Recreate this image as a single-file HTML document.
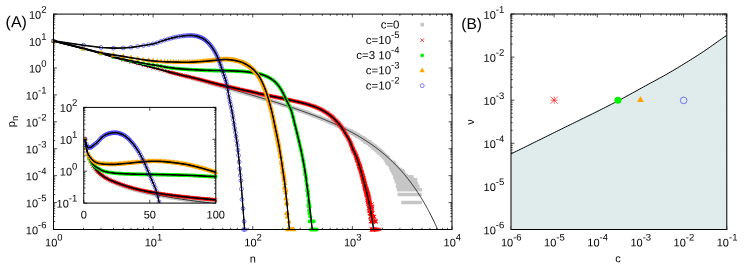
<!DOCTYPE html>
<html><head><meta charset="utf-8"><title>figure</title><style>html,body{margin:0;padding:0;background:#fff;width:747px;height:267px;overflow:hidden}svg{opacity:0.999;will-change:transform}text,tspan{font-family:"Liberation Sans",sans-serif;text-rendering:geometricPrecision}</style></head><body>
<svg width="747" height="267" viewBox="0 0 747 267" style="display:block;position:absolute;left:0;top:0" font-family="'Liberation Sans', sans-serif" fill="#000">
<rect width="747" height="267" fill="#fff"/>
<clipPath id="ca"><rect x="50.5" y="14.1" width="404.5" height="217.9"/></clipPath>
<clipPath id="cl"><rect x="53.5" y="14.1" width="398.5" height="215.4"/></clipPath>
<clipPath id="clu"><rect x="167.68" y="14.1" width="284.32" height="190.9"/></clipPath>
<clipPath id="ciu"><rect x="95.63" y="107.4" width="120.17" height="95.7"/></clipPath>
<clipPath id="ci"><rect x="83.75" y="107.4" width="134.05" height="95.7"/></clipPath>
<g clip-path="url(#ca)">
<path d="M51.7 39.16h3.6v3.6h-3.6zM81.69 47.19h3.6v3.6h-3.6zM99.23 51.87h3.6v3.6h-3.6zM111.68 55.21h3.6v3.6h-3.6zM121.33 57.81h3.6v3.6h-3.6zM129.22 59.89h3.6v3.6h-3.6zM135.89 61.69h3.6v3.6h-3.6zM141.67 63.24h3.6v3.6h-3.6zM146.77 64.64h3.6v3.6h-3.6zM151.32 65.83h3.6v3.6h-3.6zM155.45 66.96h3.6v3.6h-3.6zM159.21 67.96h3.6v3.6h-3.6zM162.68 68.93h3.6v3.6h-3.6zM165.88 69.79h3.6v3.6h-3.6zM168.87 70.56h3.6v3.6h-3.6zM171.66 71.35h3.6v3.6h-3.6zM174.28 72.06h3.6v3.6h-3.6zM176.76 72.7h3.6v3.6h-3.6zM179.1 73.34h3.6v3.6h-3.6zM181.32 73.97h3.6v3.6h-3.6zM183.43 74.5h3.6v3.6h-3.6zM185.44 75.15h3.6v3.6h-3.6zM187.36 75.63h3.6v3.6h-3.6zM189.2 76.15h3.6v3.6h-3.6zM190.97 76.57h3.6v3.6h-3.6zM192.67 77.03h3.6v3.6h-3.6zM194.3 77.54h3.6v3.6h-3.6zM195.87 77.96h3.6v3.6h-3.6zM197.39 78.35h3.6v3.6h-3.6zM198.86 78.76h3.6v3.6h-3.6zM200.28 79.16h3.6v3.6h-3.6zM201.65 79.52h3.6v3.6h-3.6zM202.98 79.85h3.6v3.6h-3.6zM204.27 80.27h3.6v3.6h-3.6zM205.53 80.66h3.6v3.6h-3.6zM206.75 80.96h3.6v3.6h-3.6zM207.93 81.28h3.6v3.6h-3.6zM209.09 81.62h3.6v3.6h-3.6zM210.21 81.89h3.6v3.6h-3.6zM211.31 82.19h3.6v3.6h-3.6zM212.37 82.48h3.6v3.6h-3.6zM213.42 82.79h3.6v3.6h-3.6zM214.43 83.08h3.6v3.6h-3.6zM215.43 83.41h3.6v3.6h-3.6zM216.4 83.65h3.6v3.6h-3.6zM217.35 83.94h3.6v3.6h-3.6zM218.28 84.15h3.6v3.6h-3.6zM219.19 84.42h3.6v3.6h-3.6zM220.09 84.67h3.6v3.6h-3.6zM220.96 84.89h3.6v3.6h-3.6zM221.82 85.17h3.6v3.6h-3.6zM222.66 85.34h3.6v3.6h-3.6zM223.48 85.58h3.6v3.6h-3.6zM224.29 85.89h3.6v3.6h-3.6zM225.08 86.02h3.6v3.6h-3.6zM225.86 86.31h3.6v3.6h-3.6zM226.63 86.54h3.6v3.6h-3.6zM227.38 86.74h3.6v3.6h-3.6zM228.12 86.99h3.6v3.6h-3.6zM228.85 87.12h3.6v3.6h-3.6zM229.56 87.29h3.6v3.6h-3.6zM230.27 87.62h3.6v3.6h-3.6zM230.96 87.72h3.6v3.6h-3.6zM231.64 87.91h3.6v3.6h-3.6zM232.31 88.09h3.6v3.6h-3.6zM232.97 88.28h3.6v3.6h-3.6zM233.62 88.48h3.6v3.6h-3.6zM234.26 88.71h3.6v3.6h-3.6zM235.52 89.03h3.6v3.6h-3.6zM236.13 89.18h3.6v3.6h-3.6zM236.74 89.38h3.6v3.6h-3.6zM237.33 89.58h3.6v3.6h-3.6zM238.5 89.87h3.6v3.6h-3.6zM239.64 90.33h3.6v3.6h-3.6zM240.75 90.64h3.6v3.6h-3.6zM241.83 90.9h3.6v3.6h-3.6zM242.89 91.18h3.6v3.6h-3.6zM243.92 91.5h3.6v3.6h-3.6zM244.92 91.8h3.6v3.6h-3.6zM245.91 92.03h3.6v3.6h-3.6zM246.87 92.38h3.6v3.6h-3.6zM247.81 92.59h3.6v3.6h-3.6zM248.73 92.93h3.6v3.6h-3.6zM249.63 93.11h3.6v3.6h-3.6zM250.52 93.29h3.6v3.6h-3.6zM251.38 93.68h3.6v3.6h-3.6zM252.23 94.02h3.6v3.6h-3.6zM253.06 94.09h3.6v3.6h-3.6zM253.88 94.48h3.6v3.6h-3.6zM254.68 94.66h3.6v3.6h-3.6zM255.47 94.76h3.6v3.6h-3.6zM256.24 95.12h3.6v3.6h-3.6zM257 95.28h3.6v3.6h-3.6zM257.74 95.53h3.6v3.6h-3.6zM258.48 95.8h3.6v3.6h-3.6zM259.2 95.92h3.6v3.6h-3.6zM259.91 96.12h3.6v3.6h-3.6zM260.6 96.52h3.6v3.6h-3.6zM261.63 96.78h3.6v3.6h-3.6zM262.3 97.04h3.6v3.6h-3.6zM263.29 97.31h3.6v3.6h-3.6zM264.25 97.49h3.6v3.6h-3.6zM265.2 97.75h3.6v3.6h-3.6zM266.12 98.15h3.6v3.6h-3.6zM267.03 98.33h3.6v3.6h-3.6zM267.62 98.5h3.6v3.6h-3.6zM268.2 98.78h3.6v3.6h-3.6zM269.07 98.89h3.6v3.6h-3.6zM269.63 99.12h3.6v3.6h-3.6zM270.47 99.6h3.6v3.6h-3.6zM271.29 99.69h3.6v3.6h-3.6zM272.09 99.85h3.6v3.6h-3.6zM272.62 100.1h3.6v3.6h-3.6zM273.4 100.24h3.6v3.6h-3.6zM274.16 100.58h3.6v3.6h-3.6zM274.91 100.78h3.6v3.6h-3.6zM275.65 100.98h3.6v3.6h-3.6zM276.38 101.22h3.6v3.6h-3.6zM277.1 101.54h3.6v3.6h-3.6zM277.8 101.75h3.6v3.6h-3.6zM278.49 101.98h3.6v3.6h-3.6zM279.17 102.19h3.6v3.6h-3.6zM279.84 102.45h3.6v3.6h-3.6zM280.51 102.66h3.6v3.6h-3.6zM281.16 102.8h3.6v3.6h-3.6zM281.8 103.05h3.6v3.6h-3.6zM282.64 103.44h3.6v3.6h-3.6zM283.46 103.64h3.6v3.6h-3.6zM284.27 103.84h3.6v3.6h-3.6zM285.06 103.98h3.6v3.6h-3.6zM285.65 104.18h3.6v3.6h-3.6zM286.42 104.53h3.6v3.6h-3.6zM286.99 104.89h3.6v3.6h-3.6zM287.73 104.94h3.6v3.6h-3.6zM288.47 105.24h3.6v3.6h-3.6zM289.19 105.47h3.6v3.6h-3.6zM289.72 105.71h3.6v3.6h-3.6zM290.42 105.83h3.6v3.6h-3.6zM291.11 106.13h3.6v3.6h-3.6zM291.79 106.23h3.6v3.6h-3.6zM292.29 106.53h3.6v3.6h-3.6zM293.12 106.49h3.6v3.6h-3.6zM293.6 106.84h3.6v3.6h-3.6zM294.08 107.19h3.6v3.6h-3.6zM294.88 107.07h3.6v3.6h-3.6zM295.34 107.43h3.6v3.6h-3.6zM295.81 107.76h3.6v3.6h-3.6zM296.42 108h3.6v3.6h-3.6zM297.17 108.11h3.6v3.6h-3.6zM297.76 108.5h3.6v3.6h-3.6zM298.34 108.8h3.6v3.6h-3.6zM298.91 108.59h3.6v3.6h-3.6zM299.34 109.25h3.6v3.6h-3.6zM300.18 109.46h3.6v3.6h-3.6zM300.87 109.37h3.6v3.6h-3.6zM301.55 109.85h3.6v3.6h-3.6zM302.21 110.15h3.6v3.6h-3.6zM302.87 109.99h3.6v3.6h-3.6zM303.39 110.46h3.6v3.6h-3.6zM304.03 110.6h3.6v3.6h-3.6zM304.78 110.43h3.6v3.6h-3.6zM305.15 111.03h3.6v3.6h-3.6zM305.77 110.87h3.6v3.6h-3.6zM306.01 111.4h3.6v3.6h-3.6zM306.73 111.5h3.6v3.6h-3.6zM307.44 111.77h3.6v3.6h-3.6zM308.02 112.14h3.6v3.6h-3.6zM308.6 112.45h3.6v3.6h-3.6zM309.39 112.72h3.6v3.6h-3.6zM310.06 112.85h3.6v3.6h-3.6zM310.71 113.09h3.6v3.6h-3.6zM311.36 113.44h3.6v3.6h-3.6zM311.89 113.84h3.6v3.6h-3.6zM312.52 113.69h3.6v3.6h-3.6zM313.14 114.04h3.6v3.6h-3.6zM313.86 114.35h3.6v3.6h-3.6zM314.36 114.65h3.6v3.6h-3.6zM314.96 114.92h3.6v3.6h-3.6zM315.74 114.8h3.6v3.6h-3.6zM316.12 115.21h3.6v3.6h-3.6zM316.6 115.58h3.6v3.6h-3.6zM317.16 115.36h3.6v3.6h-3.6zM317.63 115.71h3.6v3.6h-3.6zM318.09 116.22h3.6v3.6h-3.6zM318.82 115.86h3.6v3.6h-3.6zM319.18 116.31h3.6v3.6h-3.6zM319.71 116.78h3.6v3.6h-3.6zM320.32 116.64h3.6v3.6h-3.6zM320.67 117.28h3.6v3.6h-3.6zM321.27 117.09h3.6v3.6h-3.6zM321.86 117.36h3.6v3.6h-3.6zM322.36 117.66h3.6v3.6h-3.6zM323.11 117.81h3.6v3.6h-3.6zM323.67 118.18h3.6v3.6h-3.6zM324.23 118.51h3.6v3.6h-3.6zM324.71 118.84h3.6v3.6h-3.6zM325.18 118.36h3.6v3.6h-3.6zM325.33 119.14h3.6v3.6h-3.6zM325.87 118.88h3.6v3.6h-3.6zM326.25 119.51h3.6v3.6h-3.6zM326.93 119.26h3.6v3.6h-3.6zM327.23 119.81h3.6v3.6h-3.6zM327.67 120.21h3.6v3.6h-3.6zM328.11 119.65h3.6v3.6h-3.6zM328.33 120.35h3.6v3.6h-3.6zM328.98 120.14h3.6v3.6h-3.6zM329.19 120.86h3.6v3.6h-3.6zM329.54 120.09h3.6v3.6h-3.6zM329.75 120.93h3.6v3.6h-3.6zM330.1 121.57h3.6v3.6h-3.6zM330.17 120.69h3.6v3.6h-3.6zM330.65 121.35h3.6v3.6h-3.6zM331.27 121.13h3.6v3.6h-3.6zM331.4 121.76h3.6v3.6h-3.6zM332 121.36h3.6v3.6h-3.6zM332.33 121.88h3.6v3.6h-3.6zM332.79 122.21h3.6v3.6h-3.6zM333.44 122.51h3.6v3.6h-3.6zM333.95 122.21h3.6v3.6h-3.6zM334.14 123.09h3.6v3.6h-3.6zM334.39 122.57h3.6v3.6h-3.6zM334.71 123.02h3.6v3.6h-3.6zM335.02 123.55h3.6v3.6h-3.6zM335.39 123.1h3.6v3.6h-3.6zM335.63 123.68h3.6v3.6h-3.6zM335.94 123.22h3.6v3.6h-3.6zM336.24 123.86h3.6v3.6h-3.6zM336.9 123.69h3.6v3.6h-3.6zM337.08 124.38h3.6v3.6h-3.6zM337.49 124.03h3.6v3.6h-3.6zM337.78 124.64h3.6v3.6h-3.6zM338.42 124.41h3.6v3.6h-3.6zM338.7 125.36h3.6v3.6h-3.6zM338.87 124.78h3.6v3.6h-3.6zM339.32 125.17h3.6v3.6h-3.6zM339.66 125.66h3.6v3.6h-3.6zM340.1 125.33h3.6v3.6h-3.6zM340.49 125.81h3.6v3.6h-3.6zM341.03 126.11h3.6v3.6h-3.6zM341.67 126.35h3.6v3.6h-3.6zM342.2 126.64h3.6v3.6h-3.6zM342.51 127.21h3.6v3.6h-3.6zM342.62 126.47h3.6v3.6h-3.6zM342.82 127.11h3.6v3.6h-3.6zM342.88 126.38h3.6v3.6h-3.6zM342.98 127.09h3.6v3.6h-3.6zM343.29 127.65h3.6v3.6h-3.6zM343.39 126.88h3.6v3.6h-3.6zM343.54 127.64h3.6v3.6h-3.6zM343.8 127.02h3.6v3.6h-3.6zM344 127.72h3.6v3.6h-3.6zM344.35 128.27h3.6v3.6h-3.6zM344.4 127.43h3.6v3.6h-3.6zM344.7 127.94h3.6v3.6h-3.6zM344.99 128.51h3.6v3.6h-3.6zM345.09 127.72h3.6v3.6h-3.6zM345.14 128.89h3.6v3.6h-3.6zM345.19 127.7h3.6v3.6h-3.6zM345.53 128.18h3.6v3.6h-3.6zM346.11 128.73h3.6v3.6h-3.6zM346.3 129.37h3.6v3.6h-3.6zM346.4 128.7h3.6v3.6h-3.6zM346.64 129.31h3.6v3.6h-3.6zM346.73 128.53h3.6v3.6h-3.6zM347.11 128.95h3.6v3.6h-3.6zM347.2 129.67h3.6v3.6h-3.6zM347.25 128.87h3.6v3.6h-3.6zM347.34 129.87h3.6v3.6h-3.6zM347.39 128.88h3.6v3.6h-3.6zM347.53 129.49h3.6v3.6h-3.6zM348.08 130h3.6v3.6h-3.6zM348.22 129.27h3.6v3.6h-3.6zM348.45 129.87h3.6v3.6h-3.6zM348.67 129.3h3.6v3.6h-3.6zM348.72 130.05h3.6v3.6h-3.6zM348.9 129.43h3.6v3.6h-3.6zM348.99 130.37h3.6v3.6h-3.6zM349.26 129.32h3.6v3.6h-3.6zM349.3 130.25h3.6v3.6h-3.6zM349.75 130.56h3.6v3.6h-3.6zM350.18 130.03h3.6v3.6h-3.6zM350.36 131.23h3.6v3.6h-3.6zM350.45 130.54h3.6v3.6h-3.6zM350.62 131.4h3.6v3.6h-3.6zM350.92 130.79h3.6v3.6h-3.6zM351.05 131.46h3.6v3.6h-3.6zM351.56 130.7h3.6v3.6h-3.6zM351.6 131.47h3.6v3.6h-3.6zM351.77 132.08h3.6v3.6h-3.6zM351.85 131.36h3.6v3.6h-3.6zM351.98 132.19h3.6v3.6h-3.6zM352.11 131.21h3.6v3.6h-3.6zM352.19 132.22h3.6v3.6h-3.6zM352.4 131.58h3.6v3.6h-3.6zM352.81 132.14h3.6v3.6h-3.6zM353.06 131.6h3.6v3.6h-3.6zM353.14 132.33h3.6v3.6h-3.6zM353.58 131.98h3.6v3.6h-3.6zM353.62 133.35h3.6v3.6h-3.6zM353.66 132.45h3.6v3.6h-3.6zM354.1 132.8h3.6v3.6h-3.6zM354.3 133.5h3.6v3.6h-3.6zM354.46 132.8h3.6v3.6h-3.6zM354.74 133.34h3.6v3.6h-3.6zM355.05 132.79h3.6v3.6h-3.6zM355.09 133.85h3.6v3.6h-3.6zM355.17 134.67h3.6v3.6h-3.6zM355.21 133.25h3.6v3.6h-3.6zM355.4 133.9h3.6v3.6h-3.6zM355.48 133.15h3.6v3.6h-3.6zM355.59 133.86h3.6v3.6h-3.6zM355.71 133.1h3.6v3.6h-3.6zM355.79 133.81h3.6v3.6h-3.6zM356.09 134.9h3.6v3.6h-3.6zM356.13 134.06h3.6v3.6h-3.6zM356.24 133.28h3.6v3.6h-3.6zM356.28 134.26h3.6v3.6h-3.6zM356.43 133.6h3.6v3.6h-3.6zM356.47 134.88h3.6v3.6h-3.6zM356.51 134.04h3.6v3.6h-3.6zM356.7 134.89h3.6v3.6h-3.6zM356.73 134.07h3.6v3.6h-3.6zM356.92 134.75h3.6v3.6h-3.6zM357.22 134.26h3.6v3.6h-3.6zM357.33 134.9h3.6v3.6h-3.6zM357.63 134.41h3.6v3.6h-3.6zM357.81 135.09h3.6v3.6h-3.6zM358.1 135.66h3.6v3.6h-3.6zM358.28 134.81h3.6v3.6h-3.6zM358.39 135.65h3.6v3.6h-3.6zM358.75 135.02h3.6v3.6h-3.6zM358.79 135.84h3.6v3.6h-3.6zM358.97 135.26h3.6v3.6h-3.6zM359.07 136.51h3.6v3.6h-3.6zM359.11 135.67h3.6v3.6h-3.6zM359.32 136.27h3.6v3.6h-3.6zM359.6 135.45h3.6v3.6h-3.6zM359.67 136.48h3.6v3.6h-3.6zM360.06 135.64h3.6v3.6h-3.6zM360.09 136.42h3.6v3.6h-3.6zM360.26 137.25h3.6v3.6h-3.6zM360.3 135.88h3.6v3.6h-3.6zM360.51 137.65h3.6v3.6h-3.6zM360.54 136.18h3.6v3.6h-3.6zM360.61 136.95h3.6v3.6h-3.6zM360.75 137.63h3.6v3.6h-3.6zM360.78 136.13h3.6v3.6h-3.6zM360.81 137.97h3.6v3.6h-3.6zM360.85 136.85h3.6v3.6h-3.6zM361.12 137.59h3.6v3.6h-3.6zM361.19 136.63h3.6v3.6h-3.6zM361.22 137.65h3.6v3.6h-3.6zM361.29 136.23h3.6v3.6h-3.6zM361.32 137.53h3.6v3.6h-3.6zM361.53 138.32h3.6v3.6h-3.6zM361.56 137.6h3.6v3.6h-3.6zM361.66 136.8h3.6v3.6h-3.6zM361.73 138.73h3.6v3.6h-3.6zM361.79 137.87h3.6v3.6h-3.6zM361.96 138.59h3.6v3.6h-3.6zM361.99 137.29h3.6v3.6h-3.6zM362.03 138.08h3.6v3.6h-3.6zM362.23 137.35h3.6v3.6h-3.6zM362.26 138.28h3.6v3.6h-3.6zM362.39 136.91h3.6v3.6h-3.6zM362.42 138.51h3.6v3.6h-3.6zM362.46 136.87h3.6v3.6h-3.6zM362.49 138.37h3.6v3.6h-3.6zM362.59 137.55h3.6v3.6h-3.6zM362.69 138.23h3.6v3.6h-3.6zM362.75 137.47h3.6v3.6h-3.6zM362.78 138.38h3.6v3.6h-3.6zM362.82 137.64h3.6v3.6h-3.6zM362.91 138.72h3.6v3.6h-3.6zM363.01 139.58h3.6v3.6h-3.6zM363.04 138.53h3.6v3.6h-3.6zM363.14 137.68h3.6v3.6h-3.6zM363.21 138.9h3.6v3.6h-3.6zM363.4 137.83h3.6v3.6h-3.6zM363.46 138.54h3.6v3.6h-3.6zM363.62 139.14h3.6v3.6h-3.6zM363.91 138.62h3.6v3.6h-3.6zM364.01 139.33h3.6v3.6h-3.6zM364.07 140.32h3.6v3.6h-3.6zM364.1 138.73h3.6v3.6h-3.6zM364.2 139.53h3.6v3.6h-3.6zM364.23 138.51h3.6v3.6h-3.6zM364.26 139.43h3.6v3.6h-3.6zM364.29 138.55h3.6v3.6h-3.6zM364.32 139.29h3.6v3.6h-3.6zM364.82 138.99h3.6v3.6h-3.6zM364.92 139.66h3.6v3.6h-3.6zM365.1 139.04h3.6v3.6h-3.6zM365.13 140.33h3.6v3.6h-3.6zM365.29 139.53h3.6v3.6h-3.6zM365.32 138.66h3.6v3.6h-3.6zM365.35 140.49h3.6v3.6h-3.6zM365.5 139.39h3.6v3.6h-3.6zM365.62 140.89h3.6v3.6h-3.6zM365.66 140.03h3.6v3.6h-3.6zM365.87 140.58h3.6v3.6h-3.6zM365.93 141.32h3.6v3.6h-3.6zM365.96 140.1h3.6v3.6h-3.6zM366.23 140.58h3.6v3.6h-3.6zM366.56 141.31h3.6v3.6h-3.6zM366.65 140.42h3.6v3.6h-3.6zM366.77 141.37h3.6v3.6h-3.6zM367.01 139.92h3.6v3.6h-3.6zM367.04 141.15h3.6v3.6h-3.6zM367.3 141.69h3.6v3.6h-3.6zM367.48 141.1h3.6v3.6h-3.6zM367.62 141.97h3.6v3.6h-3.6zM367.65 141.2h3.6v3.6h-3.6zM367.71 139.89h3.6v3.6h-3.6zM367.74 141.28h3.6v3.6h-3.6zM367.83 142.41h3.6v3.6h-3.6zM367.89 140.75h3.6v3.6h-3.6zM367.92 141.54h3.6v3.6h-3.6zM368.03 142.27h3.6v3.6h-3.6zM368.18 143.33h3.6v3.6h-3.6zM368.23 141.54h3.6v3.6h-3.6zM368.32 142.66h3.6v3.6h-3.6zM368.41 141.56h3.6v3.6h-3.6zM368.52 142.39h3.6v3.6h-3.6zM368.61 141.69h3.6v3.6h-3.6zM368.69 142.87h3.6v3.6h-3.6zM368.78 142.11h3.6v3.6h-3.6zM368.8 143.5h3.6v3.6h-3.6zM368.83 141.73h3.6v3.6h-3.6zM368.86 142.58h3.6v3.6h-3.6zM369.03 141.96h3.6v3.6h-3.6zM369.12 142.84h3.6v3.6h-3.6zM369.14 142.02h3.6v3.6h-3.6zM369.28 143.43h3.6v3.6h-3.6zM369.31 142.44h3.6v3.6h-3.6zM369.34 143.61h3.6v3.6h-3.6zM369.37 142.57h3.6v3.6h-3.6zM369.45 143.43h3.6v3.6h-3.6zM369.48 142.39h3.6v3.6h-3.6zM369.56 143.33h3.6v3.6h-3.6zM369.65 142.5h3.6v3.6h-3.6zM369.68 143.73h3.6v3.6h-3.6zM369.82 142.61h3.6v3.6h-3.6zM369.95 143.57h3.6v3.6h-3.6zM370.04 142.27h3.6v3.6h-3.6zM370.06 144.63h3.6v3.6h-3.6zM370.09 143.68h3.6v3.6h-3.6zM370.17 142.98h3.6v3.6h-3.6zM370.23 144.14h3.6v3.6h-3.6zM370.28 143.31h3.6v3.6h-3.6zM370.5 144.21h3.6v3.6h-3.6zM370.53 142.98h3.6v3.6h-3.6zM370.56 143.86h3.6v3.6h-3.6zM370.61 142.68h3.6v3.6h-3.6zM370.67 143.81h3.6v3.6h-3.6zM370.8 144.91h3.6v3.6h-3.6zM370.83 143.76h3.6v3.6h-3.6zM370.91 143.07h3.6v3.6h-3.6zM370.94 144.77h3.6v3.6h-3.6zM370.99 143.65h3.6v3.6h-3.6zM371.1 145.18h3.6v3.6h-3.6zM371.13 143h3.6v3.6h-3.6zM371.15 144.57h3.6v3.6h-3.6zM371.26 143.82h3.6v3.6h-3.6zM371.45 144.91h3.6v3.6h-3.6zM371.53 146.05h3.6v3.6h-3.6zM371.55 145.25h3.6v3.6h-3.6zM371.66 144.11h3.6v3.6h-3.6zM371.77 144.9h3.6v3.6h-3.6zM371.85 145.78h3.6v3.6h-3.6zM371.9 144.46h3.6v3.6h-3.6zM371.98 145.5h3.6v3.6h-3.6zM372.01 144.55h3.6v3.6h-3.6zM372.03 145.3h3.6v3.6h-3.6zM372.11 143.98h3.6v3.6h-3.6zM372.16 145.47h3.6v3.6h-3.6zM372.24 144.71h3.6v3.6h-3.6zM372.32 145.83h3.6v3.6h-3.6zM372.35 144.97h3.6v3.6h-3.6zM372.4 146.11h3.6v3.6h-3.6zM372.43 145.35h3.6v3.6h-3.6zM372.71 144.24h3.6v3.6h-3.6zM372.74 147.01h3.6v3.6h-3.6zM372.76 145.85h3.6v3.6h-3.6zM372.84 144.6h3.6v3.6h-3.6zM372.87 145.64h3.6v3.6h-3.6zM373 144.29h3.6v3.6h-3.6zM373.02 146.09h3.6v3.6h-3.6zM373.1 147.02h3.6v3.6h-3.6zM373.12 145.42h3.6v3.6h-3.6zM373.18 147h3.6v3.6h-3.6zM373.2 145.99h3.6v3.6h-3.6zM373.28 145.28h3.6v3.6h-3.6zM373.3 146.26h3.6v3.6h-3.6zM373.35 145.5h3.6v3.6h-3.6zM373.43 147h3.6v3.6h-3.6zM373.51 146.17h3.6v3.6h-3.6zM373.56 145.34h3.6v3.6h-3.6zM373.61 146.09h3.6v3.6h-3.6zM373.66 145.14h3.6v3.6h-3.6zM373.69 146.19h3.6v3.6h-3.6zM373.86 146.87h3.6v3.6h-3.6zM373.94 145.25h3.6v3.6h-3.6zM373.96 147.64h3.6v3.6h-3.6zM373.99 146.43h3.6v3.6h-3.6zM374.22 147.27h3.6v3.6h-3.6zM374.34 146.12h3.6v3.6h-3.6zM374.37 147.13h3.6v3.6h-3.6zM374.42 146.36h3.6v3.6h-3.6zM374.44 147.1h3.6v3.6h-3.6zM374.56 148.34h3.6v3.6h-3.6zM374.59 146.11h3.6v3.6h-3.6zM374.64 147.93h3.6v3.6h-3.6zM374.66 146.5h3.6v3.6h-3.6zM374.86 147.57h3.6v3.6h-3.6zM374.91 146.74h3.6v3.6h-3.6zM374.94 148.36h3.6v3.6h-3.6zM374.96 147.5h3.6v3.6h-3.6zM375.03 146.54h3.6v3.6h-3.6zM375.08 147.52h3.6v3.6h-3.6zM375.16 146.72h3.6v3.6h-3.6zM375.21 147.56h3.6v3.6h-3.6zM375.25 146.83h3.6v3.6h-3.6zM375.28 148.83h3.6v3.6h-3.6zM375.38 147.63h3.6v3.6h-3.6zM375.52 147h3.6v3.6h-3.6zM375.55 147.86h3.6v3.6h-3.6zM375.6 146.92h3.6v3.6h-3.6zM375.67 148.18h3.6v3.6h-3.6zM375.81 146.82h3.6v3.6h-3.6zM375.84 149h3.6v3.6h-3.6zM375.86 147.5h3.6v3.6h-3.6zM375.89 148.77h3.6v3.6h-3.6zM375.91 147.89h3.6v3.6h-3.6zM376.01 148.68h3.6v3.6h-3.6zM376.1 147.73h3.6v3.6h-3.6zM376.15 149.44h3.6v3.6h-3.6zM376.17 148.01h3.6v3.6h-3.6zM376.44 149.29h3.6v3.6h-3.6zM376.48 147.67h3.6v3.6h-3.6zM376.51 148.72h3.6v3.6h-3.6zM376.53 149.83h3.6v3.6h-3.6zM376.56 148.13h3.6v3.6h-3.6zM376.6 149.19h3.6v3.6h-3.6zM376.67 148.5h3.6v3.6h-3.6zM376.72 149.39h3.6v3.6h-3.6zM376.75 148.46h3.6v3.6h-3.6zM376.79 149.92h3.6v3.6h-3.6zM376.84 149.09h3.6v3.6h-3.6zM376.93 147.81h3.6v3.6h-3.6zM376.96 148.75h3.6v3.6h-3.6zM377 150.1h3.6v3.6h-3.6zM377.05 148.39h3.6v3.6h-3.6zM377.07 150.09h3.6v3.6h-3.6zM377.1 148.26h3.6v3.6h-3.6zM377.15 149.06h3.6v3.6h-3.6zM377.19 149.99h3.6v3.6h-3.6zM377.29 148.48h3.6v3.6h-3.6zM377.31 149.99h3.6v3.6h-3.6zM377.38 149.25h3.6v3.6h-3.6zM377.45 148.2h3.6v3.6h-3.6zM377.47 149.09h3.6v3.6h-3.6zM377.49 150.05h3.6v3.6h-3.6zM377.54 149.31h3.6v3.6h-3.6zM377.59 150.29h3.6v3.6h-3.6zM377.61 149.33h3.6v3.6h-3.6zM377.63 150.43h3.6v3.6h-3.6zM377.66 149.66h3.6v3.6h-3.6zM377.7 151.53h3.6v3.6h-3.6zM377.73 149.26h3.6v3.6h-3.6zM377.75 148.33h3.6v3.6h-3.6zM377.77 149.96h3.6v3.6h-3.6zM377.82 149.13h3.6v3.6h-3.6zM377.84 150.69h3.6v3.6h-3.6zM377.86 149.77h3.6v3.6h-3.6zM377.96 150.46h3.6v3.6h-3.6zM378 149.47h3.6v3.6h-3.6zM378.03 150.54h3.6v3.6h-3.6zM378.09 149.65h3.6v3.6h-3.6zM378.14 150.63h3.6v3.6h-3.6zM378.16 149.83h3.6v3.6h-3.6zM378.19 151.54h3.6v3.6h-3.6zM378.23 149.92h3.6v3.6h-3.6zM378.25 148.92h3.6v3.6h-3.6zM378.28 150.5h3.6v3.6h-3.6zM378.44 149.03h3.6v3.6h-3.6zM378.46 151.01h3.6v3.6h-3.6zM378.48 149.33h3.6v3.6h-3.6zM378.5 151.14h3.6v3.6h-3.6zM378.53 149.85h3.6v3.6h-3.6zM378.57 149h3.6v3.6h-3.6zM378.6 150.53h3.6v3.6h-3.6zM378.62 151.68h3.6v3.6h-3.6zM378.64 149.91h3.6v3.6h-3.6zM378.66 151.02h3.6v3.6h-3.6zM378.75 150.06h3.6v3.6h-3.6zM378.84 150.95h3.6v3.6h-3.6zM378.87 150.2h3.6v3.6h-3.6zM378.91 149.49h3.6v3.6h-3.6zM378.93 150.63h3.6v3.6h-3.6zM378.98 151.47h3.6v3.6h-3.6zM379.05 150.68h3.6v3.6h-3.6zM379.07 151.87h3.6v3.6h-3.6zM379.11 151.06h3.6v3.6h-3.6zM379.25 151.84h3.6v3.6h-3.6zM379.27 150.91h3.6v3.6h-3.6zM379.29 151.91h3.6v3.6h-3.6zM379.31 150.29h3.6v3.6h-3.6zM379.38 151.79h3.6v3.6h-3.6zM379.47 150.51h3.6v3.6h-3.6zM379.54 152.24h3.6v3.6h-3.6zM379.56 150.57h3.6v3.6h-3.6zM379.6 151.78h3.6v3.6h-3.6zM379.62 153.42h3.6v3.6h-3.6zM379.65 152.01h3.6v3.6h-3.6zM379.69 150.36h3.6v3.6h-3.6zM379.71 151.32h3.6v3.6h-3.6zM379.76 150.41h3.6v3.6h-3.6zM379.8 151.29h3.6v3.6h-3.6zM379.87 152.17h3.6v3.6h-3.6zM379.89 151.35h3.6v3.6h-3.6zM379.93 152.43h3.6v3.6h-3.6zM379.96 151.35h3.6v3.6h-3.6zM380 150.44h3.6v3.6h-3.6zM380.02 151.21h3.6v3.6h-3.6zM380.06 151.95h3.6v3.6h-3.6zM380.09 153.01h3.6v3.6h-3.6zM380.13 151.58h3.6v3.6h-3.6zM380.15 152.35h3.6v3.6h-3.6zM380.17 150.57h3.6v3.6h-3.6zM380.22 152.11h3.6v3.6h-3.6zM380.24 150.75h3.6v3.6h-3.6zM380.26 151.53h3.6v3.6h-3.6zM380.35 152.26h3.6v3.6h-3.6zM380.39 151.29h3.6v3.6h-3.6zM380.44 152.08h3.6v3.6h-3.6zM380.48 152.9h3.6v3.6h-3.6zM380.52 151.88h3.6v3.6h-3.6zM380.54 153.27h3.6v3.6h-3.6zM380.61 152.19h3.6v3.6h-3.6zM380.69 153.22h3.6v3.6h-3.6zM380.74 152.45h3.6v3.6h-3.6zM380.76 151.38h3.6v3.6h-3.6zM380.78 152.72h3.6v3.6h-3.6zM380.85 153.48h3.6v3.6h-3.6zM380.87 151.8h3.6v3.6h-3.6zM380.91 153.84h3.6v3.6h-3.6zM380.95 151.68h3.6v3.6h-3.6zM380.97 153.4h3.6v3.6h-3.6zM381.04 152.52h3.6v3.6h-3.6zM381.06 153.41h3.6v3.6h-3.6zM381.12 151.46h3.6v3.6h-3.6zM381.17 152.72h3.6v3.6h-3.6zM381.32 154.05h3.6v3.6h-3.6zM381.36 152.54h3.6v3.6h-3.6zM381.38 154.28h3.6v3.6h-3.6zM381.4 151.92h3.6v3.6h-3.6zM381.42 153.37h3.6v3.6h-3.6zM381.46 152.19h3.6v3.6h-3.6zM381.49 153.25h3.6v3.6h-3.6zM381.59 154.05h3.6v3.6h-3.6zM381.61 152.83h3.6v3.6h-3.6zM381.68 154.03h3.6v3.6h-3.6zM381.7 152.71h3.6v3.6h-3.6zM381.74 153.88h3.6v3.6h-3.6zM381.76 155.07h3.6v3.6h-3.6zM381.78 154.1h3.6v3.6h-3.6zM381.82 152.56h3.6v3.6h-3.6zM381.89 154.16h3.6v3.6h-3.6zM381.91 153.05h3.6v3.6h-3.6zM381.95 154.56h3.6v3.6h-3.6zM381.99 152.95h3.6v3.6h-3.6zM382.01 155.17h3.6v3.6h-3.6zM382.03 152.8h3.6v3.6h-3.6zM382.07 153.8h3.6v3.6h-3.6zM382.1 154.56h3.6v3.6h-3.6zM382.16 153.6h3.6v3.6h-3.6zM382.2 154.6h3.6v3.6h-3.6zM382.26 153.11h3.6v3.6h-3.6zM382.3 154.79h3.6v3.6h-3.6zM382.35 153.98h3.6v3.6h-3.6zM382.37 155.72h3.6v3.6h-3.6zM382.39 154.61h3.6v3.6h-3.6zM382.43 155.43h3.6v3.6h-3.6zM382.45 154.05h3.6v3.6h-3.6zM382.53 155.12h3.6v3.6h-3.6zM382.55 153.98h3.6v3.6h-3.6zM382.61 155.08h3.6v3.6h-3.6zM382.63 153.93h3.6v3.6h-3.6zM382.7 153.2h3.6v3.6h-3.6zM382.72 155.87h3.6v3.6h-3.6zM382.74 154.59h3.6v3.6h-3.6zM382.76 155.5h3.6v3.6h-3.6zM382.78 153.78h3.6v3.6h-3.6zM382.82 154.88h3.6v3.6h-3.6zM382.86 153.6h3.6v3.6h-3.6zM382.88 154.52h3.6v3.6h-3.6zM382.92 156.22h3.6v3.6h-3.6zM382.94 155.38h3.6v3.6h-3.6zM382.96 153.95h3.6v3.6h-3.6zM382.98 156.12h3.6v3.6h-3.6zM383 154.58h3.6v3.6h-3.6zM383.09 155.57h3.6v3.6h-3.6zM383.11 153.8h3.6v3.6h-3.6zM383.13 155.34h3.6v3.6h-3.6zM383.15 154.13h3.6v3.6h-3.6zM383.17 155.51h3.6v3.6h-3.6zM383.23 153.7h3.6v3.6h-3.6zM383.25 156.03h3.6v3.6h-3.6zM383.29 153.93h3.6v3.6h-3.6zM383.33 155.21h3.6v3.6h-3.6zM383.37 156.4h3.6v3.6h-3.6zM383.39 155.48h3.6v3.6h-3.6zM383.43 154.28h3.6v3.6h-3.6zM383.49 155.02h3.6v3.6h-3.6zM383.51 156.02h3.6v3.6h-3.6zM383.55 154.15h3.6v3.6h-3.6zM383.57 155.35h3.6v3.6h-3.6zM383.59 154.29h3.6v3.6h-3.6zM383.61 156.98h3.6v3.6h-3.6zM383.63 155.95h3.6v3.6h-3.6zM383.71 156.84h3.6v3.6h-3.6zM383.73 155.69h3.6v3.6h-3.6zM383.75 157.88h3.6v3.6h-3.6zM383.77 156.21h3.6v3.6h-3.6zM383.79 155.32h3.6v3.6h-3.6zM383.81 156.79h3.6v3.6h-3.6zM383.83 155.79h3.6v3.6h-3.6zM383.85 156.58h3.6v3.6h-3.6zM383.89 155.59h3.6v3.6h-3.6zM383.96 156.57h3.6v3.6h-3.6zM383.98 154.6h3.6v3.6h-3.6zM383.99 155.63h3.6v3.6h-3.6zM384.01 156.54h3.6v3.6h-3.6zM384.03 154.81h3.6v3.6h-3.6zM384.05 156.35h3.6v3.6h-3.6zM384.07 154.35h3.6v3.6h-3.6zM384.09 155.29h3.6v3.6h-3.6zM384.11 156.15h3.6v3.6h-3.6zM384.15 156.88h3.6v3.6h-3.6zM384.21 154.99h3.6v3.6h-3.6zM384.23 156.02h3.6v3.6h-3.6zM384.31 157.49h3.6v3.6h-3.6zM384.35 155.07h3.6v3.6h-3.6zM384.37 156.6h3.6v3.6h-3.6zM384.39 154.96h3.6v3.6h-3.6zM384.43 156.15h3.6v3.6h-3.6zM384.55 155.21h3.6v3.6h-3.6zM384.57 156.65h3.6v3.6h-3.6zM384.59 155.77h3.6v3.6h-3.6zM384.65 155.04h3.6v3.6h-3.6zM384.67 158.23h3.6v3.6h-3.6zM384.69 155.64h3.6v3.6h-3.6zM384.71 157.32h3.6v3.6h-3.6zM384.73 156.55h3.6v3.6h-3.6zM384.79 158.18h3.6v3.6h-3.6zM384.81 159.69h3.6v3.6h-3.6zM384.83 154.98h3.6v3.6h-3.6zM384.85 156.08h3.6v3.6h-3.6zM384.87 157.13h3.6v3.6h-3.6zM384.89 158.85h3.6v3.6h-3.6zM384.9 156.32h3.6v3.6h-3.6zM384.92 155.55h3.6v3.6h-3.6zM384.94 156.58h3.6v3.6h-3.6zM384.96 158.79h3.6v3.6h-3.6zM384.98 157.64h3.6v3.6h-3.6zM385 156.79h3.6v3.6h-3.6zM385.04 156.01h3.6v3.6h-3.6zM385.06 158.24h3.6v3.6h-3.6zM385.1 159.89h3.6v3.6h-3.6zM385.12 156.26h3.6v3.6h-3.6zM385.16 157.64h3.6v3.6h-3.6zM385.18 159.2h3.6v3.6h-3.6zM385.2 156.53h3.6v3.6h-3.6zM385.22 158.55h3.6v3.6h-3.6zM385.26 159.54h3.6v3.6h-3.6zM385.29 158.55h3.6v3.6h-3.6zM385.33 156.53h3.6v3.6h-3.6zM385.37 157.35h3.6v3.6h-3.6zM385.43 158.55h3.6v3.6h-3.6zM385.45 157.07h3.6v3.6h-3.6zM385.47 158.55h3.6v3.6h-3.6zM385.51 157.64h3.6v3.6h-3.6zM385.53 158.55h3.6v3.6h-3.6zM385.56 156.79h3.6v3.6h-3.6zM385.58 159.54h3.6v3.6h-3.6zM385.64 158.24h3.6v3.6h-3.6zM385.68 161.4h3.6v3.6h-3.6zM385.7 158.55h3.6v3.6h-3.6zM385.72 156.53h3.6v3.6h-3.6zM385.76 157.35h3.6v3.6h-3.6zM385.81 158.24h3.6v3.6h-3.6zM385.83 159.54h3.6v3.6h-3.6zM385.85 157.94h3.6v3.6h-3.6zM386.01 159.89h3.6v3.6h-3.6zM386.03 157.64h3.6v3.6h-3.6zM386.06 159.2h3.6v3.6h-3.6zM386.08 158.24h3.6v3.6h-3.6zM386.12 161.81h3.6v3.6h-3.6zM386.14 156.53h3.6v3.6h-3.6zM386.16 157.64h3.6v3.6h-3.6zM386.18 158.55h3.6v3.6h-3.6zM386.22 160.62h3.6v3.6h-3.6zM386.23 155.75h3.6v3.6h-3.6zM386.25 158.87h3.6v3.6h-3.6zM386.27 157.94h3.6v3.6h-3.6zM386.29 159.2h3.6v3.6h-3.6zM386.4 158.55h3.6v3.6h-3.6zM386.54 159.2h3.6v3.6h-3.6zM386.56 157.64h3.6v3.6h-3.6zM386.57 161.81h3.6v3.6h-3.6zM386.59 159.89h3.6v3.6h-3.6zM386.61 161h3.6v3.6h-3.6zM386.63 158.55h3.6v3.6h-3.6zM386.65 157.64h3.6v3.6h-3.6zM386.67 160.62h3.6v3.6h-3.6zM386.69 159.2h3.6v3.6h-3.6zM386.71 161h3.6v3.6h-3.6zM386.72 160.25h3.6v3.6h-3.6zM386.74 157.64h3.6v3.6h-3.6zM386.76 159.2h3.6v3.6h-3.6zM386.78 157.94h3.6v3.6h-3.6zM386.8 159.2h3.6v3.6h-3.6zM386.82 158.24h3.6v3.6h-3.6zM386.89 159.2h3.6v3.6h-3.6zM386.97 160.25h3.6v3.6h-3.6zM386.99 158.55h3.6v3.6h-3.6zM387.08 159.89h3.6v3.6h-3.6zM387.12 161.4h3.6v3.6h-3.6zM387.15 159.89h3.6v3.6h-3.6zM387.17 158.24h3.6v3.6h-3.6zM387.21 160.62h3.6v3.6h-3.6zM387.23 161.4h3.6v3.6h-3.6zM387.25 159.2h3.6v3.6h-3.6zM387.32 162.24h3.6v3.6h-3.6zM387.34 159.54h3.6v3.6h-3.6zM387.38 158.24h3.6v3.6h-3.6zM387.4 159.54h3.6v3.6h-3.6zM387.43 158.55h3.6v3.6h-3.6zM387.45 162.24h3.6v3.6h-3.6zM387.47 159.54h3.6v3.6h-3.6zM387.49 161.4h3.6v3.6h-3.6zM387.51 160.25h3.6v3.6h-3.6zM387.52 161h3.6v3.6h-3.6zM387.54 159.54h3.6v3.6h-3.6zM387.58 161.4h3.6v3.6h-3.6zM387.6 160.62h3.6v3.6h-3.6zM387.62 159.2h3.6v3.6h-3.6zM387.67 161.81h3.6v3.6h-3.6zM387.69 160.62h3.6v3.6h-3.6zM387.73 161.4h3.6v3.6h-3.6zM387.74 160.62h3.6v3.6h-3.6zM387.76 162.24h3.6v3.6h-3.6zM387.78 161h3.6v3.6h-3.6zM387.8 162.68h3.6v3.6h-3.6zM387.82 161.4h3.6v3.6h-3.6zM387.84 159.89h3.6v3.6h-3.6zM387.85 161h3.6v3.6h-3.6zM387.87 160.25h3.6v3.6h-3.6zM387.89 161.4h3.6v3.6h-3.6zM387.91 159.2h3.6v3.6h-3.6zM387.93 161h3.6v3.6h-3.6zM387.95 159.89h3.6v3.6h-3.6zM387.98 162.68h3.6v3.6h-3.6zM388 161.81h3.6v3.6h-3.6zM388.02 161h3.6v3.6h-3.6zM388.07 159.89h3.6v3.6h-3.6zM388.09 161.81h3.6v3.6h-3.6zM388.11 160.25h3.6v3.6h-3.6zM388.15 159.2h3.6v3.6h-3.6zM388.16 160.62h3.6v3.6h-3.6zM388.2 162.68h3.6v3.6h-3.6zM388.24 161h3.6v3.6h-3.6zM388.25 160.25h3.6v3.6h-3.6zM388.29 162.24h3.6v3.6h-3.6zM388.31 160.62h3.6v3.6h-3.6zM388.36 163.61h3.6v3.6h-3.6zM388.38 162.24h3.6v3.6h-3.6zM388.4 160.62h3.6v3.6h-3.6zM388.44 161.4h3.6v3.6h-3.6zM388.49 162.24h3.6v3.6h-3.6zM388.54 163.14h3.6v3.6h-3.6zM388.56 162.24h3.6v3.6h-3.6zM388.63 160.62h3.6v3.6h-3.6zM388.65 162.68h3.6v3.6h-3.6zM388.67 161h3.6v3.6h-3.6zM388.72 162.68h3.6v3.6h-3.6zM388.74 159.89h3.6v3.6h-3.6zM388.78 164.11h3.6v3.6h-3.6zM388.79 162.24h3.6v3.6h-3.6zM388.81 161h3.6v3.6h-3.6zM388.83 162.68h3.6v3.6h-3.6zM388.85 161h3.6v3.6h-3.6zM388.88 162.24h3.6v3.6h-3.6zM388.9 165.17h3.6v3.6h-3.6zM388.92 162.24h3.6v3.6h-3.6zM388.94 163.61h3.6v3.6h-3.6zM388.96 161.4h3.6v3.6h-3.6zM388.97 159.54h3.6v3.6h-3.6zM388.99 161.4h3.6v3.6h-3.6zM389.01 162.68h3.6v3.6h-3.6zM389.03 164.63h3.6v3.6h-3.6zM389.04 162.24h3.6v3.6h-3.6zM389.06 163.61h3.6v3.6h-3.6zM389.1 162.68h3.6v3.6h-3.6zM389.15 163.61h3.6v3.6h-3.6zM389.17 160.25h3.6v3.6h-3.6zM389.2 162.24h3.6v3.6h-3.6zM389.22 161h3.6v3.6h-3.6zM389.26 161.81h3.6v3.6h-3.6zM389.29 165.17h3.6v3.6h-3.6zM389.31 166.34h3.6v3.6h-3.6zM389.33 162.24h3.6v3.6h-3.6zM389.35 165.17h3.6v3.6h-3.6zM389.36 162.24h3.6v3.6h-3.6zM389.38 160.62h3.6v3.6h-3.6zM389.4 165.17h3.6v3.6h-3.6zM389.42 161.81h3.6v3.6h-3.6zM389.43 162.68h3.6v3.6h-3.6zM389.45 164.63h3.6v3.6h-3.6zM389.47 163.14h3.6v3.6h-3.6zM389.49 165.17h3.6v3.6h-3.6zM389.5 161.81h3.6v3.6h-3.6zM389.57 163.61h3.6v3.6h-3.6zM389.59 164.63h3.6v3.6h-3.6zM389.61 161.81h3.6v3.6h-3.6zM389.64 164.63h3.6v3.6h-3.6zM389.66 163.61h3.6v3.6h-3.6zM389.7 162.68h3.6v3.6h-3.6zM389.71 165.17h3.6v3.6h-3.6zM389.73 166.98h3.6v3.6h-3.6zM389.77 162.24h3.6v3.6h-3.6zM389.78 163.14h3.6v3.6h-3.6zM389.8 166.34h3.6v3.6h-3.6zM389.82 162.68h3.6v3.6h-3.6zM389.84 164.11h3.6v3.6h-3.6zM389.85 165.17h3.6v3.6h-3.6zM389.87 162.68h3.6v3.6h-3.6zM389.89 163.61h3.6v3.6h-3.6zM389.91 162.68h3.6v3.6h-3.6zM389.94 167.65h3.6v3.6h-3.6zM389.96 163.14h3.6v3.6h-3.6zM389.98 164.11h3.6v3.6h-3.6zM389.99 165.17h3.6v3.6h-3.6zM390.03 161.4h3.6v3.6h-3.6zM390.05 165.74h3.6v3.6h-3.6zM390.06 164.63h3.6v3.6h-3.6zM390.1 163.61h3.6v3.6h-3.6zM390.12 164.63h3.6v3.6h-3.6zM390.13 166.34h3.6v3.6h-3.6zM390.17 162.24h3.6v3.6h-3.6zM390.2 164.11h3.6v3.6h-3.6zM390.22 165.74h3.6v3.6h-3.6zM390.24 168.35h3.6v3.6h-3.6zM390.25 163.14h3.6v3.6h-3.6zM390.27 164.63h3.6v3.6h-3.6zM390.29 160.62h3.6v3.6h-3.6zM390.31 164.63h3.6v3.6h-3.6zM390.32 165.74h3.6v3.6h-3.6zM390.34 164.63h3.6v3.6h-3.6zM390.36 165.74h3.6v3.6h-3.6zM390.38 163.61h3.6v3.6h-3.6zM390.39 164.63h3.6v3.6h-3.6zM390.41 161.4h3.6v3.6h-3.6zM390.43 165.17h3.6v3.6h-3.6zM390.46 163.61h3.6v3.6h-3.6zM390.5 165.17h3.6v3.6h-3.6zM390.51 162.68h3.6v3.6h-3.6zM390.53 165.17h3.6v3.6h-3.6zM390.56 163.14h3.6v3.6h-3.6zM390.6 166.98h3.6v3.6h-3.6zM390.62 168.35h3.6v3.6h-3.6zM390.63 161.81h3.6v3.6h-3.6zM390.65 165.17h3.6v3.6h-3.6zM390.7 162.24h3.6v3.6h-3.6zM390.72 163.61h3.6v3.6h-3.6zM390.74 166.34h3.6v3.6h-3.6zM390.79 161.81h3.6v3.6h-3.6zM390.8 166.98h3.6v3.6h-3.6zM390.82 164.11h3.6v3.6h-3.6zM390.84 165.74h3.6v3.6h-3.6zM390.86 164.63h3.6v3.6h-3.6zM390.87 165.74h3.6v3.6h-3.6zM390.89 166.98h3.6v3.6h-3.6zM390.94 163.14h3.6v3.6h-3.6zM390.97 165.17h3.6v3.6h-3.6zM390.99 163.14h3.6v3.6h-3.6zM391.01 164.11h3.6v3.6h-3.6zM391.03 165.74h3.6v3.6h-3.6zM391.04 164.11h3.6v3.6h-3.6zM391.06 167.65h3.6v3.6h-3.6zM391.08 165.17h3.6v3.6h-3.6zM391.09 167.65h3.6v3.6h-3.6zM391.11 164.63h3.6v3.6h-3.6zM391.13 167.65h3.6v3.6h-3.6zM391.14 163.61h3.6v3.6h-3.6zM391.16 168.35h3.6v3.6h-3.6zM391.18 165.74h3.6v3.6h-3.6zM391.2 166.98h3.6v3.6h-3.6zM391.21 165.17h3.6v3.6h-3.6zM391.23 160.62h3.6v3.6h-3.6zM391.25 166.98h3.6v3.6h-3.6zM391.28 164.11h3.6v3.6h-3.6zM391.3 169.92h3.6v3.6h-3.6zM391.31 165.17h3.6v3.6h-3.6zM391.33 163.61h3.6v3.6h-3.6zM391.35 166.98h3.6v3.6h-3.6zM391.36 165.74h3.6v3.6h-3.6zM391.4 168.35h3.6v3.6h-3.6zM391.41 165.17h3.6v3.6h-3.6zM391.43 170.78h3.6v3.6h-3.6zM391.45 168.35h3.6v3.6h-3.6zM391.48 165.17h3.6v3.6h-3.6zM391.5 163.61h3.6v3.6h-3.6zM391.53 168.35h3.6v3.6h-3.6zM391.57 165.74h3.6v3.6h-3.6zM391.6 166.98h3.6v3.6h-3.6zM391.63 165.17h3.6v3.6h-3.6zM391.65 166.34h3.6v3.6h-3.6zM391.67 164.63h3.6v3.6h-3.6zM391.7 167.65h3.6v3.6h-3.6zM391.72 163.14h3.6v3.6h-3.6zM391.73 166.98h3.6v3.6h-3.6zM391.75 162.68h3.6v3.6h-3.6zM391.77 165.17h3.6v3.6h-3.6zM391.78 169.92h3.6v3.6h-3.6zM391.8 165.17h3.6v3.6h-3.6zM391.82 162.68h3.6v3.6h-3.6zM391.83 164.11h3.6v3.6h-3.6zM391.88 166.98h3.6v3.6h-3.6zM391.9 168.35h3.6v3.6h-3.6zM391.92 171.72h3.6v3.6h-3.6zM391.93 165.74h3.6v3.6h-3.6zM391.95 164.11h3.6v3.6h-3.6zM391.97 165.17h3.6v3.6h-3.6zM391.98 167.65h3.6v3.6h-3.6zM392.02 169.11h3.6v3.6h-3.6zM392.03 166.98h3.6v3.6h-3.6zM392.05 168.35h3.6v3.6h-3.6zM392.07 170.78h3.6v3.6h-3.6zM392.08 165.74h3.6v3.6h-3.6zM392.12 171.72h3.6v3.6h-3.6zM392.13 166.34h3.6v3.6h-3.6zM392.15 169.92h3.6v3.6h-3.6zM392.17 165.74h3.6v3.6h-3.6zM392.18 169.11h3.6v3.6h-3.6zM392.2 165.74h3.6v3.6h-3.6zM392.23 170.78h3.6v3.6h-3.6zM392.25 164.63h3.6v3.6h-3.6zM392.28 168.35h3.6v3.6h-3.6zM392.3 166.98h3.6v3.6h-3.6zM392.31 170.78h3.6v3.6h-3.6zM392.33 167.65h3.6v3.6h-3.6zM392.36 162.68h3.6v3.6h-3.6zM392.38 165.74h3.6v3.6h-3.6zM392.4 167.65h3.6v3.6h-3.6zM392.41 166.34h3.6v3.6h-3.6zM392.43 171.72h3.6v3.6h-3.6zM392.45 168.35h3.6v3.6h-3.6zM392.46 164.63h3.6v3.6h-3.6zM392.48 171.72h3.6v3.6h-3.6zM392.5 166.98h3.6v3.6h-3.6zM392.51 165.74h3.6v3.6h-3.6zM392.53 169.11h3.6v3.6h-3.6zM392.56 168.35h3.6v3.6h-3.6zM392.59 169.11h3.6v3.6h-3.6zM392.61 161.4h3.6v3.6h-3.6zM392.63 163.61h3.6v3.6h-3.6zM392.64 167.65h3.6v3.6h-3.6zM392.66 164.63h3.6v3.6h-3.6zM392.68 166.34h3.6v3.6h-3.6zM392.71 164.63h3.6v3.6h-3.6zM392.72 169.92h3.6v3.6h-3.6zM392.74 164.11h3.6v3.6h-3.6zM392.76 167.65h3.6v3.6h-3.6zM392.79 169.11h3.6v3.6h-3.6zM392.81 166.34h3.6v3.6h-3.6zM392.82 170.78h3.6v3.6h-3.6zM392.84 169.92h3.6v3.6h-3.6zM392.86 169.11h3.6v3.6h-3.6zM392.87 171.72h3.6v3.6h-3.6zM392.9 172.74h3.6v3.6h-3.6zM392.92 163.61h3.6v3.6h-3.6zM392.94 164.63h3.6v3.6h-3.6zM392.95 166.34h3.6v3.6h-3.6zM392.97 167.65h3.6v3.6h-3.6zM392.99 166.34h3.6v3.6h-3.6zM393 167.65h3.6v3.6h-3.6zM393.02 170.78h3.6v3.6h-3.6zM393.03 171.72h3.6v3.6h-3.6zM393.05 168.35h3.6v3.6h-3.6zM393.07 170.78h3.6v3.6h-3.6zM393.08 175.08h3.6v3.6h-3.6zM393.1 168.35h3.6v3.6h-3.6zM393.11 173.85h3.6v3.6h-3.6zM393.13 169.92h3.6v3.6h-3.6zM393.15 170.78h3.6v3.6h-3.6zM393.16 169.92h3.6v3.6h-3.6zM393.18 166.98h3.6v3.6h-3.6zM393.2 173.85h3.6v3.6h-3.6zM393.21 169.92h3.6v3.6h-3.6zM393.23 170.78h3.6v3.6h-3.6zM393.24 167.65h3.6v3.6h-3.6zM393.28 165.17h3.6v3.6h-3.6zM393.29 172.74h3.6v3.6h-3.6zM393.31 169.11h3.6v3.6h-3.6zM393.32 167.65h3.6v3.6h-3.6zM393.34 173.85h3.6v3.6h-3.6zM393.36 166.98h3.6v3.6h-3.6zM393.39 171.72h3.6v3.6h-3.6zM393.41 168.35h3.6v3.6h-3.6zM393.42 169.92h3.6v3.6h-3.6zM393.45 168.35h3.6v3.6h-3.6zM393.47 166.34h3.6v3.6h-3.6zM393.49 172.74h3.6v3.6h-3.6zM393.5 165.74h3.6v3.6h-3.6zM393.52 169.92h3.6v3.6h-3.6zM393.53 166.34h3.6v3.6h-3.6zM393.55 171.72h3.6v3.6h-3.6zM393.57 172.74h3.6v3.6h-3.6zM393.6 167.65h3.6v3.6h-3.6zM393.63 169.11h3.6v3.6h-3.6zM393.65 168.35h3.6v3.6h-3.6zM393.66 165.74h3.6v3.6h-3.6zM393.68 169.92h3.6v3.6h-3.6zM393.69 171.72h3.6v3.6h-3.6zM393.71 167.65h3.6v3.6h-3.6zM393.73 172.74h3.6v3.6h-3.6zM393.74 169.92h3.6v3.6h-3.6zM393.76 169.11h3.6v3.6h-3.6zM393.77 169.92h3.6v3.6h-3.6zM393.79 172.74h3.6v3.6h-3.6zM393.81 173.85h3.6v3.6h-3.6zM393.82 167.65h3.6v3.6h-3.6zM393.84 170.78h3.6v3.6h-3.6zM393.85 165.74h3.6v3.6h-3.6zM393.87 169.92h3.6v3.6h-3.6zM393.88 167.65h3.6v3.6h-3.6zM393.9 176.46h3.6v3.6h-3.6zM393.92 169.11h3.6v3.6h-3.6zM393.93 168.35h3.6v3.6h-3.6zM393.95 169.11h3.6v3.6h-3.6zM393.98 171.72h3.6v3.6h-3.6zM394 169.11h3.6v3.6h-3.6zM394.01 166.34h3.6v3.6h-3.6zM394.03 172.74h3.6v3.6h-3.6zM394.04 171.72h3.6v3.6h-3.6zM394.06 166.34h3.6v3.6h-3.6zM394.08 169.92h3.6v3.6h-3.6zM394.09 165.74h3.6v3.6h-3.6zM394.11 176.46h3.6v3.6h-3.6zM394.12 165.74h3.6v3.6h-3.6zM394.14 176.46h3.6v3.6h-3.6zM394.15 170.78h3.6v3.6h-3.6zM394.2 169.92h3.6v3.6h-3.6zM394.23 171.72h3.6v3.6h-3.6zM394.25 165.17h3.6v3.6h-3.6zM394.26 175.08h3.6v3.6h-3.6zM394.28 169.92h3.6v3.6h-3.6zM394.3 168.35h3.6v3.6h-3.6zM394.31 173.85h3.6v3.6h-3.6zM394.33 170.78h3.6v3.6h-3.6zM394.34 169.11h3.6v3.6h-3.6zM394.36 169.92h3.6v3.6h-3.6zM394.37 169.11h3.6v3.6h-3.6zM394.41 165.74h3.6v3.6h-3.6zM394.42 167.65h3.6v3.6h-3.6zM394.44 169.92h3.6v3.6h-3.6zM394.45 173.85h3.6v3.6h-3.6zM394.47 178.02h3.6v3.6h-3.6zM394.48 168.35h3.6v3.6h-3.6zM394.52 169.11h3.6v3.6h-3.6zM394.53 169.92h3.6v3.6h-3.6zM394.55 167.65h3.6v3.6h-3.6zM394.56 170.78h3.6v3.6h-3.6zM394.58 176.46h3.6v3.6h-3.6zM394.59 171.72h3.6v3.6h-3.6zM394.61 170.78h3.6v3.6h-3.6zM394.63 173.85h3.6v3.6h-3.6zM394.64 175.08h3.6v3.6h-3.6zM394.66 167.65h3.6v3.6h-3.6zM394.67 169.11h3.6v3.6h-3.6zM394.69 164.63h3.6v3.6h-3.6zM394.7 175.08h3.6v3.6h-3.6zM394.72 169.11h3.6v3.6h-3.6zM394.74 175.08h3.6v3.6h-3.6zM394.75 179.82h3.6v3.6h-3.6zM394.77 171.72h3.6v3.6h-3.6zM394.78 168.35h3.6v3.6h-3.6zM394.8 173.85h3.6v3.6h-3.6zM394.81 176.46h3.6v3.6h-3.6zM394.83 171.72h3.6v3.6h-3.6zM394.84 169.92h3.6v3.6h-3.6zM394.86 168.35h3.6v3.6h-3.6zM394.88 169.11h3.6v3.6h-3.6zM394.89 167.65h3.6v3.6h-3.6zM394.91 170.78h3.6v3.6h-3.6zM394.92 175.08h3.6v3.6h-3.6zM394.94 169.92h3.6v3.6h-3.6zM394.97 178.02h3.6v3.6h-3.6zM394.98 169.92h3.6v3.6h-3.6zM395 169.11h3.6v3.6h-3.6zM395.01 178.02h3.6v3.6h-3.6zM395.03 166.98h3.6v3.6h-3.6zM395.05 168.35h3.6v3.6h-3.6zM395.06 166.98h3.6v3.6h-3.6zM395.08 168.35h3.6v3.6h-3.6zM395.09 172.74h3.6v3.6h-3.6zM395.11 178.02h3.6v3.6h-3.6zM395.12 169.11h3.6v3.6h-3.6zM395.14 166.34h3.6v3.6h-3.6zM395.15 175.08h3.6v3.6h-3.6zM395.17 165.74h3.6v3.6h-3.6zM395.18 172.74h3.6v3.6h-3.6zM395.2 168.35h3.6v3.6h-3.6zM395.22 173.85h3.6v3.6h-3.6zM395.23 169.11h3.6v3.6h-3.6zM395.25 175.08h3.6v3.6h-3.6zM395.28 176.46h3.6v3.6h-3.6zM395.29 171.72h3.6v3.6h-3.6zM395.31 170.78h3.6v3.6h-3.6zM395.32 169.92h3.6v3.6h-3.6zM395.34 179.82h3.6v3.6h-3.6zM395.35 171.72h3.6v3.6h-3.6zM395.37 165.74h3.6v3.6h-3.6zM395.39 170.78h3.6v3.6h-3.6zM395.4 171.72h3.6v3.6h-3.6zM395.42 169.92h3.6v3.6h-3.6zM395.43 172.74h3.6v3.6h-3.6zM395.45 170.78h3.6v3.6h-3.6zM395.46 173.85h3.6v3.6h-3.6zM395.48 176.46h3.6v3.6h-3.6zM395.49 170.78h3.6v3.6h-3.6zM395.51 176.46h3.6v3.6h-3.6zM395.52 170.78h3.6v3.6h-3.6zM395.54 169.11h3.6v3.6h-3.6zM395.55 171.72h3.6v3.6h-3.6zM395.57 172.74h3.6v3.6h-3.6zM395.6 170.78h3.6v3.6h-3.6zM395.61 171.72h3.6v3.6h-3.6zM395.63 170.78h3.6v3.6h-3.6zM395.65 179.82h3.6v3.6h-3.6zM395.68 172.74h3.6v3.6h-3.6zM395.69 168.35h3.6v3.6h-3.6zM395.71 175.08h3.6v3.6h-3.6zM395.72 170.78h3.6v3.6h-3.6zM395.74 169.11h3.6v3.6h-3.6zM395.75 176.46h3.6v3.6h-3.6zM395.78 175.08h3.6v3.6h-3.6zM395.8 184.56h3.6v3.6h-3.6zM395.81 170.78h3.6v3.6h-3.6zM395.83 173.85h3.6v3.6h-3.6zM395.84 169.92h3.6v3.6h-3.6zM395.86 169.11h3.6v3.6h-3.6zM395.87 176.46h3.6v3.6h-3.6zM395.89 169.11h3.6v3.6h-3.6zM395.9 178.02h3.6v3.6h-3.6zM395.92 172.74h3.6v3.6h-3.6zM395.93 175.08h3.6v3.6h-3.6zM395.95 171.72h3.6v3.6h-3.6zM395.96 176.46h3.6v3.6h-3.6zM396.01 171.72h3.6v3.6h-3.6zM396.03 178.02h3.6v3.6h-3.6zM396.04 179.82h3.6v3.6h-3.6zM396.06 178.02h3.6v3.6h-3.6zM396.07 179.82h3.6v3.6h-3.6zM396.09 170.78h3.6v3.6h-3.6zM396.12 178.02h3.6v3.6h-3.6zM396.13 173.85h3.6v3.6h-3.6zM396.15 172.74h3.6v3.6h-3.6zM396.16 175.08h3.6v3.6h-3.6zM396.18 176.46h3.6v3.6h-3.6zM396.21 171.72h3.6v3.6h-3.6zM396.22 176.46h3.6v3.6h-3.6zM396.24 179.82h3.6v3.6h-3.6zM396.25 175.08h3.6v3.6h-3.6zM396.27 169.92h3.6v3.6h-3.6zM396.28 175.08h3.6v3.6h-3.6zM396.3 169.92h3.6v3.6h-3.6zM396.31 172.74h3.6v3.6h-3.6zM396.33 170.78h3.6v3.6h-3.6zM396.36 167.65h3.6v3.6h-3.6zM396.39 172.74h3.6v3.6h-3.6zM396.4 168.35h3.6v3.6h-3.6zM396.42 173.85h3.6v3.6h-3.6zM396.45 172.74h3.6v3.6h-3.6zM396.46 170.78h3.6v3.6h-3.6zM396.48 172.74h3.6v3.6h-3.6zM396.49 181.96h3.6v3.6h-3.6zM396.51 184.56h3.6v3.6h-3.6zM396.52 170.78h3.6v3.6h-3.6zM396.54 169.11h3.6v3.6h-3.6zM396.55 175.08h3.6v3.6h-3.6zM396.57 166.98h3.6v3.6h-3.6zM396.58 169.92h3.6v3.6h-3.6zM396.6 176.46h3.6v3.6h-3.6zM396.61 179.82h3.6v3.6h-3.6zM396.63 171.72h3.6v3.6h-3.6zM396.66 175.08h3.6v3.6h-3.6zM396.67 173.85h3.6v3.6h-3.6zM396.69 179.82h3.6v3.6h-3.6zM396.7 173.85h3.6v3.6h-3.6zM396.72 178.02h3.6v3.6h-3.6zM396.73 171.72h3.6v3.6h-3.6zM396.75 187.93h3.6v3.6h-3.6zM396.76 178.02h3.6v3.6h-3.6zM396.78 179.82h3.6v3.6h-3.6zM396.79 178.02h3.6v3.6h-3.6zM396.81 173.85h3.6v3.6h-3.6zM396.82 181.96h3.6v3.6h-3.6zM396.83 179.82h3.6v3.6h-3.6zM396.85 168.35h3.6v3.6h-3.6zM396.86 172.74h3.6v3.6h-3.6zM396.88 170.78h3.6v3.6h-3.6zM396.89 173.85h3.6v3.6h-3.6zM396.92 172.74h3.6v3.6h-3.6zM396.94 173.85h3.6v3.6h-3.6zM396.95 175.08h3.6v3.6h-3.6zM396.97 168.35h3.6v3.6h-3.6zM396.98 175.08h3.6v3.6h-3.6zM397 170.78h3.6v3.6h-3.6zM397.03 176.46h3.6v3.6h-3.6zM397.04 171.72h3.6v3.6h-3.6zM397.06 172.74h3.6v3.6h-3.6zM397.07 181.96h3.6v3.6h-3.6zM397.09 172.74h3.6v3.6h-3.6zM397.1 176.46h3.6v3.6h-3.6zM397.12 171.72h3.6v3.6h-3.6zM397.13 170.78h3.6v3.6h-3.6zM397.15 172.74h3.6v3.6h-3.6zM397.16 176.46h3.6v3.6h-3.6zM397.19 173.85h3.6v3.6h-3.6zM397.22 169.92h3.6v3.6h-3.6zM397.23 172.74h3.6v3.6h-3.6zM397.25 169.92h3.6v3.6h-3.6zM397.29 178.02h3.6v3.6h-3.6zM397.31 176.46h3.6v3.6h-3.6zM397.32 171.72h3.6v3.6h-3.6zM397.34 176.46h3.6v3.6h-3.6zM397.35 173.85h3.6v3.6h-3.6zM397.37 172.74h3.6v3.6h-3.6zM397.38 173.85h3.6v3.6h-3.6zM397.4 176.46h3.6v3.6h-3.6zM397.41 178.02h3.6v3.6h-3.6zM397.42 175.08h3.6v3.6h-3.6zM397.44 172.74h3.6v3.6h-3.6zM397.45 173.85h3.6v3.6h-3.6zM397.47 167.65h3.6v3.6h-3.6zM397.48 181.96h3.6v3.6h-3.6zM397.5 172.74h3.6v3.6h-3.6zM397.51 179.82h3.6v3.6h-3.6zM397.53 192.67h3.6v3.6h-3.6zM397.54 170.78h3.6v3.6h-3.6zM397.56 168.35h3.6v3.6h-3.6zM397.57 181.96h3.6v3.6h-3.6zM397.59 175.08h3.6v3.6h-3.6zM397.6 179.82h3.6v3.6h-3.6zM397.62 170.78h3.6v3.6h-3.6zM397.63 176.46h3.6v3.6h-3.6zM397.64 179.82h3.6v3.6h-3.6zM397.66 176.46h3.6v3.6h-3.6zM397.67 178.02h3.6v3.6h-3.6zM397.69 173.85h3.6v3.6h-3.6zM397.7 175.08h3.6v3.6h-3.6zM397.72 173.85h3.6v3.6h-3.6zM397.73 178.02h3.6v3.6h-3.6zM397.75 176.46h3.6v3.6h-3.6zM397.78 178.02h3.6v3.6h-3.6zM397.79 173.85h3.6v3.6h-3.6zM397.82 171.72h3.6v3.6h-3.6zM397.83 172.74h3.6v3.6h-3.6zM397.85 178.02h3.6v3.6h-3.6zM397.86 169.92h3.6v3.6h-3.6zM397.88 171.72h3.6v3.6h-3.6zM397.89 179.82h3.6v3.6h-3.6zM397.91 171.72h3.6v3.6h-3.6zM397.92 179.82h3.6v3.6h-3.6zM397.93 175.08h3.6v3.6h-3.6zM397.96 179.82h3.6v3.6h-3.6zM397.98 181.96h3.6v3.6h-3.6zM397.99 168.35h3.6v3.6h-3.6zM398.01 181.96h3.6v3.6h-3.6zM398.02 172.74h3.6v3.6h-3.6zM398.05 173.85h3.6v3.6h-3.6zM398.06 175.08h3.6v3.6h-3.6zM398.08 173.85h3.6v3.6h-3.6zM398.09 175.08h3.6v3.6h-3.6zM398.11 176.46h3.6v3.6h-3.6zM398.12 181.96h3.6v3.6h-3.6zM398.14 170.78h3.6v3.6h-3.6zM398.15 175.08h3.6v3.6h-3.6zM398.17 170.78h3.6v3.6h-3.6zM398.18 173.85h3.6v3.6h-3.6zM398.19 172.74h3.6v3.6h-3.6zM398.21 179.82h3.6v3.6h-3.6zM398.22 171.72h3.6v3.6h-3.6zM398.24 179.82h3.6v3.6h-3.6zM398.25 173.85h3.6v3.6h-3.6zM398.27 171.72h3.6v3.6h-3.6zM398.28 167.65h3.6v3.6h-3.6zM398.3 176.46h3.6v3.6h-3.6zM398.32 178.02h3.6v3.6h-3.6zM398.34 176.46h3.6v3.6h-3.6zM398.35 173.85h3.6v3.6h-3.6zM398.37 179.82h3.6v3.6h-3.6zM398.38 176.46h3.6v3.6h-3.6zM398.4 172.74h3.6v3.6h-3.6zM398.41 175.08h3.6v3.6h-3.6zM398.42 171.72h3.6v3.6h-3.6zM398.44 179.82h3.6v3.6h-3.6zM398.45 176.46h3.6v3.6h-3.6zM398.47 171.72h3.6v3.6h-3.6zM398.48 173.85h3.6v3.6h-3.6zM398.5 169.92h3.6v3.6h-3.6zM398.51 173.85h3.6v3.6h-3.6zM398.52 175.08h3.6v3.6h-3.6zM398.54 178.02h3.6v3.6h-3.6zM398.55 172.74h3.6v3.6h-3.6zM398.57 176.46h3.6v3.6h-3.6zM398.58 178.02h3.6v3.6h-3.6zM398.6 175.08h3.6v3.6h-3.6zM398.61 179.82h3.6v3.6h-3.6zM398.62 176.46h3.6v3.6h-3.6zM398.64 173.85h3.6v3.6h-3.6zM398.65 176.46h3.6v3.6h-3.6zM398.67 181.96h3.6v3.6h-3.6zM398.68 178.02h3.6v3.6h-3.6zM398.7 176.46h3.6v3.6h-3.6zM398.71 172.74h3.6v3.6h-3.6zM398.74 178.02h3.6v3.6h-3.6zM398.75 179.82h3.6v3.6h-3.6zM398.77 172.74h3.6v3.6h-3.6zM398.78 175.08h3.6v3.6h-3.6zM398.79 184.56h3.6v3.6h-3.6zM398.81 172.74h3.6v3.6h-3.6zM398.82 179.82h3.6v3.6h-3.6zM398.84 176.46h3.6v3.6h-3.6zM398.89 175.08h3.6v3.6h-3.6zM398.91 181.96h3.6v3.6h-3.6zM398.92 184.56h3.6v3.6h-3.6zM398.94 179.82h3.6v3.6h-3.6zM398.95 172.74h3.6v3.6h-3.6zM398.96 173.85h3.6v3.6h-3.6zM398.98 175.08h3.6v3.6h-3.6zM398.99 173.85h3.6v3.6h-3.6zM399.01 178.02h3.6v3.6h-3.6zM399.02 172.74h3.6v3.6h-3.6zM399.04 179.82h3.6v3.6h-3.6zM399.05 176.46h3.6v3.6h-3.6zM399.08 184.56h3.6v3.6h-3.6zM399.09 178.02h3.6v3.6h-3.6zM399.11 176.46h3.6v3.6h-3.6zM399.12 178.02h3.6v3.6h-3.6zM399.13 171.72h3.6v3.6h-3.6zM399.15 172.74h3.6v3.6h-3.6zM399.16 176.46h3.6v3.6h-3.6zM399.18 172.74h3.6v3.6h-3.6zM399.19 173.85h3.6v3.6h-3.6zM399.2 181.96h3.6v3.6h-3.6zM399.22 184.56h3.6v3.6h-3.6zM399.23 178.02h3.6v3.6h-3.6zM399.25 176.46h3.6v3.6h-3.6zM399.26 173.85h3.6v3.6h-3.6zM399.27 178.02h3.6v3.6h-3.6zM399.29 172.74h3.6v3.6h-3.6zM399.3 175.08h3.6v3.6h-3.6zM399.32 169.92h3.6v3.6h-3.6zM399.33 173.85h3.6v3.6h-3.6zM399.35 170.78h3.6v3.6h-3.6zM399.37 181.96h3.6v3.6h-3.6zM399.39 184.56h3.6v3.6h-3.6zM399.4 176.46h3.6v3.6h-3.6zM399.42 178.02h3.6v3.6h-3.6zM399.43 179.82h3.6v3.6h-3.6zM399.46 178.02h3.6v3.6h-3.6zM399.47 173.85h3.6v3.6h-3.6zM399.49 181.96h3.6v3.6h-3.6zM399.5 172.74h3.6v3.6h-3.6zM399.51 175.08h3.6v3.6h-3.6zM399.53 178.02h3.6v3.6h-3.6zM399.54 187.93h3.6v3.6h-3.6zM399.55 178.02h3.6v3.6h-3.6zM399.57 175.08h3.6v3.6h-3.6zM399.58 173.85h3.6v3.6h-3.6zM399.61 178.02h3.6v3.6h-3.6zM399.62 175.08h3.6v3.6h-3.6zM399.64 178.02h3.6v3.6h-3.6zM399.65 173.85h3.6v3.6h-3.6zM399.67 187.93h3.6v3.6h-3.6zM399.68 178.02h3.6v3.6h-3.6zM399.69 176.46h3.6v3.6h-3.6zM399.71 173.85h3.6v3.6h-3.6zM399.72 176.46h3.6v3.6h-3.6zM399.74 178.02h3.6v3.6h-3.6zM399.76 187.93h3.6v3.6h-3.6zM399.78 179.82h3.6v3.6h-3.6zM399.79 175.08h3.6v3.6h-3.6zM399.81 179.82h3.6v3.6h-3.6zM399.82 176.46h3.6v3.6h-3.6zM399.83 179.82h3.6v3.6h-3.6zM399.85 192.67h3.6v3.6h-3.6zM399.86 175.08h3.6v3.6h-3.6zM399.87 179.82h3.6v3.6h-3.6zM399.89 172.74h3.6v3.6h-3.6zM399.9 176.46h3.6v3.6h-3.6zM399.92 173.85h3.6v3.6h-3.6zM399.93 184.56h3.6v3.6h-3.6zM399.94 176.46h3.6v3.6h-3.6zM399.96 179.82h3.6v3.6h-3.6zM399.97 192.67h3.6v3.6h-3.6zM399.99 173.85h3.6v3.6h-3.6zM400 192.67h3.6v3.6h-3.6zM400.01 179.82h3.6v3.6h-3.6zM400.03 175.08h3.6v3.6h-3.6zM400.04 184.56h3.6v3.6h-3.6zM400.05 178.02h3.6v3.6h-3.6zM400.07 173.85h3.6v3.6h-3.6zM400.08 175.08h3.6v3.6h-3.6zM400.1 179.82h3.6v3.6h-3.6zM400.11 184.56h3.6v3.6h-3.6zM400.12 176.46h3.6v3.6h-3.6zM400.14 178.02h3.6v3.6h-3.6zM400.15 175.08h3.6v3.6h-3.6zM400.16 169.92h3.6v3.6h-3.6zM400.18 171.72h3.6v3.6h-3.6zM400.19 178.02h3.6v3.6h-3.6zM400.21 175.08h3.6v3.6h-3.6zM400.22 172.74h3.6v3.6h-3.6zM400.23 179.82h3.6v3.6h-3.6zM400.27 169.92h3.6v3.6h-3.6zM400.29 181.96h3.6v3.6h-3.6zM400.3 173.85h3.6v3.6h-3.6zM400.32 184.56h3.6v3.6h-3.6zM400.33 176.46h3.6v3.6h-3.6zM400.34 179.82h3.6v3.6h-3.6zM400.36 178.02h3.6v3.6h-3.6zM400.37 176.46h3.6v3.6h-3.6zM400.38 179.82h3.6v3.6h-3.6zM400.4 178.02h3.6v3.6h-3.6zM400.41 169.11h3.6v3.6h-3.6zM400.42 187.93h3.6v3.6h-3.6zM400.44 169.11h3.6v3.6h-3.6zM400.45 184.56h3.6v3.6h-3.6zM400.47 172.74h3.6v3.6h-3.6zM400.48 173.85h3.6v3.6h-3.6zM400.49 179.82h3.6v3.6h-3.6zM400.51 172.74h3.6v3.6h-3.6zM400.52 184.56h3.6v3.6h-3.6zM400.53 175.08h3.6v3.6h-3.6zM400.55 178.02h3.6v3.6h-3.6zM400.56 170.78h3.6v3.6h-3.6zM400.57 176.46h3.6v3.6h-3.6zM400.59 179.82h3.6v3.6h-3.6zM400.6 178.02h3.6v3.6h-3.6zM400.62 179.82h3.6v3.6h-3.6zM400.63 178.02h3.6v3.6h-3.6zM400.64 184.56h3.6v3.6h-3.6zM400.66 179.82h3.6v3.6h-3.6zM400.67 187.93h3.6v3.6h-3.6zM400.7 181.96h3.6v3.6h-3.6zM400.72 179.82h3.6v3.6h-3.6zM400.74 173.85h3.6v3.6h-3.6zM400.75 178.02h3.6v3.6h-3.6zM400.77 179.82h3.6v3.6h-3.6zM400.78 178.02h3.6v3.6h-3.6zM400.79 179.82h3.6v3.6h-3.6zM400.81 181.96h3.6v3.6h-3.6zM400.82 176.46h3.6v3.6h-3.6zM400.83 175.08h3.6v3.6h-3.6zM400.85 181.96h3.6v3.6h-3.6zM400.86 179.82h3.6v3.6h-3.6zM400.87 176.46h3.6v3.6h-3.6zM400.89 178.02h3.6v3.6h-3.6zM400.9 175.08h3.6v3.6h-3.6zM400.93 171.72h3.6v3.6h-3.6zM400.94 175.08h3.6v3.6h-3.6zM400.95 171.72h3.6v3.6h-3.6zM400.97 178.02h3.6v3.6h-3.6zM401 181.96h3.6v3.6h-3.6zM401.01 176.46h3.6v3.6h-3.6zM401.02 178.02h3.6v3.6h-3.6zM401.04 181.96h3.6v3.6h-3.6zM401.05 171.72h3.6v3.6h-3.6zM401.06 179.82h3.6v3.6h-3.6zM401.08 176.46h3.6v3.6h-3.6zM401.09 172.74h3.6v3.6h-3.6zM401.1 178.02h3.6v3.6h-3.6zM401.12 173.85h3.6v3.6h-3.6zM401.13 184.56h3.6v3.6h-3.6zM401.14 175.08h3.6v3.6h-3.6zM401.16 181.96h3.6v3.6h-3.6zM401.17 192.67h3.6v3.6h-3.6zM401.18 179.82h3.6v3.6h-3.6zM401.21 175.08h3.6v3.6h-3.6zM401.22 176.46h3.6v3.6h-3.6zM401.24 200.77h3.6v3.6h-3.6zM401.25 178.02h3.6v3.6h-3.6zM401.26 173.85h3.6v3.6h-3.6zM401.28 181.96h3.6v3.6h-3.6zM401.33 169.92h3.6v3.6h-3.6zM401.34 173.85h3.6v3.6h-3.6zM401.36 200.77h3.6v3.6h-3.6zM401.37 187.93h3.6v3.6h-3.6zM401.38 178.02h3.6v3.6h-3.6zM401.4 176.46h3.6v3.6h-3.6zM401.41 178.02h3.6v3.6h-3.6zM401.42 171.72h3.6v3.6h-3.6zM401.44 178.02h3.6v3.6h-3.6zM401.45 173.85h3.6v3.6h-3.6zM401.48 181.96h3.6v3.6h-3.6zM401.49 184.56h3.6v3.6h-3.6zM401.52 176.46h3.6v3.6h-3.6zM401.53 178.02h3.6v3.6h-3.6zM401.56 192.67h3.6v3.6h-3.6zM401.57 184.56h3.6v3.6h-3.6zM401.58 179.82h3.6v3.6h-3.6zM401.6 178.02h3.6v3.6h-3.6zM401.62 171.72h3.6v3.6h-3.6zM401.64 176.46h3.6v3.6h-3.6zM401.65 178.02h3.6v3.6h-3.6zM401.66 181.96h3.6v3.6h-3.6zM401.68 172.74h3.6v3.6h-3.6zM401.69 181.96h3.6v3.6h-3.6zM401.7 184.56h3.6v3.6h-3.6zM401.72 171.72h3.6v3.6h-3.6zM401.73 200.77h3.6v3.6h-3.6zM401.74 181.96h3.6v3.6h-3.6zM401.76 179.82h3.6v3.6h-3.6zM401.77 187.93h3.6v3.6h-3.6zM401.8 192.67h3.6v3.6h-3.6zM401.81 179.82h3.6v3.6h-3.6zM401.82 181.96h3.6v3.6h-3.6zM401.84 178.02h3.6v3.6h-3.6zM401.85 187.93h3.6v3.6h-3.6zM401.86 184.56h3.6v3.6h-3.6zM401.88 173.85h3.6v3.6h-3.6zM401.89 179.82h3.6v3.6h-3.6zM401.9 176.46h3.6v3.6h-3.6zM401.92 178.02h3.6v3.6h-3.6zM401.93 184.56h3.6v3.6h-3.6zM401.94 181.96h3.6v3.6h-3.6zM401.96 176.46h3.6v3.6h-3.6zM401.98 184.56h3.6v3.6h-3.6zM402 181.96h3.6v3.6h-3.6zM402.01 176.46h3.6v3.6h-3.6zM402.02 175.08h3.6v3.6h-3.6zM402.03 181.96h3.6v3.6h-3.6zM402.05 179.82h3.6v3.6h-3.6zM402.06 176.46h3.6v3.6h-3.6zM402.07 178.02h3.6v3.6h-3.6zM402.1 179.82h3.6v3.6h-3.6zM402.11 187.93h3.6v3.6h-3.6zM402.13 178.02h3.6v3.6h-3.6zM402.14 181.96h3.6v3.6h-3.6zM402.15 178.02h3.6v3.6h-3.6zM402.17 187.93h3.6v3.6h-3.6zM402.18 181.96h3.6v3.6h-3.6zM402.19 179.82h3.6v3.6h-3.6zM402.21 176.46h3.6v3.6h-3.6zM402.22 187.93h3.6v3.6h-3.6zM402.23 178.02h3.6v3.6h-3.6zM402.25 200.77h3.6v3.6h-3.6zM402.26 175.08h3.6v3.6h-3.6zM402.27 179.82h3.6v3.6h-3.6zM402.28 178.02h3.6v3.6h-3.6zM402.31 179.82h3.6v3.6h-3.6zM402.34 192.67h3.6v3.6h-3.6zM402.35 179.82h3.6v3.6h-3.6zM402.36 184.56h3.6v3.6h-3.6zM402.38 181.96h3.6v3.6h-3.6zM402.39 179.82h3.6v3.6h-3.6zM402.4 176.46h3.6v3.6h-3.6zM402.42 178.02h3.6v3.6h-3.6zM402.43 187.93h3.6v3.6h-3.6zM402.44 184.56h3.6v3.6h-3.6zM402.45 192.67h3.6v3.6h-3.6zM402.47 175.08h3.6v3.6h-3.6zM402.48 173.85h3.6v3.6h-3.6zM402.49 176.46h3.6v3.6h-3.6zM402.51 178.02h3.6v3.6h-3.6zM402.52 181.96h3.6v3.6h-3.6zM402.55 172.74h3.6v3.6h-3.6zM402.56 187.93h3.6v3.6h-3.6zM402.57 176.46h3.6v3.6h-3.6zM402.6 184.56h3.6v3.6h-3.6zM402.61 175.08h3.6v3.6h-3.6zM402.62 184.56h3.6v3.6h-3.6zM402.64 179.82h3.6v3.6h-3.6zM402.65 181.96h3.6v3.6h-3.6zM402.68 184.56h3.6v3.6h-3.6zM402.7 179.82h3.6v3.6h-3.6zM402.71 184.56h3.6v3.6h-3.6zM402.74 172.74h3.6v3.6h-3.6zM402.75 187.93h3.6v3.6h-3.6zM402.77 181.96h3.6v3.6h-3.6zM402.79 179.82h3.6v3.6h-3.6zM402.83 176.46h3.6v3.6h-3.6zM402.84 184.56h3.6v3.6h-3.6zM402.86 173.85h3.6v3.6h-3.6zM402.87 184.56h3.6v3.6h-3.6zM402.88 176.46h3.6v3.6h-3.6zM402.9 179.82h3.6v3.6h-3.6zM402.91 175.08h3.6v3.6h-3.6zM402.92 192.67h3.6v3.6h-3.6zM402.93 181.96h3.6v3.6h-3.6zM402.95 192.67h3.6v3.6h-3.6zM402.96 178.02h3.6v3.6h-3.6zM402.97 187.93h3.6v3.6h-3.6zM402.99 179.82h3.6v3.6h-3.6zM403 187.93h3.6v3.6h-3.6zM403.01 179.82h3.6v3.6h-3.6zM403.02 184.56h3.6v3.6h-3.6zM403.04 192.67h3.6v3.6h-3.6zM403.05 179.82h3.6v3.6h-3.6zM403.06 181.96h3.6v3.6h-3.6zM403.09 184.56h3.6v3.6h-3.6zM403.1 181.96h3.6v3.6h-3.6zM403.11 176.46h3.6v3.6h-3.6zM403.13 179.82h3.6v3.6h-3.6zM403.15 178.02h3.6v3.6h-3.6zM403.17 184.56h3.6v3.6h-3.6zM403.18 178.02h3.6v3.6h-3.6zM403.19 187.93h3.6v3.6h-3.6zM403.2 181.96h3.6v3.6h-3.6zM403.22 179.82h3.6v3.6h-3.6zM403.23 178.02h3.6v3.6h-3.6zM403.24 192.67h3.6v3.6h-3.6zM403.26 184.56h3.6v3.6h-3.6zM403.27 192.67h3.6v3.6h-3.6zM403.29 184.56h3.6v3.6h-3.6zM403.31 176.46h3.6v3.6h-3.6zM403.32 192.67h3.6v3.6h-3.6zM403.33 178.02h3.6v3.6h-3.6zM403.36 179.82h3.6v3.6h-3.6zM403.37 187.93h3.6v3.6h-3.6zM403.38 181.96h3.6v3.6h-3.6zM403.4 179.82h3.6v3.6h-3.6zM403.41 184.56h3.6v3.6h-3.6zM403.42 181.96h3.6v3.6h-3.6zM403.45 178.02h3.6v3.6h-3.6zM403.47 179.82h3.6v3.6h-3.6zM403.49 192.67h3.6v3.6h-3.6zM403.51 176.46h3.6v3.6h-3.6zM403.52 200.77h3.6v3.6h-3.6zM403.54 175.08h3.6v3.6h-3.6zM403.55 178.02h3.6v3.6h-3.6zM403.56 175.08h3.6v3.6h-3.6zM403.57 178.02h3.6v3.6h-3.6zM403.59 187.93h3.6v3.6h-3.6zM403.6 184.56h3.6v3.6h-3.6zM403.61 181.96h3.6v3.6h-3.6zM403.63 187.93h3.6v3.6h-3.6zM403.64 192.67h3.6v3.6h-3.6zM403.65 179.82h3.6v3.6h-3.6zM403.68 200.77h3.6v3.6h-3.6zM403.69 192.67h3.6v3.6h-3.6zM403.7 181.96h3.6v3.6h-3.6zM403.71 184.56h3.6v3.6h-3.6zM403.73 192.67h3.6v3.6h-3.6zM403.74 187.93h3.6v3.6h-3.6zM403.75 181.96h3.6v3.6h-3.6zM403.76 179.82h3.6v3.6h-3.6zM403.78 192.67h3.6v3.6h-3.6zM403.79 184.56h3.6v3.6h-3.6zM403.83 179.82h3.6v3.6h-3.6zM403.84 178.02h3.6v3.6h-3.6zM403.85 184.56h3.6v3.6h-3.6zM403.87 176.46h3.6v3.6h-3.6zM403.88 181.96h3.6v3.6h-3.6zM403.89 192.67h3.6v3.6h-3.6zM403.9 184.56h3.6v3.6h-3.6zM403.93 181.96h3.6v3.6h-3.6zM403.94 184.56h3.6v3.6h-3.6zM403.95 181.96h3.6v3.6h-3.6zM403.98 175.08h3.6v3.6h-3.6zM403.99 179.82h3.6v3.6h-3.6zM404.03 181.96h3.6v3.6h-3.6zM404.04 178.02h3.6v3.6h-3.6zM404.05 181.96h3.6v3.6h-3.6zM404.07 187.93h3.6v3.6h-3.6zM404.08 178.02h3.6v3.6h-3.6zM404.09 192.67h3.6v3.6h-3.6zM404.11 187.93h3.6v3.6h-3.6zM404.12 181.96h3.6v3.6h-3.6zM404.13 178.02h3.6v3.6h-3.6zM404.14 192.67h3.6v3.6h-3.6zM404.16 179.82h3.6v3.6h-3.6zM404.17 178.02h3.6v3.6h-3.6zM404.18 187.93h3.6v3.6h-3.6zM404.19 178.02h3.6v3.6h-3.6zM404.22 187.93h3.6v3.6h-3.6zM404.23 173.85h3.6v3.6h-3.6zM404.26 179.82h3.6v3.6h-3.6zM404.27 181.96h3.6v3.6h-3.6zM404.28 173.85h3.6v3.6h-3.6zM404.29 184.56h3.6v3.6h-3.6zM404.31 181.96h3.6v3.6h-3.6zM404.32 179.82h3.6v3.6h-3.6zM404.33 181.96h3.6v3.6h-3.6zM404.34 184.56h3.6v3.6h-3.6zM404.37 187.93h3.6v3.6h-3.6zM404.38 181.96h3.6v3.6h-3.6zM404.39 187.93h3.6v3.6h-3.6zM404.41 181.96h3.6v3.6h-3.6zM404.42 173.85h3.6v3.6h-3.6zM404.43 187.93h3.6v3.6h-3.6zM404.44 184.56h3.6v3.6h-3.6zM404.46 181.96h3.6v3.6h-3.6zM404.48 184.56h3.6v3.6h-3.6zM404.49 178.02h3.6v3.6h-3.6zM404.5 192.67h3.6v3.6h-3.6zM404.52 178.02h3.6v3.6h-3.6zM404.53 179.82h3.6v3.6h-3.6zM404.54 178.02h3.6v3.6h-3.6zM404.55 181.96h3.6v3.6h-3.6zM404.57 192.67h3.6v3.6h-3.6zM404.58 181.96h3.6v3.6h-3.6zM404.59 179.82h3.6v3.6h-3.6zM404.6 192.67h3.6v3.6h-3.6zM404.62 184.56h3.6v3.6h-3.6zM404.63 176.46h3.6v3.6h-3.6zM404.64 179.82h3.6v3.6h-3.6zM404.65 178.02h3.6v3.6h-3.6zM404.67 175.08h3.6v3.6h-3.6zM404.68 187.93h3.6v3.6h-3.6zM404.7 200.77h3.6v3.6h-3.6zM404.72 179.82h3.6v3.6h-3.6zM404.74 181.96h3.6v3.6h-3.6zM404.77 179.82h3.6v3.6h-3.6zM404.78 187.93h3.6v3.6h-3.6zM404.79 192.67h3.6v3.6h-3.6zM404.8 179.82h3.6v3.6h-3.6zM404.81 181.96h3.6v3.6h-3.6zM404.84 176.46h3.6v3.6h-3.6zM404.85 181.96h3.6v3.6h-3.6zM404.86 179.82h3.6v3.6h-3.6zM404.88 181.96h3.6v3.6h-3.6zM404.89 192.67h3.6v3.6h-3.6zM404.9 187.93h3.6v3.6h-3.6zM404.91 181.96h3.6v3.6h-3.6zM404.93 184.56h3.6v3.6h-3.6zM404.95 181.96h3.6v3.6h-3.6zM404.96 187.93h3.6v3.6h-3.6zM404.98 184.56h3.6v3.6h-3.6zM404.99 192.67h3.6v3.6h-3.6zM405 179.82h3.6v3.6h-3.6zM405.01 181.96h3.6v3.6h-3.6zM405.02 184.56h3.6v3.6h-3.6zM405.04 179.82h3.6v3.6h-3.6zM405.05 178.02h3.6v3.6h-3.6zM405.06 176.46h3.6v3.6h-3.6zM405.07 192.67h3.6v3.6h-3.6zM405.09 184.56h3.6v3.6h-3.6zM405.1 187.93h3.6v3.6h-3.6zM405.11 181.96h3.6v3.6h-3.6zM405.12 175.08h3.6v3.6h-3.6zM405.13 184.56h3.6v3.6h-3.6zM405.15 192.67h3.6v3.6h-3.6zM405.16 179.82h3.6v3.6h-3.6zM405.17 200.77h3.6v3.6h-3.6zM405.18 179.82h3.6v3.6h-3.6zM405.2 192.67h3.6v3.6h-3.6zM405.21 187.93h3.6v3.6h-3.6zM405.22 178.02h3.6v3.6h-3.6zM405.23 192.67h3.6v3.6h-3.6zM405.24 175.08h3.6v3.6h-3.6zM405.26 184.56h3.6v3.6h-3.6zM405.28 179.82h3.6v3.6h-3.6zM405.29 200.77h3.6v3.6h-3.6zM405.31 179.82h3.6v3.6h-3.6zM405.32 184.56h3.6v3.6h-3.6zM405.33 192.67h3.6v3.6h-3.6zM405.34 178.02h3.6v3.6h-3.6zM405.35 192.67h3.6v3.6h-3.6zM405.37 179.82h3.6v3.6h-3.6zM405.38 192.67h3.6v3.6h-3.6zM405.39 178.02h3.6v3.6h-3.6zM405.4 179.82h3.6v3.6h-3.6zM405.42 184.56h3.6v3.6h-3.6zM405.43 200.77h3.6v3.6h-3.6zM405.44 181.96h3.6v3.6h-3.6zM405.45 178.02h3.6v3.6h-3.6zM405.46 179.82h3.6v3.6h-3.6zM405.48 184.56h3.6v3.6h-3.6zM405.5 187.93h3.6v3.6h-3.6zM405.51 184.56h3.6v3.6h-3.6zM405.54 187.93h3.6v3.6h-3.6zM405.56 179.82h3.6v3.6h-3.6zM405.59 176.46h3.6v3.6h-3.6zM405.6 179.82h3.6v3.6h-3.6zM405.61 200.77h3.6v3.6h-3.6zM405.62 184.56h3.6v3.6h-3.6zM405.63 192.67h3.6v3.6h-3.6zM405.65 181.96h3.6v3.6h-3.6zM405.66 187.93h3.6v3.6h-3.6zM405.68 200.77h3.6v3.6h-3.6zM405.72 187.93h3.6v3.6h-3.6zM405.74 179.82h3.6v3.6h-3.6zM405.76 184.56h3.6v3.6h-3.6zM405.77 178.02h3.6v3.6h-3.6zM405.78 187.93h3.6v3.6h-3.6zM405.79 181.96h3.6v3.6h-3.6zM405.8 187.93h3.6v3.6h-3.6zM405.82 184.56h3.6v3.6h-3.6zM405.83 187.93h3.6v3.6h-3.6zM405.85 192.67h3.6v3.6h-3.6zM405.88 181.96h3.6v3.6h-3.6zM405.9 184.56h3.6v3.6h-3.6zM405.91 200.77h3.6v3.6h-3.6zM405.92 179.82h3.6v3.6h-3.6zM405.94 192.67h3.6v3.6h-3.6zM405.95 184.56h3.6v3.6h-3.6zM405.96 181.96h3.6v3.6h-3.6zM405.97 184.56h3.6v3.6h-3.6zM405.98 192.67h3.6v3.6h-3.6zM406.01 178.02h3.6v3.6h-3.6zM406.02 181.96h3.6v3.6h-3.6zM406.03 184.56h3.6v3.6h-3.6zM406.04 178.02h3.6v3.6h-3.6zM406.06 187.93h3.6v3.6h-3.6zM406.07 184.56h3.6v3.6h-3.6zM406.09 181.96h3.6v3.6h-3.6zM406.1 192.67h3.6v3.6h-3.6zM406.13 181.96h3.6v3.6h-3.6zM406.14 179.82h3.6v3.6h-3.6zM406.15 184.56h3.6v3.6h-3.6zM406.16 179.82h3.6v3.6h-3.6zM406.18 192.67h3.6v3.6h-3.6zM406.19 181.96h3.6v3.6h-3.6zM406.2 187.93h3.6v3.6h-3.6zM406.21 181.96h3.6v3.6h-3.6zM406.22 184.56h3.6v3.6h-3.6zM406.24 176.46h3.6v3.6h-3.6zM406.25 184.56h3.6v3.6h-3.6zM406.26 187.93h3.6v3.6h-3.6zM406.3 192.67h3.6v3.6h-3.6zM406.31 200.77h3.6v3.6h-3.6zM406.32 181.96h3.6v3.6h-3.6zM406.33 179.82h3.6v3.6h-3.6zM406.34 175.08h3.6v3.6h-3.6zM406.36 187.93h3.6v3.6h-3.6zM406.37 200.77h3.6v3.6h-3.6zM406.38 192.67h3.6v3.6h-3.6zM406.39 181.96h3.6v3.6h-3.6zM406.42 184.56h3.6v3.6h-3.6zM406.43 187.93h3.6v3.6h-3.6zM406.44 179.82h3.6v3.6h-3.6zM406.45 187.93h3.6v3.6h-3.6zM406.47 200.77h3.6v3.6h-3.6zM406.49 181.96h3.6v3.6h-3.6zM406.5 184.56h3.6v3.6h-3.6zM406.51 192.67h3.6v3.6h-3.6zM406.52 181.96h3.6v3.6h-3.6zM406.53 179.82h3.6v3.6h-3.6zM406.55 181.96h3.6v3.6h-3.6zM406.56 184.56h3.6v3.6h-3.6zM406.57 187.93h3.6v3.6h-3.6zM406.58 175.08h3.6v3.6h-3.6zM406.59 181.96h3.6v3.6h-3.6zM406.62 192.67h3.6v3.6h-3.6zM406.63 181.96h3.6v3.6h-3.6zM406.64 184.56h3.6v3.6h-3.6zM406.65 192.67h3.6v3.6h-3.6zM406.66 184.56h3.6v3.6h-3.6zM406.68 200.77h3.6v3.6h-3.6zM406.69 179.82h3.6v3.6h-3.6zM406.7 184.56h3.6v3.6h-3.6zM406.71 187.93h3.6v3.6h-3.6zM406.74 181.96h3.6v3.6h-3.6zM406.76 192.67h3.6v3.6h-3.6zM406.77 187.93h3.6v3.6h-3.6zM406.79 184.56h3.6v3.6h-3.6zM406.81 200.77h3.6v3.6h-3.6zM406.83 184.56h3.6v3.6h-3.6zM406.84 192.67h3.6v3.6h-3.6zM406.85 181.96h3.6v3.6h-3.6zM406.87 184.56h3.6v3.6h-3.6zM406.88 187.93h3.6v3.6h-3.6zM406.92 192.67h3.6v3.6h-3.6zM406.95 184.56h3.6v3.6h-3.6zM406.96 181.96h3.6v3.6h-3.6zM406.97 178.02h3.6v3.6h-3.6zM406.99 187.93h3.6v3.6h-3.6zM407.01 179.82h3.6v3.6h-3.6zM407.02 192.67h3.6v3.6h-3.6zM407.03 184.56h3.6v3.6h-3.6zM407.05 192.67h3.6v3.6h-3.6zM407.07 187.93h3.6v3.6h-3.6zM407.08 175.08h3.6v3.6h-3.6zM407.09 178.02h3.6v3.6h-3.6zM407.1 179.82h3.6v3.6h-3.6zM407.11 192.67h3.6v3.6h-3.6zM407.12 184.56h3.6v3.6h-3.6zM407.14 179.82h3.6v3.6h-3.6zM407.15 184.56h3.6v3.6h-3.6zM407.16 187.93h3.6v3.6h-3.6zM407.17 200.77h3.6v3.6h-3.6zM407.18 184.56h3.6v3.6h-3.6zM407.19 176.46h3.6v3.6h-3.6zM407.21 200.77h3.6v3.6h-3.6zM407.22 179.82h3.6v3.6h-3.6zM407.23 184.56h3.6v3.6h-3.6zM407.24 181.96h3.6v3.6h-3.6zM407.25 200.77h3.6v3.6h-3.6zM407.26 192.67h3.6v3.6h-3.6zM407.3 184.56h3.6v3.6h-3.6zM407.31 181.96h3.6v3.6h-3.6zM407.32 187.93h3.6v3.6h-3.6zM407.33 179.82h3.6v3.6h-3.6zM407.35 184.56h3.6v3.6h-3.6zM407.36 200.77h3.6v3.6h-3.6zM407.37 184.56h3.6v3.6h-3.6zM407.38 187.93h3.6v3.6h-3.6zM407.42 181.96h3.6v3.6h-3.6zM407.43 200.77h3.6v3.6h-3.6zM407.44 184.56h3.6v3.6h-3.6zM407.45 175.08h3.6v3.6h-3.6zM407.46 184.56h3.6v3.6h-3.6zM407.47 179.82h3.6v3.6h-3.6zM407.49 181.96h3.6v3.6h-3.6zM407.5 187.93h3.6v3.6h-3.6zM407.52 192.67h3.6v3.6h-3.6zM407.53 184.56h3.6v3.6h-3.6zM407.57 187.93h3.6v3.6h-3.6zM407.59 192.67h3.6v3.6h-3.6zM407.6 184.56h3.6v3.6h-3.6zM407.62 187.93h3.6v3.6h-3.6zM407.64 184.56h3.6v3.6h-3.6zM407.65 187.93h3.6v3.6h-3.6zM407.67 181.96h3.6v3.6h-3.6zM407.68 192.67h3.6v3.6h-3.6zM407.69 184.56h3.6v3.6h-3.6zM407.73 200.77h3.6v3.6h-3.6zM407.74 181.96h3.6v3.6h-3.6zM407.75 192.67h3.6v3.6h-3.6zM407.76 187.93h3.6v3.6h-3.6zM407.77 181.96h3.6v3.6h-3.6zM407.8 200.77h3.6v3.6h-3.6zM407.81 192.67h3.6v3.6h-3.6zM407.82 200.77h3.6v3.6h-3.6zM407.83 184.56h3.6v3.6h-3.6zM407.86 181.96h3.6v3.6h-3.6zM407.87 184.56h3.6v3.6h-3.6zM407.89 200.77h3.6v3.6h-3.6zM407.9 184.56h3.6v3.6h-3.6zM407.94 192.67h3.6v3.6h-3.6zM407.95 179.82h3.6v3.6h-3.6zM407.96 181.96h3.6v3.6h-3.6zM407.98 192.67h3.6v3.6h-3.6zM407.99 179.82h3.6v3.6h-3.6zM408 178.02h3.6v3.6h-3.6zM408.02 200.77h3.6v3.6h-3.6zM408.03 192.67h3.6v3.6h-3.6zM408.04 178.02h3.6v3.6h-3.6zM408.05 184.56h3.6v3.6h-3.6zM408.06 187.93h3.6v3.6h-3.6zM408.07 181.96h3.6v3.6h-3.6zM408.08 187.93h3.6v3.6h-3.6zM408.1 192.67h3.6v3.6h-3.6zM408.12 181.96h3.6v3.6h-3.6zM408.13 187.93h3.6v3.6h-3.6zM408.14 179.82h3.6v3.6h-3.6zM408.15 187.93h3.6v3.6h-3.6zM408.16 200.77h3.6v3.6h-3.6zM408.19 184.56h3.6v3.6h-3.6zM408.2 192.67h3.6v3.6h-3.6zM408.21 181.96h3.6v3.6h-3.6zM408.22 192.67h3.6v3.6h-3.6zM408.23 179.82h3.6v3.6h-3.6zM408.24 187.93h3.6v3.6h-3.6zM408.26 181.96h3.6v3.6h-3.6zM408.27 187.93h3.6v3.6h-3.6zM408.28 184.56h3.6v3.6h-3.6zM408.29 192.67h3.6v3.6h-3.6zM408.31 187.93h3.6v3.6h-3.6zM408.34 192.67h3.6v3.6h-3.6zM408.35 181.96h3.6v3.6h-3.6zM408.37 187.93h3.6v3.6h-3.6zM408.38 184.56h3.6v3.6h-3.6zM408.42 179.82h3.6v3.6h-3.6zM408.43 181.96h3.6v3.6h-3.6zM408.44 187.93h3.6v3.6h-3.6zM408.45 200.77h3.6v3.6h-3.6zM408.47 187.93h3.6v3.6h-3.6zM408.5 179.82h3.6v3.6h-3.6zM408.52 187.93h3.6v3.6h-3.6zM408.53 192.67h3.6v3.6h-3.6zM408.54 200.77h3.6v3.6h-3.6zM408.56 192.67h3.6v3.6h-3.6zM408.59 181.96h3.6v3.6h-3.6zM408.6 200.77h3.6v3.6h-3.6zM408.61 181.96h3.6v3.6h-3.6zM408.62 187.93h3.6v3.6h-3.6zM408.64 176.46h3.6v3.6h-3.6zM408.65 192.67h3.6v3.6h-3.6zM408.66 181.96h3.6v3.6h-3.6zM408.68 200.77h3.6v3.6h-3.6zM408.69 192.67h3.6v3.6h-3.6zM408.72 187.93h3.6v3.6h-3.6zM408.73 181.96h3.6v3.6h-3.6zM408.74 179.82h3.6v3.6h-3.6zM408.76 181.96h3.6v3.6h-3.6zM408.77 192.67h3.6v3.6h-3.6zM408.79 200.77h3.6v3.6h-3.6zM408.8 192.67h3.6v3.6h-3.6zM408.81 200.77h3.6v3.6h-3.6zM408.82 192.67h3.6v3.6h-3.6zM408.83 200.77h3.6v3.6h-3.6zM408.85 187.93h3.6v3.6h-3.6zM408.86 184.56h3.6v3.6h-3.6zM408.87 178.02h3.6v3.6h-3.6zM408.88 181.96h3.6v3.6h-3.6zM408.89 192.67h3.6v3.6h-3.6zM408.9 187.93h3.6v3.6h-3.6zM408.91 192.67h3.6v3.6h-3.6zM408.92 184.56h3.6v3.6h-3.6zM408.94 181.96h3.6v3.6h-3.6zM408.95 192.67h3.6v3.6h-3.6zM408.96 184.56h3.6v3.6h-3.6zM408.99 200.77h3.6v3.6h-3.6zM409 192.67h3.6v3.6h-3.6zM409.01 200.77h3.6v3.6h-3.6zM409.04 181.96h3.6v3.6h-3.6zM409.05 192.67h3.6v3.6h-3.6zM409.06 200.77h3.6v3.6h-3.6zM409.07 187.93h3.6v3.6h-3.6zM409.08 192.67h3.6v3.6h-3.6zM409.09 187.93h3.6v3.6h-3.6zM409.1 181.96h3.6v3.6h-3.6zM409.11 184.56h3.6v3.6h-3.6zM409.13 200.77h3.6v3.6h-3.6zM409.14 181.96h3.6v3.6h-3.6zM409.16 192.67h3.6v3.6h-3.6zM409.17 181.96h3.6v3.6h-3.6zM409.18 192.67h3.6v3.6h-3.6zM409.19 184.56h3.6v3.6h-3.6zM409.2 187.93h3.6v3.6h-3.6zM409.22 178.02h3.6v3.6h-3.6zM409.23 184.56h3.6v3.6h-3.6zM409.24 192.67h3.6v3.6h-3.6zM409.25 181.96h3.6v3.6h-3.6zM409.26 192.67h3.6v3.6h-3.6zM409.28 187.93h3.6v3.6h-3.6zM409.29 181.96h3.6v3.6h-3.6zM409.3 179.82h3.6v3.6h-3.6zM409.32 192.67h3.6v3.6h-3.6zM409.33 187.93h3.6v3.6h-3.6zM409.34 184.56h3.6v3.6h-3.6zM409.36 200.77h3.6v3.6h-3.6zM409.37 184.56h3.6v3.6h-3.6zM409.39 192.67h3.6v3.6h-3.6zM409.42 187.93h3.6v3.6h-3.6zM409.43 178.02h3.6v3.6h-3.6zM409.44 187.93h3.6v3.6h-3.6zM409.47 192.67h3.6v3.6h-3.6zM409.48 187.93h3.6v3.6h-3.6zM409.49 200.77h3.6v3.6h-3.6zM409.5 181.96h3.6v3.6h-3.6zM409.52 187.93h3.6v3.6h-3.6zM409.53 181.96h3.6v3.6h-3.6zM409.54 184.56h3.6v3.6h-3.6zM409.55 187.93h3.6v3.6h-3.6zM409.56 200.77h3.6v3.6h-3.6zM409.57 184.56h3.6v3.6h-3.6zM409.58 192.67h3.6v3.6h-3.6zM409.61 187.93h3.6v3.6h-3.6zM409.63 200.77h3.6v3.6h-3.6zM409.64 192.67h3.6v3.6h-3.6zM409.65 184.56h3.6v3.6h-3.6zM409.66 192.67h3.6v3.6h-3.6zM409.67 184.56h3.6v3.6h-3.6zM409.68 187.93h3.6v3.6h-3.6zM409.69 184.56h3.6v3.6h-3.6zM409.7 181.96h3.6v3.6h-3.6zM409.71 179.82h3.6v3.6h-3.6zM409.73 187.93h3.6v3.6h-3.6zM409.75 200.77h3.6v3.6h-3.6zM409.76 187.93h3.6v3.6h-3.6zM409.77 175.08h3.6v3.6h-3.6zM409.79 178.02h3.6v3.6h-3.6zM409.8 187.93h3.6v3.6h-3.6zM409.81 192.67h3.6v3.6h-3.6zM409.82 200.77h3.6v3.6h-3.6zM409.84 184.56h3.6v3.6h-3.6zM409.85 187.93h3.6v3.6h-3.6zM409.86 184.56h3.6v3.6h-3.6zM409.88 181.96h3.6v3.6h-3.6zM409.89 184.56h3.6v3.6h-3.6zM409.9 192.67h3.6v3.6h-3.6zM409.91 187.93h3.6v3.6h-3.6zM409.92 181.96h3.6v3.6h-3.6zM409.93 192.67h3.6v3.6h-3.6zM409.95 179.82h3.6v3.6h-3.6zM409.96 192.67h3.6v3.6h-3.6zM409.97 184.56h3.6v3.6h-3.6zM409.98 200.77h3.6v3.6h-3.6zM409.99 181.96h3.6v3.6h-3.6zM410 192.67h3.6v3.6h-3.6zM410.02 184.56h3.6v3.6h-3.6zM410.03 192.67h3.6v3.6h-3.6zM410.05 179.82h3.6v3.6h-3.6zM410.07 200.77h3.6v3.6h-3.6zM410.08 192.67h3.6v3.6h-3.6zM410.09 184.56h3.6v3.6h-3.6zM410.1 200.77h3.6v3.6h-3.6zM410.11 187.93h3.6v3.6h-3.6zM410.12 200.77h3.6v3.6h-3.6zM410.13 187.93h3.6v3.6h-3.6zM410.14 192.67h3.6v3.6h-3.6zM410.15 200.77h3.6v3.6h-3.6zM410.17 184.56h3.6v3.6h-3.6zM410.2 187.93h3.6v3.6h-3.6zM410.22 179.82h3.6v3.6h-3.6zM410.23 187.93h3.6v3.6h-3.6zM410.25 200.77h3.6v3.6h-3.6zM410.26 187.93h3.6v3.6h-3.6zM410.27 200.77h3.6v3.6h-3.6zM410.28 179.82h3.6v3.6h-3.6zM410.29 192.67h3.6v3.6h-3.6zM410.32 184.56h3.6v3.6h-3.6zM410.34 192.67h3.6v3.6h-3.6zM410.35 176.46h3.6v3.6h-3.6zM410.36 187.93h3.6v3.6h-3.6zM410.37 192.67h3.6v3.6h-3.6zM410.38 181.96h3.6v3.6h-3.6zM410.39 200.77h3.6v3.6h-3.6zM410.4 187.93h3.6v3.6h-3.6zM410.43 184.56h3.6v3.6h-3.6zM410.44 187.93h3.6v3.6h-3.6zM410.47 192.67h3.6v3.6h-3.6zM410.48 181.96h3.6v3.6h-3.6zM410.5 200.77h3.6v3.6h-3.6zM410.51 192.67h3.6v3.6h-3.6zM410.52 200.77h3.6v3.6h-3.6zM410.53 181.96h3.6v3.6h-3.6zM410.54 187.93h3.6v3.6h-3.6zM410.57 200.77h3.6v3.6h-3.6zM410.58 187.93h3.6v3.6h-3.6zM410.59 192.67h3.6v3.6h-3.6zM410.6 184.56h3.6v3.6h-3.6zM410.61 192.67h3.6v3.6h-3.6zM410.62 200.77h3.6v3.6h-3.6zM410.65 181.96h3.6v3.6h-3.6zM410.66 179.82h3.6v3.6h-3.6zM410.67 192.67h3.6v3.6h-3.6zM410.7 187.93h3.6v3.6h-3.6zM410.72 192.67h3.6v3.6h-3.6zM410.73 200.77h3.6v3.6h-3.6zM410.74 184.56h3.6v3.6h-3.6zM410.75 200.77h3.6v3.6h-3.6zM410.76 192.67h3.6v3.6h-3.6zM410.78 179.82h3.6v3.6h-3.6zM410.79 181.96h3.6v3.6h-3.6zM410.81 192.67h3.6v3.6h-3.6zM410.82 187.93h3.6v3.6h-3.6zM410.84 200.77h3.6v3.6h-3.6zM410.85 184.56h3.6v3.6h-3.6zM410.86 187.93h3.6v3.6h-3.6zM410.88 181.96h3.6v3.6h-3.6zM410.89 192.67h3.6v3.6h-3.6zM410.9 200.77h3.6v3.6h-3.6zM410.93 192.67h3.6v3.6h-3.6zM410.94 200.77h3.6v3.6h-3.6zM410.95 184.56h3.6v3.6h-3.6zM410.96 187.93h3.6v3.6h-3.6zM410.99 192.67h3.6v3.6h-3.6zM411 200.77h3.6v3.6h-3.6zM411.02 187.93h3.6v3.6h-3.6zM411.04 192.67h3.6v3.6h-3.6zM411.06 181.96h3.6v3.6h-3.6zM411.07 184.56h3.6v3.6h-3.6zM411.08 181.96h3.6v3.6h-3.6zM411.09 187.93h3.6v3.6h-3.6zM411.1 200.77h3.6v3.6h-3.6zM411.11 178.02h3.6v3.6h-3.6zM411.12 181.96h3.6v3.6h-3.6zM411.14 192.67h3.6v3.6h-3.6zM411.15 200.77h3.6v3.6h-3.6zM411.17 192.67h3.6v3.6h-3.6zM411.21 184.56h3.6v3.6h-3.6zM411.22 200.77h3.6v3.6h-3.6zM411.24 184.56h3.6v3.6h-3.6zM411.26 200.77h3.6v3.6h-3.6zM411.31 184.56h3.6v3.6h-3.6zM411.32 200.77h3.6v3.6h-3.6zM411.33 187.93h3.6v3.6h-3.6zM411.36 200.77h3.6v3.6h-3.6zM411.37 184.56h3.6v3.6h-3.6zM411.38 192.67h3.6v3.6h-3.6zM411.39 181.96h3.6v3.6h-3.6zM411.4 200.77h3.6v3.6h-3.6zM411.41 184.56h3.6v3.6h-3.6zM411.43 181.96h3.6v3.6h-3.6zM411.44 184.56h3.6v3.6h-3.6zM411.45 181.96h3.6v3.6h-3.6zM411.47 187.93h3.6v3.6h-3.6zM411.48 181.96h3.6v3.6h-3.6zM411.49 184.56h3.6v3.6h-3.6zM411.5 200.77h3.6v3.6h-3.6zM411.52 187.93h3.6v3.6h-3.6zM411.53 192.67h3.6v3.6h-3.6zM411.54 200.77h3.6v3.6h-3.6zM411.55 187.93h3.6v3.6h-3.6zM411.56 181.96h3.6v3.6h-3.6zM411.57 187.93h3.6v3.6h-3.6zM411.58 200.77h3.6v3.6h-3.6zM411.59 192.67h3.6v3.6h-3.6zM411.61 181.96h3.6v3.6h-3.6zM411.62 200.77h3.6v3.6h-3.6zM411.63 179.82h3.6v3.6h-3.6zM411.66 200.77h3.6v3.6h-3.6zM411.68 192.67h3.6v3.6h-3.6zM411.69 187.93h3.6v3.6h-3.6zM411.73 192.67h3.6v3.6h-3.6zM411.74 187.93h3.6v3.6h-3.6zM411.75 192.67h3.6v3.6h-3.6zM411.77 187.93h3.6v3.6h-3.6zM411.79 200.77h3.6v3.6h-3.6zM411.8 187.93h3.6v3.6h-3.6zM411.81 200.77h3.6v3.6h-3.6zM411.83 187.93h3.6v3.6h-3.6zM411.84 192.67h3.6v3.6h-3.6zM411.86 187.93h3.6v3.6h-3.6zM411.88 200.77h3.6v3.6h-3.6zM411.89 192.67h3.6v3.6h-3.6zM411.93 200.77h3.6v3.6h-3.6zM411.95 192.67h3.6v3.6h-3.6zM411.97 187.93h3.6v3.6h-3.6zM411.98 181.96h3.6v3.6h-3.6zM411.99 187.93h3.6v3.6h-3.6zM412.02 192.67h3.6v3.6h-3.6zM412.03 184.56h3.6v3.6h-3.6zM412.04 192.67h3.6v3.6h-3.6zM412.05 181.96h3.6v3.6h-3.6zM412.09 192.67h3.6v3.6h-3.6zM412.12 187.93h3.6v3.6h-3.6zM412.13 181.96h3.6v3.6h-3.6zM412.14 192.67h3.6v3.6h-3.6zM412.19 200.77h3.6v3.6h-3.6zM412.2 184.56h3.6v3.6h-3.6zM412.21 187.93h3.6v3.6h-3.6zM412.22 200.77h3.6v3.6h-3.6zM412.23 192.67h3.6v3.6h-3.6zM412.24 200.77h3.6v3.6h-3.6zM412.25 192.67h3.6v3.6h-3.6zM412.27 200.77h3.6v3.6h-3.6zM412.28 184.56h3.6v3.6h-3.6zM412.3 192.67h3.6v3.6h-3.6zM412.31 187.93h3.6v3.6h-3.6zM412.34 192.67h3.6v3.6h-3.6zM412.35 200.77h3.6v3.6h-3.6zM412.38 192.67h3.6v3.6h-3.6zM412.39 200.77h3.6v3.6h-3.6zM412.4 192.67h3.6v3.6h-3.6zM412.43 200.77h3.6v3.6h-3.6zM412.46 192.67h3.6v3.6h-3.6zM412.47 184.56h3.6v3.6h-3.6zM412.48 200.77h3.6v3.6h-3.6zM412.49 192.67h3.6v3.6h-3.6zM412.54 200.77h3.6v3.6h-3.6zM412.56 192.67h3.6v3.6h-3.6zM412.57 200.77h3.6v3.6h-3.6zM412.58 184.56h3.6v3.6h-3.6zM412.59 187.93h3.6v3.6h-3.6zM412.6 184.56h3.6v3.6h-3.6zM412.61 192.67h3.6v3.6h-3.6zM412.62 200.77h3.6v3.6h-3.6zM412.64 192.67h3.6v3.6h-3.6zM412.66 187.93h3.6v3.6h-3.6zM412.67 192.67h3.6v3.6h-3.6zM412.68 179.82h3.6v3.6h-3.6zM412.69 192.67h3.6v3.6h-3.6zM412.72 187.93h3.6v3.6h-3.6zM412.76 181.96h3.6v3.6h-3.6zM412.77 200.77h3.6v3.6h-3.6zM412.78 192.67h3.6v3.6h-3.6zM412.82 187.93h3.6v3.6h-3.6zM412.84 200.77h3.6v3.6h-3.6zM412.86 192.67h3.6v3.6h-3.6zM412.87 187.93h3.6v3.6h-3.6zM412.88 200.77h3.6v3.6h-3.6zM412.89 192.67h3.6v3.6h-3.6zM412.91 181.96h3.6v3.6h-3.6zM412.93 200.77h3.6v3.6h-3.6zM412.95 192.67h3.6v3.6h-3.6zM412.96 200.77h3.6v3.6h-3.6zM412.97 192.67h3.6v3.6h-3.6zM413 187.93h3.6v3.6h-3.6zM413.02 192.67h3.6v3.6h-3.6zM413.04 200.77h3.6v3.6h-3.6zM413.05 192.67h3.6v3.6h-3.6zM413.07 187.93h3.6v3.6h-3.6zM413.08 200.77h3.6v3.6h-3.6zM413.09 187.93h3.6v3.6h-3.6zM413.1 200.77h3.6v3.6h-3.6zM413.11 187.93h3.6v3.6h-3.6zM413.12 200.77h3.6v3.6h-3.6zM413.17 184.56h3.6v3.6h-3.6zM413.18 187.93h3.6v3.6h-3.6zM413.21 192.67h3.6v3.6h-3.6zM413.24 200.77h3.6v3.6h-3.6zM413.25 192.67h3.6v3.6h-3.6zM413.26 187.93h3.6v3.6h-3.6zM413.27 181.96h3.6v3.6h-3.6zM413.28 200.77h3.6v3.6h-3.6zM413.29 184.56h3.6v3.6h-3.6zM413.3 192.67h3.6v3.6h-3.6zM413.31 187.93h3.6v3.6h-3.6zM413.32 192.67h3.6v3.6h-3.6zM413.33 187.93h3.6v3.6h-3.6zM413.34 181.96h3.6v3.6h-3.6zM413.35 187.93h3.6v3.6h-3.6zM413.38 192.67h3.6v3.6h-3.6zM413.41 187.93h3.6v3.6h-3.6zM413.42 192.67h3.6v3.6h-3.6zM413.44 184.56h3.6v3.6h-3.6zM413.46 192.67h3.6v3.6h-3.6zM413.48 200.77h3.6v3.6h-3.6zM413.49 192.67h3.6v3.6h-3.6zM413.52 200.77h3.6v3.6h-3.6zM413.53 179.82h3.6v3.6h-3.6zM413.56 200.77h3.6v3.6h-3.6zM413.59 192.67h3.6v3.6h-3.6zM413.61 200.77h3.6v3.6h-3.6zM413.62 192.67h3.6v3.6h-3.6zM413.65 200.77h3.6v3.6h-3.6zM413.66 178.02h3.6v3.6h-3.6zM413.67 192.67h3.6v3.6h-3.6zM413.69 187.93h3.6v3.6h-3.6zM413.71 192.67h3.6v3.6h-3.6zM413.73 200.77h3.6v3.6h-3.6zM413.74 184.56h3.6v3.6h-3.6zM413.75 200.77h3.6v3.6h-3.6zM413.76 187.93h3.6v3.6h-3.6zM413.77 192.67h3.6v3.6h-3.6zM413.79 187.93h3.6v3.6h-3.6zM413.8 192.67h3.6v3.6h-3.6zM413.81 184.56h3.6v3.6h-3.6zM413.83 192.67h3.6v3.6h-3.6zM413.84 200.77h3.6v3.6h-3.6zM413.89 181.96h3.6v3.6h-3.6zM413.9 192.67h3.6v3.6h-3.6zM413.93 187.93h3.6v3.6h-3.6zM413.95 200.77h3.6v3.6h-3.6zM413.96 184.56h3.6v3.6h-3.6zM413.97 200.77h3.6v3.6h-3.6zM413.98 192.67h3.6v3.6h-3.6zM414 200.77h3.6v3.6h-3.6zM414.02 192.67h3.6v3.6h-3.6zM414.04 184.56h3.6v3.6h-3.6zM414.05 200.77h3.6v3.6h-3.6zM414.06 192.67h3.6v3.6h-3.6zM414.08 200.77h3.6v3.6h-3.6zM414.1 192.67h3.6v3.6h-3.6zM414.13 200.77h3.6v3.6h-3.6zM414.21 192.67h3.6v3.6h-3.6zM414.22 200.77h3.6v3.6h-3.6zM414.24 192.67h3.6v3.6h-3.6zM414.26 187.93h3.6v3.6h-3.6zM414.28 192.67h3.6v3.6h-3.6zM414.29 200.77h3.6v3.6h-3.6zM414.3 192.67h3.6v3.6h-3.6zM414.32 200.77h3.6v3.6h-3.6zM414.37 192.67h3.6v3.6h-3.6zM414.39 184.56h3.6v3.6h-3.6zM414.41 192.67h3.6v3.6h-3.6zM414.43 200.77h3.6v3.6h-3.6zM414.48 187.93h3.6v3.6h-3.6zM414.51 200.77h3.6v3.6h-3.6zM414.53 192.67h3.6v3.6h-3.6zM414.61 187.93h3.6v3.6h-3.6zM414.62 192.67h3.6v3.6h-3.6zM414.67 200.77h3.6v3.6h-3.6zM414.68 192.67h3.6v3.6h-3.6zM414.69 181.96h3.6v3.6h-3.6zM414.7 200.77h3.6v3.6h-3.6zM414.71 192.67h3.6v3.6h-3.6zM414.72 200.77h3.6v3.6h-3.6zM414.77 192.67h3.6v3.6h-3.6zM414.78 200.77h3.6v3.6h-3.6zM414.8 192.67h3.6v3.6h-3.6zM414.82 200.77h3.6v3.6h-3.6zM414.84 187.93h3.6v3.6h-3.6zM414.86 200.77h3.6v3.6h-3.6zM414.87 192.67h3.6v3.6h-3.6zM414.88 200.77h3.6v3.6h-3.6zM414.88 192.67h3.6v3.6h-3.6zM414.89 187.93h3.6v3.6h-3.6zM414.93 200.77h3.6v3.6h-3.6zM415.05 192.67h3.6v3.6h-3.6zM415.07 200.77h3.6v3.6h-3.6zM415.09 192.67h3.6v3.6h-3.6zM415.12 200.77h3.6v3.6h-3.6zM415.13 192.67h3.6v3.6h-3.6zM415.14 187.93h3.6v3.6h-3.6zM415.15 200.77h3.6v3.6h-3.6zM415.21 192.67h3.6v3.6h-3.6zM415.22 200.77h3.6v3.6h-3.6zM415.26 192.67h3.6v3.6h-3.6zM415.26 184.56h3.6v3.6h-3.6zM415.27 200.77h3.6v3.6h-3.6zM415.3 187.93h3.6v3.6h-3.6zM415.31 200.77h3.6v3.6h-3.6zM415.34 187.93h3.6v3.6h-3.6zM415.36 200.77h3.6v3.6h-3.6zM415.41 192.67h3.6v3.6h-3.6zM415.42 200.77h3.6v3.6h-3.6zM415.43 192.67h3.6v3.6h-3.6zM415.45 200.77h3.6v3.6h-3.6zM415.53 187.93h3.6v3.6h-3.6zM415.55 192.67h3.6v3.6h-3.6zM415.56 200.77h3.6v3.6h-3.6zM415.63 192.67h3.6v3.6h-3.6zM415.65 200.77h3.6v3.6h-3.6zM415.71 187.93h3.6v3.6h-3.6zM415.73 200.77h3.6v3.6h-3.6zM415.76 192.67h3.6v3.6h-3.6zM415.78 200.77h3.6v3.6h-3.6zM415.87 184.56h3.6v3.6h-3.6zM415.9 192.67h3.6v3.6h-3.6zM415.92 200.77h3.6v3.6h-3.6zM415.95 192.67h3.6v3.6h-3.6zM415.96 200.77h3.6v3.6h-3.6zM416.02 192.67h3.6v3.6h-3.6zM416.07 200.77h3.6v3.6h-3.6zM416.13 192.67h3.6v3.6h-3.6zM416.17 200.77h3.6v3.6h-3.6zM416.19 187.93h3.6v3.6h-3.6zM416.21 200.77h3.6v3.6h-3.6zM416.22 192.67h3.6v3.6h-3.6zM416.23 200.77h3.6v3.6h-3.6zM416.38 192.67h3.6v3.6h-3.6zM416.42 200.77h3.6v3.6h-3.6zM416.47 192.67h3.6v3.6h-3.6zM416.49 200.77h3.6v3.6h-3.6zM416.55 192.67h3.6v3.6h-3.6zM416.58 200.77h3.6v3.6h-3.6zM416.68 192.67h3.6v3.6h-3.6zM416.69 200.77h3.6v3.6h-3.6zM416.81 192.67h3.6v3.6h-3.6zM416.84 200.77h3.6v3.6h-3.6zM417.03 187.93h3.6v3.6h-3.6zM417.04 200.77h3.6v3.6h-3.6zM417.09 192.67h3.6v3.6h-3.6zM417.13 200.77h3.6v3.6h-3.6zM417.15 192.67h3.6v3.6h-3.6zM417.17 200.77h3.6v3.6h-3.6zM417.26 187.93h3.6v3.6h-3.6zM417.29 192.67h3.6v3.6h-3.6zM417.3 200.77h3.6v3.6h-3.6zM417.39 192.67h3.6v3.6h-3.6zM417.4 200.77h3.6v3.6h-3.6zM417.58 192.67h3.6v3.6h-3.6zM417.6 200.77h3.6v3.6h-3.6zM417.64 192.67h3.6v3.6h-3.6zM417.73 200.77h3.6v3.6h-3.6zM417.86 192.67h3.6v3.6h-3.6zM417.89 200.77h3.6v3.6h-3.6zM418.17 192.67h3.6v3.6h-3.6zM418.18 200.77h3.6v3.6h-3.6zM418.3 187.93h3.6v3.6h-3.6zM418.32 200.77h3.6v3.6h-3.6z" fill="#c6c6c6" stroke="none"/>
<path d="M53.5 40.96L83.49 48.98L101.03 53.67L113.48 57L123.13 59.59L131.02 61.71L137.69 63.5L143.47 65.05L148.57 66.43L153.12 67.66L157.25 68.77L161.01 69.78L164.48 70.72L167.68 71.58L170.67 72.39L173.46 73.15L176.08 73.86L178.56 74.54L180.9 75.17L183.12 75.78L185.23 76.35L187.24 76.9L189.16 77.43L191 77.93L192.77 78.41L194.47 78.88L196.1 79.33L197.67 79.76L199.19 80.18L200.66 80.58L202.08 80.97L203.45 81.35L204.78 81.71L206.07 82.07L207.33 82.42L208.55 82.75L209.73 83.08L210.89 83.4L212.01 83.71L213.11 84.02L214.17 84.31L215.22 84.6L216.23 84.89L217.23 85.16L218.2 85.44L219.15 85.7L220.08 85.96L220.99 86.22L221.89 86.47L222.76 86.71L223.62 86.95L224.46 87.19L225.28 87.42L226.09 87.65L226.88 87.87L227.66 88.09L228.43 88.31L229.18 88.52L229.92 88.73L230.65 88.94L231.14 89.08L231.63 89.22L232.13 89.36L232.62 89.5L233.11 89.64L233.61 89.78L234.1 89.92L234.59 90.06L235.09 90.2L235.58 90.34L236.07 90.48L236.56 90.62L237.06 90.77L237.55 90.91L238.04 91.05L238.54 91.19L239.03 91.33L239.52 91.47L240.02 91.61L240.51 91.76L241 91.9L241.49 92.04L241.99 92.18L242.48 92.32L242.97 92.47L243.47 92.61L243.96 92.75L244.45 92.89L244.94 93.04L245.44 93.18L245.93 93.32L246.42 93.46L246.92 93.61L247.41 93.75L247.9 93.89L248.4 94.04L248.89 94.18L249.38 94.33L249.87 94.47L250.37 94.62L250.86 94.76L251.35 94.91L251.85 95.05L252.34 95.2L252.83 95.34L253.33 95.49L253.82 95.63L254.31 95.78L254.8 95.93L255.3 96.07L255.79 96.22L256.28 96.36L256.78 96.51L257.27 96.66L257.76 96.8L258.26 96.95L258.75 97.1L259.24 97.25L259.73 97.39L260.23 97.54L260.72 97.69L261.21 97.83L261.71 97.98L262.2 98.13L262.69 98.28L263.19 98.43L263.68 98.58L264.17 98.72L264.66 98.87L265.16 99.02L265.65 99.17L266.14 99.32L266.64 99.47L267.13 99.62L267.62 99.77L268.12 99.93L268.61 100.08L269.1 100.23L269.59 100.38L270.09 100.53L270.58 100.68L271.07 100.84L271.57 100.99L272.06 101.14L272.55 101.29L273.05 101.45L273.54 101.6L274.03 101.76L274.52 101.91L275.02 102.07L275.51 102.22L276 102.38L276.5 102.53L276.99 102.69L277.48 102.84L277.98 103L278.47 103.16L278.96 103.31L279.45 103.47L279.95 103.63L280.44 103.78L280.93 103.94L281.43 104.1L281.92 104.26L282.41 104.42L282.91 104.57L283.4 104.73L283.89 104.89L284.38 105.05L284.88 105.21L285.37 105.37L285.86 105.53L286.36 105.69L286.85 105.86L287.34 106.02L287.83 106.18L288.33 106.34L288.82 106.5L289.31 106.67L289.81 106.83L290.3 106.99L290.79 107.16L291.29 107.32L291.78 107.49L292.27 107.65L292.76 107.82L293.26 107.98L293.75 108.15L294.24 108.32L294.74 108.48L295.23 108.65L295.72 108.82L296.22 108.99L296.71 109.16L297.2 109.33L297.69 109.5L298.19 109.67L298.68 109.84L299.17 110.01L299.67 110.18L300.16 110.36L300.65 110.53L301.15 110.7L301.64 110.88L302.13 111.05L302.62 111.23L303.12 111.4L303.61 111.58L304.1 111.75L304.6 111.93L305.09 112.11L305.58 112.28L306.08 112.46L306.57 112.64L307.06 112.82L307.55 113L308.05 113.18L308.54 113.36L309.03 113.54L309.53 113.72L310.02 113.91L310.51 114.09L311.01 114.27L311.5 114.46L311.99 114.64L312.48 114.83L312.98 115.02L313.47 115.2L313.96 115.39L314.46 115.58L314.95 115.77L315.44 115.96L315.94 116.15L316.43 116.34L316.92 116.53L317.41 116.72L317.91 116.91L318.4 117.11L318.89 117.3L319.39 117.49L319.88 117.69L320.37 117.89L320.87 118.08L321.36 118.28L321.85 118.48L322.34 118.68L322.84 118.88L323.33 119.08L323.82 119.28L324.32 119.49L324.81 119.69L325.3 119.9L325.8 120.1L326.29 120.31L326.78 120.51L327.27 120.72L327.77 120.93L328.26 121.14L328.75 121.35L329.25 121.56L329.74 121.77L330.23 121.99L330.72 122.2L331.22 122.42L331.71 122.63L332.2 122.85L332.7 123.07L333.19 123.28L333.68 123.5L334.18 123.73L334.67 123.95L335.16 124.17L335.65 124.39L336.15 124.62L336.64 124.84L337.13 125.07L337.63 125.3L338.12 125.53L338.61 125.76L339.11 125.99L339.6 126.22L340.09 126.46L340.58 126.69L341.08 126.93L341.57 127.17L342.06 127.4L342.56 127.64L343.05 127.89L343.54 128.13L344.04 128.37L344.53 128.62L345.02 128.86L345.51 129.11L346.01 129.36L346.5 129.61L346.99 129.86L347.49 130.11L347.98 130.37L348.47 130.62L348.97 130.88L349.46 131.14L349.95 131.4L350.44 131.66L350.94 131.92L351.43 132.19L351.92 132.45L352.42 132.72L352.91 132.99L353.4 133.26L353.9 133.53L354.39 133.81L354.88 134.08L355.37 134.36L355.87 134.64L356.36 134.92L356.85 135.2L357.35 135.48L357.84 135.77L358.33 136.05L358.83 136.34L359.32 136.63L359.81 136.93L360.3 137.22L360.8 137.52L361.29 137.82L361.78 138.12L362.28 138.42L362.77 138.72L363.26 139.03L363.76 139.34L364.25 139.65L364.74 139.96L365.23 140.27L365.73 140.59L366.22 140.91L366.71 141.23L367.21 141.55L367.7 141.88L368.19 142.21L368.69 142.54L369.18 142.87L369.67 143.2L370.16 143.54L370.66 143.88L371.15 144.22L371.64 144.57L372.14 144.91L372.63 145.26L373.12 145.61L373.61 145.96L374.11 146.32L374.6 146.68L375.09 147.04L375.59 147.4L376.08 147.77L376.57 148.14L377.07 148.51L377.56 148.89L378.05 149.26L378.54 149.64L379.04 150.03L379.53 150.41L380.02 150.8L380.52 151.19L381.01 151.59L381.5 151.98L382 152.38L382.49 152.79L382.98 153.19L383.47 153.6L383.97 154.02L384.46 154.43L384.95 154.85L385.45 155.28L385.94 155.7L386.43 156.13L386.93 156.57L387.42 157L387.91 157.44L388.4 157.89L388.9 158.34L389.39 158.79L389.88 159.24L390.38 159.7L390.87 160.16L391.36 160.63L391.86 161.1L392.35 161.57L392.84 162.05L393.33 162.54L393.83 163.02L394.32 163.52L394.81 164.01L395.31 164.51L395.8 165.01L396.29 165.52L396.79 166.03L397.28 166.55L397.77 167.07L398.26 167.59L398.76 168.11L399.25 168.64L399.74 169.18L400.24 169.72L400.73 170.26L401.22 170.81L401.72 171.37L402.21 171.93L402.7 172.49L403.19 173.06L403.69 173.64L404.18 174.22L404.67 174.8L405.17 175.4L405.66 175.99L406.15 176.6L406.65 177.2L407.14 177.82L407.63 178.44L408.12 179.06L408.62 179.69L409.11 180.33L409.6 180.97L410.1 181.62L410.59 182.27L411.08 182.93L411.57 183.59L412.07 184.26L412.56 184.94L413.05 185.62L413.55 186.31L414.04 187L414.53 187.71L415.03 188.42L415.52 189.13L416.01 189.85L416.5 190.58L417 191.32L417.49 192.06L417.98 192.81L418.48 193.57L418.97 194.33L419.46 195.1L419.96 195.88L420.45 196.67L420.94 197.46L421.43 198.26L421.93 199.07L422.42 199.89L422.91 200.71L423.41 201.54L423.9 202.39L424.39 203.23L424.89 204.09L425.38 204.96L425.87 205.83L426.36 206.71L426.86 207.61L427.35 208.5L427.84 209.41L428.34 210.33L428.83 211.25L429.32 212.19L429.82 213.13L430.31 214.09L430.8 215.05L431.29 216.02L431.79 217L432.28 218L432.77 219L433.27 220.01L433.76 221.03L434.25 222.06L434.75 223.11L435.24 224.16L435.73 225.22L436.22 226.3L436.72 227.38L437.21 228.48L437.7 229.59L438.2 230.7L438.69 231.83L439.18 232.98L439.68 234.13L440.17 235.29L440.66 236.47" fill="none" stroke="#000" stroke-width="0.8" stroke-linejoin="round" clip-path="url(#cl)"/>
<path d="M53.5 40.9L83.49 48.5L101.03 53.33L113.48 57.27L123.13 59.9L131.02 61.92L137.69 63.69L143.47 65.21L148.57 66.52L153.12 67.69L157.25 68.72L161.01 69.72L164.48 70.72L167.68 71.62L170.67 72.4L173.46 73.1L176.08 73.75L178.56 74.35L180.9 74.91L183.12 75.43L185.23 75.92L187.24 76.38L189.16 76.82L191 77.25L192.77 77.67L194.47 78.08L196.1 78.49L197.67 78.89L199.19 79.28L200.66 79.67L202.08 80.05L203.45 80.42L204.78 80.78L206.07 81.13L207.33 81.47L208.55 81.8L209.73 82.12L210.89 82.43L212.01 82.72L213.11 83.01L214.17 83.28L215.22 83.55L216.23 83.8L217.23 84.05L218.2 84.29L219.15 84.53L220.08 84.75L220.99 84.97L221.89 85.19L222.76 85.4L223.62 85.6L224.46 85.8L225.28 86L226.09 86.19L226.88 86.37L227.66 86.56L228.43 86.73L229.18 86.91L229.92 87.08L230.65 87.24L231.14 87.35L231.63 87.47L232.13 87.58L232.62 87.69L233.11 87.8L233.61 87.91L234.1 88.02L234.59 88.13L235.09 88.24L235.58 88.34L236.07 88.45L236.56 88.56L237.06 88.67L237.55 88.78L238.04 88.88L238.54 88.99L239.03 89.1L239.52 89.21L240.02 89.31L240.51 89.42L241 89.53L241.49 89.64L241.99 89.74L242.48 89.85L242.97 89.96L243.47 90.07L243.96 90.17L244.45 90.28L244.94 90.39L245.44 90.5L245.93 90.61L246.42 90.71L246.92 90.82L247.41 90.93L247.9 91.04L248.4 91.15L248.89 91.26L249.38 91.37L249.87 91.48L250.37 91.59L250.86 91.7L251.35 91.81L251.85 91.92L252.34 92.03L252.83 92.15L253.33 92.26L253.82 92.37L254.31 92.48L254.8 92.6L255.3 92.71L255.79 92.82L256.28 92.94L256.78 93.05L257.27 93.16L257.76 93.28L258.26 93.39L258.75 93.5L259.24 93.62L259.73 93.73L260.23 93.84L260.72 93.95L261.21 94.06L261.71 94.17L262.2 94.28L262.69 94.39L263.19 94.5L263.68 94.61L264.17 94.71L264.66 94.82L265.16 94.92L265.65 95.03L266.14 95.13L266.64 95.23L267.13 95.33L267.62 95.43L268.12 95.53L268.61 95.63L269.1 95.73L269.59 95.83L270.09 95.93L270.58 96.03L271.07 96.12L271.57 96.22L272.06 96.32L272.55 96.42L273.05 96.51L273.54 96.61L274.03 96.71L274.52 96.8L275.02 96.9L275.51 97L276 97.1L276.5 97.19L276.99 97.29L277.48 97.39L277.98 97.49L278.47 97.59L278.96 97.69L279.45 97.79L279.95 97.9L280.44 98L280.93 98.1L281.43 98.21L281.92 98.31L282.41 98.41L282.91 98.52L283.4 98.62L283.89 98.73L284.38 98.84L284.88 98.94L285.37 99.05L285.86 99.16L286.36 99.26L286.85 99.37L287.34 99.48L287.83 99.59L288.33 99.7L288.82 99.81L289.31 99.92L289.81 100.03L290.3 100.14L290.79 100.25L291.29 100.36L291.78 100.47L292.27 100.58L292.76 100.69L293.26 100.8L293.75 100.92L294.24 101.03L294.74 101.14L295.23 101.25L295.72 101.36L296.22 101.48L296.71 101.59L297.2 101.7L297.69 101.81L298.19 101.93L298.68 102.04L299.17 102.16L299.67 102.27L300.16 102.39L300.65 102.5L301.15 102.62L301.64 102.74L302.13 102.86L302.62 102.98L303.12 103.11L303.61 103.23L304.1 103.36L304.6 103.49L305.09 103.62L305.58 103.76L306.08 103.9L306.57 104.03L307.06 104.18L307.55 104.32L308.05 104.47L308.54 104.62L309.03 104.77L309.53 104.93L310.02 105.08L310.51 105.24L311.01 105.41L311.5 105.57L311.99 105.74L312.48 105.91L312.98 106.09L313.47 106.26L313.96 106.44L314.46 106.63L314.95 106.82L315.44 107.01L315.94 107.2L316.43 107.41L316.92 107.61L317.41 107.82L317.91 108.03L318.4 108.25L318.89 108.48L319.39 108.71L319.88 108.95L320.37 109.19L320.87 109.44L321.36 109.69L321.85 109.95L322.34 110.22L322.84 110.49L323.33 110.77L323.82 111.05L324.32 111.34L324.81 111.64L325.3 111.94L325.8 112.25L326.29 112.56L326.78 112.89L327.27 113.22L327.77 113.55L328.26 113.9L328.75 114.25L329.25 114.61L329.74 114.98L330.23 115.37L330.72 115.76L331.22 116.17L331.71 116.59L332.2 117.02L332.7 117.46L333.19 117.92L333.68 118.38L334.18 118.85L334.67 119.33L335.16 119.81L335.65 120.29L336.15 120.77L336.64 121.27L337.13 121.78L337.63 122.3L338.12 122.85L338.61 123.42L339.11 124.02L339.6 124.64L340.09 125.3L340.58 125.98L341.08 126.68L341.57 127.41L342.06 128.16L342.56 128.92L343.05 129.71L343.54 130.5L344.04 131.31L344.53 132.12L345.02 132.93L345.51 133.74L346.01 134.54L346.5 135.34L346.99 136.14L347.49 136.94L347.98 137.76L348.47 138.61L348.97 139.52L349.46 140.49L349.95 141.57L350.44 142.74L350.94 144.01L351.43 145.32L351.92 146.61L352.42 147.84L352.91 148.99L353.4 150.09L353.9 151.15L354.39 152.2L354.88 153.27L355.37 154.39L355.87 155.56L356.36 156.8L356.85 158.11L357.35 159.49L357.84 160.91L358.33 162.39L358.83 163.92L359.32 165.48L359.81 167.08L360.3 168.72L360.8 170.4L361.29 172.12L361.78 173.9L362.28 175.71L362.77 177.56L363.26 179.43L363.76 181.3L364.25 183.16L364.74 184.99L365.23 186.81L365.73 188.63L366.22 190.47L366.71 192.35L367.21 194.29L367.7 196.34L368.19 198.51L368.69 200.82L369.18 203.28L369.67 205.85L370.16 208.52L370.66 211.28L371.15 214.08L371.64 216.94L372.14 219.89L372.63 222.91L373.12 225.96L373.61 228.97L374.11 231.92L374.6 234.84" fill="none" stroke="#ff0000" stroke-width="3.1" stroke-linejoin="round" clip-path="url(#clu)"/>
<path d="M51.8 39.21l3.4 3.4m-3.4 0l3.4 -3.4M81.79 46.8l3.4 3.4m-3.4 0l3.4 -3.4M99.33 51.63l3.4 3.4m-3.4 0l3.4 -3.4M111.78 55.57l3.4 3.4m-3.4 0l3.4 -3.4M121.43 58.2l3.4 3.4m-3.4 0l3.4 -3.4M129.32 60.21l3.4 3.4m-3.4 0l3.4 -3.4M135.99 61.99l3.4 3.4m-3.4 0l3.4 -3.4M141.77 63.51l3.4 3.4m-3.4 0l3.4 -3.4M146.87 64.82l3.4 3.4m-3.4 0l3.4 -3.4M151.43 65.99l3.4 3.4m-3.4 0l3.4 -3.4M155.55 67.02l3.4 3.4m-3.4 0l3.4 -3.4M159.31 68.04l3.4 3.4m-3.4 0l3.4 -3.4M162.78 69.01l3.4 3.4m-3.4 0l3.4 -3.4M165.98 69.9l3.4 3.4m-3.4 0l3.4 -3.4M168.97 70.69l3.4 3.4m-3.4 0l3.4 -3.4M171.76 71.41l3.4 3.4m-3.4 0l3.4 -3.4M174.38 72.03l3.4 3.4m-3.4 0l3.4 -3.4M176.86 72.65l3.4 3.4m-3.4 0l3.4 -3.4M179.2 73.21l3.4 3.4m-3.4 0l3.4 -3.4M181.42 73.74l3.4 3.4m-3.4 0l3.4 -3.4M183.53 74.23l3.4 3.4m-3.4 0l3.4 -3.4M185.54 74.69l3.4 3.4m-3.4 0l3.4 -3.4M187.46 75.12l3.4 3.4m-3.4 0l3.4 -3.4M189.3 75.56l3.4 3.4m-3.4 0l3.4 -3.4M191.07 75.97l3.4 3.4m-3.4 0l3.4 -3.4M192.77 76.39l3.4 3.4m-3.4 0l3.4 -3.4M194.4 76.81l3.4 3.4m-3.4 0l3.4 -3.4M195.97 77.19l3.4 3.4m-3.4 0l3.4 -3.4M197.49 77.58l3.4 3.4m-3.4 0l3.4 -3.4M198.96 77.97l3.4 3.4m-3.4 0l3.4 -3.4M200.38 78.41l3.4 3.4m-3.4 0l3.4 -3.4M201.75 78.7l3.4 3.4m-3.4 0l3.4 -3.4M203.08 79.08l3.4 3.4m-3.4 0l3.4 -3.4M204.37 79.45l3.4 3.4m-3.4 0l3.4 -3.4M205.63 79.73l3.4 3.4m-3.4 0l3.4 -3.4M206.85 80.1l3.4 3.4m-3.4 0l3.4 -3.4M208.03 80.4l3.4 3.4m-3.4 0l3.4 -3.4M209.19 80.72l3.4 3.4m-3.4 0l3.4 -3.4M210.31 81.07l3.4 3.4m-3.4 0l3.4 -3.4M211.41 81.28l3.4 3.4m-3.4 0l3.4 -3.4M212.47 81.61l3.4 3.4m-3.4 0l3.4 -3.4M213.52 81.82l3.4 3.4m-3.4 0l3.4 -3.4M214.53 82.11l3.4 3.4m-3.4 0l3.4 -3.4M215.53 82.37l3.4 3.4m-3.4 0l3.4 -3.4M216.5 82.65l3.4 3.4m-3.4 0l3.4 -3.4M217.45 82.84l3.4 3.4m-3.4 0l3.4 -3.4M218.38 83.08l3.4 3.4m-3.4 0l3.4 -3.4M219.29 83.27l3.4 3.4m-3.4 0l3.4 -3.4M220.19 83.52l3.4 3.4m-3.4 0l3.4 -3.4M221.06 83.68l3.4 3.4m-3.4 0l3.4 -3.4M221.92 83.92l3.4 3.4m-3.4 0l3.4 -3.4M222.76 84.11l3.4 3.4m-3.4 0l3.4 -3.4M223.58 84.25l3.4 3.4m-3.4 0l3.4 -3.4M224.39 84.47l3.4 3.4m-3.4 0l3.4 -3.4M225.18 84.69l3.4 3.4m-3.4 0l3.4 -3.4M225.96 84.85l3.4 3.4m-3.4 0l3.4 -3.4M226.73 85.08l3.4 3.4m-3.4 0l3.4 -3.4M227.48 85.23l3.4 3.4m-3.4 0l3.4 -3.4M228.22 85.38l3.4 3.4m-3.4 0l3.4 -3.4M228.95 85.56l3.4 3.4m-3.4 0l3.4 -3.4M229.66 85.73l3.4 3.4m-3.4 0l3.4 -3.4M230.37 85.85l3.4 3.4m-3.4 0l3.4 -3.4M231.06 86.04l3.4 3.4m-3.4 0l3.4 -3.4M231.74 86.19l3.4 3.4m-3.4 0l3.4 -3.4M232.41 86.34l3.4 3.4m-3.4 0l3.4 -3.4M233.07 86.49l3.4 3.4m-3.4 0l3.4 -3.4M233.72 86.59l3.4 3.4m-3.4 0l3.4 -3.4M234.36 86.74l3.4 3.4m-3.4 0l3.4 -3.4M235 86.93l3.4 3.4m-3.4 0l3.4 -3.4M236.23 87.13l3.4 3.4m-3.4 0l3.4 -3.4M236.84 87.3l3.4 3.4m-3.4 0l3.4 -3.4M238.02 87.55l3.4 3.4m-3.4 0l3.4 -3.4M239.18 87.79l3.4 3.4m-3.4 0l3.4 -3.4M240.3 88.01l3.4 3.4m-3.4 0l3.4 -3.4M240.85 88.21l3.4 3.4m-3.4 0l3.4 -3.4M241.93 88.39l3.4 3.4m-3.4 0l3.4 -3.4M242.99 88.65l3.4 3.4m-3.4 0l3.4 -3.4M244.02 88.8l3.4 3.4m-3.4 0l3.4 -3.4M245.02 89.06l3.4 3.4m-3.4 0l3.4 -3.4M246.01 89.31l3.4 3.4m-3.4 0l3.4 -3.4M246.97 89.46l3.4 3.4m-3.4 0l3.4 -3.4M247.91 89.65l3.4 3.4m-3.4 0l3.4 -3.4M248.83 89.88l3.4 3.4m-3.4 0l3.4 -3.4M249.73 90.15l3.4 3.4m-3.4 0l3.4 -3.4M250.62 90.35l3.4 3.4m-3.4 0l3.4 -3.4M251.48 90.55l3.4 3.4m-3.4 0l3.4 -3.4M252.33 90.72l3.4 3.4m-3.4 0l3.4 -3.4M253.16 90.92l3.4 3.4m-3.4 0l3.4 -3.4M253.98 91.1l3.4 3.4m-3.4 0l3.4 -3.4M254.78 91.3l3.4 3.4m-3.4 0l3.4 -3.4M255.57 91.5l3.4 3.4m-3.4 0l3.4 -3.4M256.34 91.71l3.4 3.4m-3.4 0l3.4 -3.4M257.1 91.8l3.4 3.4m-3.4 0l3.4 -3.4M257.84 92.04l3.4 3.4m-3.4 0l3.4 -3.4M258.58 92.15l3.4 3.4m-3.4 0l3.4 -3.4M259.3 92.33l3.4 3.4m-3.4 0l3.4 -3.4M260.01 92.39l3.4 3.4m-3.4 0l3.4 -3.4M260.7 92.61l3.4 3.4m-3.4 0l3.4 -3.4M261.39 92.74l3.4 3.4m-3.4 0l3.4 -3.4M262.07 92.98l3.4 3.4m-3.4 0l3.4 -3.4M262.73 93.11l3.4 3.4m-3.4 0l3.4 -3.4M263.39 93.23l3.4 3.4m-3.4 0l3.4 -3.4M264.03 93.37l3.4 3.4m-3.4 0l3.4 -3.4M264.67 93.51l3.4 3.4m-3.4 0l3.4 -3.4M265.3 93.64l3.4 3.4m-3.4 0l3.4 -3.4M266.22 93.78l3.4 3.4m-3.4 0l3.4 -3.4M267.13 93.9l3.4 3.4m-3.4 0l3.4 -3.4M267.72 94.08l3.4 3.4m-3.4 0l3.4 -3.4M268.59 94.22l3.4 3.4m-3.4 0l3.4 -3.4M269.17 94.41l3.4 3.4m-3.4 0l3.4 -3.4M270.01 94.58l3.4 3.4m-3.4 0l3.4 -3.4M270.84 94.72l3.4 3.4m-3.4 0l3.4 -3.4M271.66 94.83l3.4 3.4m-3.4 0l3.4 -3.4M272.45 95.05l3.4 3.4m-3.4 0l3.4 -3.4M273.24 95.17l3.4 3.4m-3.4 0l3.4 -3.4M274.01 95.38l3.4 3.4m-3.4 0l3.4 -3.4M274.77 95.5l3.4 3.4m-3.4 0l3.4 -3.4M275.51 95.63l3.4 3.4m-3.4 0l3.4 -3.4M276.24 95.79l3.4 3.4m-3.4 0l3.4 -3.4M276.96 95.89l3.4 3.4m-3.4 0l3.4 -3.4M277.67 96.1l3.4 3.4m-3.4 0l3.4 -3.4M278.36 96.23l3.4 3.4m-3.4 0l3.4 -3.4M279.05 96.33l3.4 3.4m-3.4 0l3.4 -3.4M279.72 96.51l3.4 3.4m-3.4 0l3.4 -3.4M280.39 96.72l3.4 3.4m-3.4 0l3.4 -3.4M281.26 96.76l3.4 3.4m-3.4 0l3.4 -3.4M281.9 96.98l3.4 3.4m-3.4 0l3.4 -3.4M282.53 97.1l3.4 3.4m-3.4 0l3.4 -3.4M283.15 97.25l3.4 3.4m-3.4 0l3.4 -3.4M283.76 97.39l3.4 3.4m-3.4 0l3.4 -3.4M284.57 97.54l3.4 3.4m-3.4 0l3.4 -3.4M285.16 97.75l3.4 3.4m-3.4 0l3.4 -3.4M285.94 97.84l3.4 3.4m-3.4 0l3.4 -3.4M286.71 98.04l3.4 3.4m-3.4 0l3.4 -3.4M287.46 98.21l3.4 3.4m-3.4 0l3.4 -3.4M288.2 98.36l3.4 3.4m-3.4 0l3.4 -3.4M288.93 98.55l3.4 3.4m-3.4 0l3.4 -3.4M289.64 98.69l3.4 3.4m-3.4 0l3.4 -3.4M290.35 98.86l3.4 3.4m-3.4 0l3.4 -3.4M291.21 99.01l3.4 3.4m-3.4 0l3.4 -3.4M291.89 99.14l3.4 3.4m-3.4 0l3.4 -3.4M292.56 99.37l3.4 3.4m-3.4 0l3.4 -3.4M293.22 99.5l3.4 3.4m-3.4 0l3.4 -3.4M293.86 99.65l3.4 3.4m-3.4 0l3.4 -3.4M294.5 99.8l3.4 3.4m-3.4 0l3.4 -3.4M295.29 99.91l3.4 3.4m-3.4 0l3.4 -3.4M295.91 100.1l3.4 3.4m-3.4 0l3.4 -3.4M296.67 100.35l3.4 3.4m-3.4 0l3.4 -3.4M297.41 100.42l3.4 3.4m-3.4 0l3.4 -3.4M298 100.59l3.4 3.4m-3.4 0l3.4 -3.4M298.73 100.77l3.4 3.4m-3.4 0l3.4 -3.4M299.44 100.87l3.4 3.4m-3.4 0l3.4 -3.4M300 101.06l3.4 3.4m-3.4 0l3.4 -3.4M300.69 101.23l3.4 3.4m-3.4 0l3.4 -3.4M301.38 101.36l3.4 3.4m-3.4 0l3.4 -3.4M302.05 101.5l3.4 3.4m-3.4 0l3.4 -3.4M302.58 101.75l3.4 3.4m-3.4 0l3.4 -3.4M303.23 101.87l3.4 3.4m-3.4 0l3.4 -3.4M303.87 102.01l3.4 3.4m-3.4 0l3.4 -3.4M304.38 102.28l3.4 3.4m-3.4 0l3.4 -3.4M305.13 102.48l3.4 3.4m-3.4 0l3.4 -3.4M305.87 102.6l3.4 3.4m-3.4 0l3.4 -3.4M306.59 102.88l3.4 3.4m-3.4 0l3.4 -3.4M307.3 103.08l3.4 3.4m-3.4 0l3.4 -3.4M307.89 103.25l3.4 3.4m-3.4 0l3.4 -3.4M308.47 103.44l3.4 3.4m-3.4 0l3.4 -3.4M309.15 103.67l3.4 3.4m-3.4 0l3.4 -3.4M309.82 103.9l3.4 3.4m-3.4 0l3.4 -3.4M310.49 104.04l3.4 3.4m-3.4 0l3.4 -3.4M311.14 104.4l3.4 3.4m-3.4 0l3.4 -3.4M311.78 104.56l3.4 3.4m-3.4 0l3.4 -3.4M312.31 104.8l3.4 3.4m-3.4 0l3.4 -3.4M312.93 104.94l3.4 3.4m-3.4 0l3.4 -3.4M313.45 105.21l3.4 3.4m-3.4 0l3.4 -3.4M314.06 105.37l3.4 3.4m-3.4 0l3.4 -3.4M314.56 105.68l3.4 3.4m-3.4 0l3.4 -3.4M315.06 106l3.4 3.4m-3.4 0l3.4 -3.4M315.74 106.11l3.4 3.4m-3.4 0l3.4 -3.4M316.32 106.37l3.4 3.4m-3.4 0l3.4 -3.4M316.89 106.58l3.4 3.4m-3.4 0l3.4 -3.4M317.45 106.87l3.4 3.4m-3.4 0l3.4 -3.4M317.92 107.17l3.4 3.4m-3.4 0l3.4 -3.4M318.37 107.49l3.4 3.4m-3.4 0l3.4 -3.4M319.01 107.64l3.4 3.4m-3.4 0l3.4 -3.4M319.55 107.94l3.4 3.4m-3.4 0l3.4 -3.4M320.07 108.21l3.4 3.4m-3.4 0l3.4 -3.4M320.51 108.59l3.4 3.4m-3.4 0l3.4 -3.4M321.12 108.82l3.4 3.4m-3.4 0l3.4 -3.4M321.71 109.03l3.4 3.4m-3.4 0l3.4 -3.4M322.13 109.47l3.4 3.4m-3.4 0l3.4 -3.4M322.8 109.9l3.4 3.4m-3.4 0l3.4 -3.4M323.29 110.26l3.4 3.4m-3.4 0l3.4 -3.4M323.93 110.44l3.4 3.4m-3.4 0l3.4 -3.4M324.41 110.71l3.4 3.4m-3.4 0l3.4 -3.4M324.89 111.06l3.4 3.4m-3.4 0l3.4 -3.4M325.36 111.36l3.4 3.4m-3.4 0l3.4 -3.4M325.82 111.71l3.4 3.4m-3.4 0l3.4 -3.4M326.2 112.13l3.4 3.4m-3.4 0l3.4 -3.4M326.81 112.41l3.4 3.4m-3.4 0l3.4 -3.4M327.33 112.74l3.4 3.4m-3.4 0l3.4 -3.4M327.77 113.1l3.4 3.4m-3.4 0l3.4 -3.4M328.21 113.43l3.4 3.4m-3.4 0l3.4 -3.4M328.57 113.85l3.4 3.4m-3.4 0l3.4 -3.4M329.08 114.17l3.4 3.4m-3.4 0l3.4 -3.4M329.5 114.52l3.4 3.4m-3.4 0l3.4 -3.4M329.92 114.94l3.4 3.4m-3.4 0l3.4 -3.4M330.41 115.22l3.4 3.4m-3.4 0l3.4 -3.4M330.82 115.59l3.4 3.4m-3.4 0l3.4 -3.4M331.23 115.97l3.4 3.4m-3.4 0l3.4 -3.4M331.64 116.4l3.4 3.4m-3.4 0l3.4 -3.4M332.1 116.9l3.4 3.4m-3.4 0l3.4 -3.4M332.5 117.28l3.4 3.4m-3.4 0l3.4 -3.4M333.02 117.86l3.4 3.4m-3.4 0l3.4 -3.4M333.61 118.29l3.4 3.4m-3.4 0l3.4 -3.4M334.05 118.75l3.4 3.4m-3.4 0l3.4 -3.4M334.49 119.25l3.4 3.4m-3.4 0l3.4 -3.4M334.93 119.73l3.4 3.4m-3.4 0l3.4 -3.4M335.37 120.11l3.4 3.4m-3.4 0l3.4 -3.4M335.86 120.49l3.4 3.4m-3.4 0l3.4 -3.4M336.16 121.11l3.4 3.4m-3.4 0l3.4 -3.4M336.64 121.42l3.4 3.4m-3.4 0l3.4 -3.4M337.06 121.88l3.4 3.4m-3.4 0l3.4 -3.4M337.41 122.29l3.4 3.4m-3.4 0l3.4 -3.4M337.71 122.76l3.4 3.4m-3.4 0l3.4 -3.4M338.05 123.22l3.4 3.4m-3.4 0l3.4 -3.4M338.29 123.76l3.4 3.4m-3.4 0l3.4 -3.4M338.74 124.24l3.4 3.4m-3.4 0l3.4 -3.4M339.2 124.73l3.4 3.4m-3.4 0l3.4 -3.4M339.59 125.19l3.4 3.4m-3.4 0l3.4 -3.4M339.87 125.75l3.4 3.4m-3.4 0l3.4 -3.4M340.2 126.29l3.4 3.4m-3.4 0l3.4 -3.4M340.48 126.84l3.4 3.4m-3.4 0l3.4 -3.4M340.86 127.46l3.4 3.4m-3.4 0l3.4 -3.4M341.24 128.02l3.4 3.4m-3.4 0l3.4 -3.4M341.66 128.6l3.4 3.4m-3.4 0l3.4 -3.4M342.04 129.27l3.4 3.4m-3.4 0l3.4 -3.4M342.4 129.88l3.4 3.4m-3.4 0l3.4 -3.4M342.72 130.32l3.4 3.4m-3.4 0l3.4 -3.4M343.03 131.22l3.4 3.4m-3.4 0l3.4 -3.4M343.59 131.8l3.4 3.4m-3.4 0l3.4 -3.4M343.9 132.34l3.4 3.4m-3.4 0l3.4 -3.4M344.3 133.05l3.4 3.4m-3.4 0l3.4 -3.4M344.7 133.43l3.4 3.4m-3.4 0l3.4 -3.4M345.05 134.09l3.4 3.4m-3.4 0l3.4 -3.4M345.44 134.83l3.4 3.4m-3.4 0l3.4 -3.4M345.73 135.48l3.4 3.4m-3.4 0l3.4 -3.4M346.07 135.96l3.4 3.4m-3.4 0l3.4 -3.4M346.45 136.52l3.4 3.4m-3.4 0l3.4 -3.4M346.74 137.27l3.4 3.4m-3.4 0l3.4 -3.4M347.16 137.94l3.4 3.4m-3.4 0l3.4 -3.4M347.44 138.46l3.4 3.4m-3.4 0l3.4 -3.4M347.67 139.05l3.4 3.4m-3.4 0l3.4 -3.4M348.04 139.72l3.4 3.4m-3.4 0l3.4 -3.4M348.41 140.17l3.4 3.4m-3.4 0l3.4 -3.4M348.59 140.86l3.4 3.4m-3.4 0l3.4 -3.4M348.86 141.42l3.4 3.4m-3.4 0l3.4 -3.4M349.13 142.48l3.4 3.4m-3.4 0l3.4 -3.4M349.18 141.54l3.4 3.4m-3.4 0l3.4 -3.4M349.22 142.96l3.4 3.4m-3.4 0l3.4 -3.4M349.58 143.38l3.4 3.4m-3.4 0l3.4 -3.4M349.62 142.53l3.4 3.4m-3.4 0l3.4 -3.4M349.67 143.64l3.4 3.4m-3.4 0l3.4 -3.4M350.02 144.61l3.4 3.4m-3.4 0l3.4 -3.4M350.33 145.45l3.4 3.4m-3.4 0l3.4 -3.4M350.37 144.64l3.4 3.4m-3.4 0l3.4 -3.4M350.41 145.4l3.4 3.4m-3.4 0l3.4 -3.4M350.55 146.05l3.4 3.4m-3.4 0l3.4 -3.4M350.8 147.3l3.4 3.4m-3.4 0l3.4 -3.4M350.85 146.17l3.4 3.4m-3.4 0l3.4 -3.4M350.98 146.89l3.4 3.4m-3.4 0l3.4 -3.4M351.23 147.82l3.4 3.4m-3.4 0l3.4 -3.4M351.4 147.18l3.4 3.4m-3.4 0l3.4 -3.4M351.45 148.9l3.4 3.4m-3.4 0l3.4 -3.4M351.49 147.27l3.4 3.4m-3.4 0l3.4 -3.4M351.57 148.63l3.4 3.4m-3.4 0l3.4 -3.4M351.74 148.01l3.4 3.4m-3.4 0l3.4 -3.4M351.83 149.01l3.4 3.4m-3.4 0l3.4 -3.4M352.04 149.78l3.4 3.4m-3.4 0l3.4 -3.4M352.12 148.84l3.4 3.4m-3.4 0l3.4 -3.4M352.25 149.9l3.4 3.4m-3.4 0l3.4 -3.4M352.62 150.39l3.4 3.4m-3.4 0l3.4 -3.4M352.83 151.67l3.4 3.4m-3.4 0l3.4 -3.4M352.87 150.51l3.4 3.4m-3.4 0l3.4 -3.4M353.03 151.55l3.4 3.4m-3.4 0l3.4 -3.4M353.11 150.88l3.4 3.4m-3.4 0l3.4 -3.4M353.16 151.76l3.4 3.4m-3.4 0l3.4 -3.4M353.36 153.1l3.4 3.4m-3.4 0l3.4 -3.4M353.48 152.28l3.4 3.4m-3.4 0l3.4 -3.4M353.92 153.58l3.4 3.4m-3.4 0l3.4 -3.4M353.96 152.56l3.4 3.4m-3.4 0l3.4 -3.4M354.04 153.44l3.4 3.4m-3.4 0l3.4 -3.4M354.08 154.83l3.4 3.4m-3.4 0l3.4 -3.4M354.32 153.95l3.4 3.4m-3.4 0l3.4 -3.4M354.48 154.74l3.4 3.4m-3.4 0l3.4 -3.4M354.6 155.75l3.4 3.4m-3.4 0l3.4 -3.4M354.68 154.34l3.4 3.4m-3.4 0l3.4 -3.4M354.72 155.32l3.4 3.4m-3.4 0l3.4 -3.4M354.76 154.54l3.4 3.4m-3.4 0l3.4 -3.4M354.8 155.71l3.4 3.4m-3.4 0l3.4 -3.4M354.96 157l3.4 3.4m-3.4 0l3.4 -3.4M354.99 155.98l3.4 3.4m-3.4 0l3.4 -3.4M355.03 156.81l3.4 3.4m-3.4 0l3.4 -3.4M355.19 155.88l3.4 3.4m-3.4 0l3.4 -3.4M355.27 157.34l3.4 3.4m-3.4 0l3.4 -3.4M355.42 158.4l3.4 3.4m-3.4 0l3.4 -3.4M355.5 156.87l3.4 3.4m-3.4 0l3.4 -3.4M355.58 157.92l3.4 3.4m-3.4 0l3.4 -3.4M355.62 157.09l3.4 3.4m-3.4 0l3.4 -3.4M355.66 158.16l3.4 3.4m-3.4 0l3.4 -3.4M355.77 159.2l3.4 3.4m-3.4 0l3.4 -3.4M355.81 157.83l3.4 3.4m-3.4 0l3.4 -3.4M355.89 158.68l3.4 3.4m-3.4 0l3.4 -3.4M356.04 159.33l3.4 3.4m-3.4 0l3.4 -3.4M356.27 160.02l3.4 3.4m-3.4 0l3.4 -3.4M356.34 161.79l3.4 3.4m-3.4 0l3.4 -3.4M356.38 159.85l3.4 3.4m-3.4 0l3.4 -3.4M356.46 159.17l3.4 3.4m-3.4 0l3.4 -3.4M356.5 160.06l3.4 3.4m-3.4 0l3.4 -3.4M356.61 158.84l3.4 3.4m-3.4 0l3.4 -3.4M356.65 161.5l3.4 3.4m-3.4 0l3.4 -3.4M356.68 160.13l3.4 3.4m-3.4 0l3.4 -3.4M356.72 161.79l3.4 3.4m-3.4 0l3.4 -3.4M356.83 160.83l3.4 3.4m-3.4 0l3.4 -3.4M356.87 161.95l3.4 3.4m-3.4 0l3.4 -3.4M356.91 160.91l3.4 3.4m-3.4 0l3.4 -3.4M357.02 162.12l3.4 3.4m-3.4 0l3.4 -3.4M357.17 162.78l3.4 3.4m-3.4 0l3.4 -3.4M357.39 164.73l3.4 3.4m-3.4 0l3.4 -3.4M357.43 163.66l3.4 3.4m-3.4 0l3.4 -3.4M357.47 162.38l3.4 3.4m-3.4 0l3.4 -3.4M357.5 163.81l3.4 3.4m-3.4 0l3.4 -3.4M357.54 164.57l3.4 3.4m-3.4 0l3.4 -3.4M357.58 163.42l3.4 3.4m-3.4 0l3.4 -3.4M357.62 165.05l3.4 3.4m-3.4 0l3.4 -3.4M357.65 163.96l3.4 3.4m-3.4 0l3.4 -3.4M357.73 165l3.4 3.4m-3.4 0l3.4 -3.4M357.76 161.46l3.4 3.4m-3.4 0l3.4 -3.4M357.8 164.36l3.4 3.4m-3.4 0l3.4 -3.4M357.84 165.33l3.4 3.4m-3.4 0l3.4 -3.4M357.91 164.21l3.4 3.4m-3.4 0l3.4 -3.4M357.95 165.96l3.4 3.4m-3.4 0l3.4 -3.4M357.98 164.73l3.4 3.4m-3.4 0l3.4 -3.4M358.02 165.96l3.4 3.4m-3.4 0l3.4 -3.4M358.06 164.01l3.4 3.4m-3.4 0l3.4 -3.4M358.13 165.44l3.4 3.4m-3.4 0l3.4 -3.4M358.2 164.57l3.4 3.4m-3.4 0l3.4 -3.4M358.24 165.96l3.4 3.4m-3.4 0l3.4 -3.4M358.31 164.94l3.4 3.4m-3.4 0l3.4 -3.4M358.35 166.32l3.4 3.4m-3.4 0l3.4 -3.4M358.42 167.95l3.4 3.4m-3.4 0l3.4 -3.4M358.46 166.57l3.4 3.4m-3.4 0l3.4 -3.4M358.49 167.54l3.4 3.4m-3.4 0l3.4 -3.4M358.53 166.38l3.4 3.4m-3.4 0l3.4 -3.4M358.56 165.5l3.4 3.4m-3.4 0l3.4 -3.4M358.6 166.82l3.4 3.4m-3.4 0l3.4 -3.4M358.71 165.9l3.4 3.4m-3.4 0l3.4 -3.4M358.74 168.02l3.4 3.4m-3.4 0l3.4 -3.4M358.78 168.83l3.4 3.4m-3.4 0l3.4 -3.4M358.82 167.75l3.4 3.4m-3.4 0l3.4 -3.4M359.07 168.83l3.4 3.4m-3.4 0l3.4 -3.4M359.1 167.21l3.4 3.4m-3.4 0l3.4 -3.4M359.17 169.93l3.4 3.4m-3.4 0l3.4 -3.4M359.24 168.6l3.4 3.4m-3.4 0l3.4 -3.4M359.28 167.41l3.4 3.4m-3.4 0l3.4 -3.4M359.31 168.83l3.4 3.4m-3.4 0l3.4 -3.4M359.35 169.93l3.4 3.4m-3.4 0l3.4 -3.4M359.38 171.92l3.4 3.4m-3.4 0l3.4 -3.4M359.42 169.61l3.4 3.4m-3.4 0l3.4 -3.4M359.46 170.35l3.4 3.4m-3.4 0l3.4 -3.4M359.56 171.16l3.4 3.4m-3.4 0l3.4 -3.4M359.67 169.77l3.4 3.4m-3.4 0l3.4 -3.4M359.77 172.84l3.4 3.4m-3.4 0l3.4 -3.4M359.81 170.53l3.4 3.4m-3.4 0l3.4 -3.4M359.84 171.25l3.4 3.4m-3.4 0l3.4 -3.4M359.91 170.53l3.4 3.4m-3.4 0l3.4 -3.4M359.98 172.11l3.4 3.4m-3.4 0l3.4 -3.4M360.02 170.7l3.4 3.4m-3.4 0l3.4 -3.4M360.05 172.11l3.4 3.4m-3.4 0l3.4 -3.4M360.09 173.95l3.4 3.4m-3.4 0l3.4 -3.4M360.12 172.84l3.4 3.4m-3.4 0l3.4 -3.4M360.16 171.25l3.4 3.4m-3.4 0l3.4 -3.4M360.19 172.73l3.4 3.4m-3.4 0l3.4 -3.4M360.23 171.25l3.4 3.4m-3.4 0l3.4 -3.4M360.26 173.05l3.4 3.4m-3.4 0l3.4 -3.4M360.3 175.05l3.4 3.4m-3.4 0l3.4 -3.4M360.4 173.49l3.4 3.4m-3.4 0l3.4 -3.4M360.43 172.11l3.4 3.4m-3.4 0l3.4 -3.4M360.47 173.72l3.4 3.4m-3.4 0l3.4 -3.4M360.5 172.11l3.4 3.4m-3.4 0l3.4 -3.4M360.54 173.6l3.4 3.4m-3.4 0l3.4 -3.4M360.61 176.56l3.4 3.4m-3.4 0l3.4 -3.4M360.64 174.67l3.4 3.4m-3.4 0l3.4 -3.4M360.74 173.49l3.4 3.4m-3.4 0l3.4 -3.4M360.78 175.05l3.4 3.4m-3.4 0l3.4 -3.4M360.85 174.07l3.4 3.4m-3.4 0l3.4 -3.4M360.91 176.27l3.4 3.4m-3.4 0l3.4 -3.4M360.98 174.43l3.4 3.4m-3.4 0l3.4 -3.4M361.05 176.41l3.4 3.4m-3.4 0l3.4 -3.4M361.08 173.95l3.4 3.4m-3.4 0l3.4 -3.4M361.12 175.18l3.4 3.4m-3.4 0l3.4 -3.4M361.19 176.41l3.4 3.4m-3.4 0l3.4 -3.4M361.22 175.44l3.4 3.4m-3.4 0l3.4 -3.4M361.25 177.47l3.4 3.4m-3.4 0l3.4 -3.4M361.29 176.71l3.4 3.4m-3.4 0l3.4 -3.4M361.32 174.67l3.4 3.4m-3.4 0l3.4 -3.4M361.36 176.71l3.4 3.4m-3.4 0l3.4 -3.4M361.39 179.54l3.4 3.4m-3.4 0l3.4 -3.4M361.42 176.41l3.4 3.4m-3.4 0l3.4 -3.4M361.46 178.29l3.4 3.4m-3.4 0l3.4 -3.4M361.49 177.16l3.4 3.4m-3.4 0l3.4 -3.4M361.52 178.29l3.4 3.4m-3.4 0l3.4 -3.4M361.56 179.73l3.4 3.4m-3.4 0l3.4 -3.4M361.63 177.01l3.4 3.4m-3.4 0l3.4 -3.4M361.66 180.12l3.4 3.4m-3.4 0l3.4 -3.4M361.69 176.27l3.4 3.4m-3.4 0l3.4 -3.4M361.76 177.79l3.4 3.4m-3.4 0l3.4 -3.4M361.79 179.54l3.4 3.4m-3.4 0l3.4 -3.4M361.83 177.95l3.4 3.4m-3.4 0l3.4 -3.4M361.86 180.32l3.4 3.4m-3.4 0l3.4 -3.4M361.89 177.63l3.4 3.4m-3.4 0l3.4 -3.4M361.96 179.17l3.4 3.4m-3.4 0l3.4 -3.4M362.03 176.56l3.4 3.4m-3.4 0l3.4 -3.4M362.06 182.06l3.4 3.4m-3.4 0l3.4 -3.4M362.09 179.54l3.4 3.4m-3.4 0l3.4 -3.4M362.13 180.32l3.4 3.4m-3.4 0l3.4 -3.4M362.16 179.54l3.4 3.4m-3.4 0l3.4 -3.4M362.23 180.94l3.4 3.4m-3.4 0l3.4 -3.4M362.29 178.29l3.4 3.4m-3.4 0l3.4 -3.4M362.36 180.12l3.4 3.4m-3.4 0l3.4 -3.4M362.46 183.03l3.4 3.4m-3.4 0l3.4 -3.4M362.49 178.29l3.4 3.4m-3.4 0l3.4 -3.4M362.52 179.92l3.4 3.4m-3.4 0l3.4 -3.4M362.56 182.78l3.4 3.4m-3.4 0l3.4 -3.4M362.59 181.16l3.4 3.4m-3.4 0l3.4 -3.4M362.62 180.32l3.4 3.4m-3.4 0l3.4 -3.4M362.65 179.35l3.4 3.4m-3.4 0l3.4 -3.4M362.69 182.78l3.4 3.4m-3.4 0l3.4 -3.4M362.79 181.82l3.4 3.4m-3.4 0l3.4 -3.4M362.82 184.66l3.4 3.4m-3.4 0l3.4 -3.4M362.85 180.52l3.4 3.4m-3.4 0l3.4 -3.4M362.88 181.6l3.4 3.4m-3.4 0l3.4 -3.4M362.92 184.38l3.4 3.4m-3.4 0l3.4 -3.4M362.95 185.9l3.4 3.4m-3.4 0l3.4 -3.4M362.98 183.82l3.4 3.4m-3.4 0l3.4 -3.4M363.01 184.66l3.4 3.4m-3.4 0l3.4 -3.4M363.05 183.03l3.4 3.4m-3.4 0l3.4 -3.4M363.11 181.82l3.4 3.4m-3.4 0l3.4 -3.4M363.14 184.66l3.4 3.4m-3.4 0l3.4 -3.4M363.18 181.82l3.4 3.4m-3.4 0l3.4 -3.4M363.21 182.78l3.4 3.4m-3.4 0l3.4 -3.4M363.24 186.56l3.4 3.4m-3.4 0l3.4 -3.4M363.27 183.29l3.4 3.4m-3.4 0l3.4 -3.4M363.31 184.96l3.4 3.4m-3.4 0l3.4 -3.4M363.34 187.65l3.4 3.4m-3.4 0l3.4 -3.4M363.37 185.9l3.4 3.4m-3.4 0l3.4 -3.4M363.4 188.84l3.4 3.4m-3.4 0l3.4 -3.4M363.43 185.9l3.4 3.4m-3.4 0l3.4 -3.4M363.47 184.09l3.4 3.4m-3.4 0l3.4 -3.4M363.53 186.56l3.4 3.4m-3.4 0l3.4 -3.4M363.56 187.65l3.4 3.4m-3.4 0l3.4 -3.4M363.6 184.96l3.4 3.4m-3.4 0l3.4 -3.4M363.63 186.23l3.4 3.4m-3.4 0l3.4 -3.4M363.69 187.27l3.4 3.4m-3.4 0l3.4 -3.4M363.72 186.23l3.4 3.4m-3.4 0l3.4 -3.4M363.76 182.06l3.4 3.4m-3.4 0l3.4 -3.4M363.79 186.91l3.4 3.4m-3.4 0l3.4 -3.4M363.85 187.65l3.4 3.4m-3.4 0l3.4 -3.4M363.88 186.56l3.4 3.4m-3.4 0l3.4 -3.4M363.95 184.96l3.4 3.4m-3.4 0l3.4 -3.4M363.98 186.91l3.4 3.4m-3.4 0l3.4 -3.4M364.04 188.42l3.4 3.4m-3.4 0l3.4 -3.4M364.14 189.26l3.4 3.4m-3.4 0l3.4 -3.4M364.17 188.42l3.4 3.4m-3.4 0l3.4 -3.4M364.2 184.38l3.4 3.4m-3.4 0l3.4 -3.4M364.23 187.65l3.4 3.4m-3.4 0l3.4 -3.4M364.26 188.84l3.4 3.4m-3.4 0l3.4 -3.4M364.3 191.14l3.4 3.4m-3.4 0l3.4 -3.4M364.36 192.77l3.4 3.4m-3.4 0l3.4 -3.4M364.39 187.65l3.4 3.4m-3.4 0l3.4 -3.4M364.42 190.64l3.4 3.4m-3.4 0l3.4 -3.4M364.45 187.65l3.4 3.4m-3.4 0l3.4 -3.4M364.55 189.26l3.4 3.4m-3.4 0l3.4 -3.4M364.58 187.27l3.4 3.4m-3.4 0l3.4 -3.4M364.61 190.64l3.4 3.4m-3.4 0l3.4 -3.4M364.64 188.84l3.4 3.4m-3.4 0l3.4 -3.4M364.67 191.66l3.4 3.4m-3.4 0l3.4 -3.4M364.7 193.37l3.4 3.4m-3.4 0l3.4 -3.4M364.74 190.64l3.4 3.4m-3.4 0l3.4 -3.4M364.77 191.66l3.4 3.4m-3.4 0l3.4 -3.4M364.8 188.03l3.4 3.4m-3.4 0l3.4 -3.4M364.86 186.23l3.4 3.4m-3.4 0l3.4 -3.4M364.89 192.2l3.4 3.4m-3.4 0l3.4 -3.4M364.92 190.64l3.4 3.4m-3.4 0l3.4 -3.4M364.99 193.37l3.4 3.4m-3.4 0l3.4 -3.4M365.05 189.26l3.4 3.4m-3.4 0l3.4 -3.4M365.08 188.42l3.4 3.4m-3.4 0l3.4 -3.4M365.11 192.2l3.4 3.4m-3.4 0l3.4 -3.4M365.14 190.64l3.4 3.4m-3.4 0l3.4 -3.4M365.17 188.84l3.4 3.4m-3.4 0l3.4 -3.4M365.2 196.13l3.4 3.4m-3.4 0l3.4 -3.4M365.23 194l3.4 3.4m-3.4 0l3.4 -3.4M365.26 191.14l3.4 3.4m-3.4 0l3.4 -3.4M365.29 188.03l3.4 3.4m-3.4 0l3.4 -3.4M365.33 198.74l3.4 3.4m-3.4 0l3.4 -3.4M365.36 190.64l3.4 3.4m-3.4 0l3.4 -3.4M365.39 189.26l3.4 3.4m-3.4 0l3.4 -3.4M365.42 190.16l3.4 3.4m-3.4 0l3.4 -3.4M365.45 191.66l3.4 3.4m-3.4 0l3.4 -3.4M365.54 193.37l3.4 3.4m-3.4 0l3.4 -3.4M365.57 191.14l3.4 3.4m-3.4 0l3.4 -3.4M365.6 193.37l3.4 3.4m-3.4 0l3.4 -3.4M365.66 190.64l3.4 3.4m-3.4 0l3.4 -3.4M365.69 191.66l3.4 3.4m-3.4 0l3.4 -3.4M365.72 194.67l3.4 3.4m-3.4 0l3.4 -3.4M365.79 200.88l3.4 3.4m-3.4 0l3.4 -3.4M365.82 196.94l3.4 3.4m-3.4 0l3.4 -3.4M365.85 195.38l3.4 3.4m-3.4 0l3.4 -3.4M365.88 194l3.4 3.4m-3.4 0l3.4 -3.4M365.91 192.2l3.4 3.4m-3.4 0l3.4 -3.4M365.94 193.37l3.4 3.4m-3.4 0l3.4 -3.4M366 195.38l3.4 3.4m-3.4 0l3.4 -3.4M366.03 194l3.4 3.4m-3.4 0l3.4 -3.4M366.09 191.66l3.4 3.4m-3.4 0l3.4 -3.4M366.12 192.77l3.4 3.4m-3.4 0l3.4 -3.4M366.15 196.13l3.4 3.4m-3.4 0l3.4 -3.4M366.18 197.81l3.4 3.4m-3.4 0l3.4 -3.4M366.21 198.74l3.4 3.4m-3.4 0l3.4 -3.4M366.24 197.81l3.4 3.4m-3.4 0l3.4 -3.4M366.27 202.11l3.4 3.4m-3.4 0l3.4 -3.4M366.3 195.38l3.4 3.4m-3.4 0l3.4 -3.4M366.33 196.94l3.4 3.4m-3.4 0l3.4 -3.4M366.39 196.13l3.4 3.4m-3.4 0l3.4 -3.4M366.42 198.74l3.4 3.4m-3.4 0l3.4 -3.4M366.45 202.11l3.4 3.4m-3.4 0l3.4 -3.4M366.48 192.77l3.4 3.4m-3.4 0l3.4 -3.4M366.51 191.66l3.4 3.4m-3.4 0l3.4 -3.4M366.54 196.13l3.4 3.4m-3.4 0l3.4 -3.4M366.57 199.76l3.4 3.4m-3.4 0l3.4 -3.4M366.6 194.67l3.4 3.4m-3.4 0l3.4 -3.4M366.63 196.94l3.4 3.4m-3.4 0l3.4 -3.4M366.66 197.81l3.4 3.4m-3.4 0l3.4 -3.4M366.69 192.2l3.4 3.4m-3.4 0l3.4 -3.4M366.72 200.88l3.4 3.4m-3.4 0l3.4 -3.4M366.75 193.37l3.4 3.4m-3.4 0l3.4 -3.4M366.78 199.76l3.4 3.4m-3.4 0l3.4 -3.4M366.81 196.13l3.4 3.4m-3.4 0l3.4 -3.4M366.84 194.67l3.4 3.4m-3.4 0l3.4 -3.4M366.87 206.85l3.4 3.4m-3.4 0l3.4 -3.4M366.9 195.38l3.4 3.4m-3.4 0l3.4 -3.4M366.96 196.13l3.4 3.4m-3.4 0l3.4 -3.4M366.99 199.76l3.4 3.4m-3.4 0l3.4 -3.4M367.02 202.11l3.4 3.4m-3.4 0l3.4 -3.4M367.05 196.13l3.4 3.4m-3.4 0l3.4 -3.4M367.08 202.11l3.4 3.4m-3.4 0l3.4 -3.4M367.14 196.94l3.4 3.4m-3.4 0l3.4 -3.4M367.17 196.13l3.4 3.4m-3.4 0l3.4 -3.4M367.2 205.05l3.4 3.4m-3.4 0l3.4 -3.4M367.23 200.88l3.4 3.4m-3.4 0l3.4 -3.4M367.26 198.74l3.4 3.4m-3.4 0l3.4 -3.4M367.29 199.76l3.4 3.4m-3.4 0l3.4 -3.4M367.34 195.38l3.4 3.4m-3.4 0l3.4 -3.4M367.37 196.94l3.4 3.4m-3.4 0l3.4 -3.4M367.4 203.48l3.4 3.4m-3.4 0l3.4 -3.4M367.43 199.76l3.4 3.4m-3.4 0l3.4 -3.4M367.46 197.81l3.4 3.4m-3.4 0l3.4 -3.4M367.49 206.85l3.4 3.4m-3.4 0l3.4 -3.4M367.52 203.48l3.4 3.4m-3.4 0l3.4 -3.4M367.55 198.74l3.4 3.4m-3.4 0l3.4 -3.4M367.58 200.88l3.4 3.4m-3.4 0l3.4 -3.4M367.61 208.98l3.4 3.4m-3.4 0l3.4 -3.4M367.67 198.74l3.4 3.4m-3.4 0l3.4 -3.4M367.7 200.88l3.4 3.4m-3.4 0l3.4 -3.4M367.72 206.85l3.4 3.4m-3.4 0l3.4 -3.4M367.75 197.81l3.4 3.4m-3.4 0l3.4 -3.4M367.81 208.98l3.4 3.4m-3.4 0l3.4 -3.4M367.84 211.59l3.4 3.4m-3.4 0l3.4 -3.4M367.87 206.85l3.4 3.4m-3.4 0l3.4 -3.4M367.9 202.11l3.4 3.4m-3.4 0l3.4 -3.4M367.93 199.76l3.4 3.4m-3.4 0l3.4 -3.4M367.96 203.48l3.4 3.4m-3.4 0l3.4 -3.4M367.99 206.85l3.4 3.4m-3.4 0l3.4 -3.4M368.07 205.05l3.4 3.4m-3.4 0l3.4 -3.4M368.1 206.85l3.4 3.4m-3.4 0l3.4 -3.4M368.13 211.59l3.4 3.4m-3.4 0l3.4 -3.4M368.16 205.05l3.4 3.4m-3.4 0l3.4 -3.4M368.19 211.59l3.4 3.4m-3.4 0l3.4 -3.4M368.22 197.81l3.4 3.4m-3.4 0l3.4 -3.4M368.25 208.98l3.4 3.4m-3.4 0l3.4 -3.4M368.28 206.85l3.4 3.4m-3.4 0l3.4 -3.4M368.3 203.48l3.4 3.4m-3.4 0l3.4 -3.4M368.33 208.98l3.4 3.4m-3.4 0l3.4 -3.4M368.36 203.48l3.4 3.4m-3.4 0l3.4 -3.4M368.42 211.59l3.4 3.4m-3.4 0l3.4 -3.4M368.45 214.95l3.4 3.4m-3.4 0l3.4 -3.4M368.48 202.11l3.4 3.4m-3.4 0l3.4 -3.4M368.51 203.48l3.4 3.4m-3.4 0l3.4 -3.4M368.56 208.98l3.4 3.4m-3.4 0l3.4 -3.4M368.59 211.59l3.4 3.4m-3.4 0l3.4 -3.4M368.62 200.88l3.4 3.4m-3.4 0l3.4 -3.4M368.65 205.05l3.4 3.4m-3.4 0l3.4 -3.4M368.68 208.98l3.4 3.4m-3.4 0l3.4 -3.4M368.71 211.59l3.4 3.4m-3.4 0l3.4 -3.4M368.76 219.69l3.4 3.4m-3.4 0l3.4 -3.4M368.79 214.95l3.4 3.4m-3.4 0l3.4 -3.4M368.82 206.85l3.4 3.4m-3.4 0l3.4 -3.4M368.85 211.59l3.4 3.4m-3.4 0l3.4 -3.4M368.88 208.98l3.4 3.4m-3.4 0l3.4 -3.4M368.9 214.95l3.4 3.4m-3.4 0l3.4 -3.4M368.93 206.85l3.4 3.4m-3.4 0l3.4 -3.4M368.99 211.59l3.4 3.4m-3.4 0l3.4 -3.4M369.05 208.98l3.4 3.4m-3.4 0l3.4 -3.4M369.07 219.69l3.4 3.4m-3.4 0l3.4 -3.4M369.1 211.59l3.4 3.4m-3.4 0l3.4 -3.4M369.13 206.85l3.4 3.4m-3.4 0l3.4 -3.4M369.16 208.98l3.4 3.4m-3.4 0l3.4 -3.4M369.19 205.05l3.4 3.4m-3.4 0l3.4 -3.4M369.22 206.85l3.4 3.4m-3.4 0l3.4 -3.4M369.24 208.98l3.4 3.4m-3.4 0l3.4 -3.4M369.27 214.95l3.4 3.4m-3.4 0l3.4 -3.4M369.3 211.59l3.4 3.4m-3.4 0l3.4 -3.4M369.38 214.95l3.4 3.4m-3.4 0l3.4 -3.4M369.44 208.98l3.4 3.4m-3.4 0l3.4 -3.4M369.47 205.05l3.4 3.4m-3.4 0l3.4 -3.4M369.5 214.95l3.4 3.4m-3.4 0l3.4 -3.4M369.52 219.69l3.4 3.4m-3.4 0l3.4 -3.4M369.55 206.85l3.4 3.4m-3.4 0l3.4 -3.4M369.58 208.98l3.4 3.4m-3.4 0l3.4 -3.4M369.69 214.95l3.4 3.4m-3.4 0l3.4 -3.4M369.72 211.59l3.4 3.4m-3.4 0l3.4 -3.4M369.75 219.69l3.4 3.4m-3.4 0l3.4 -3.4M369.8 214.95l3.4 3.4m-3.4 0l3.4 -3.4M369.83 219.69l3.4 3.4m-3.4 0l3.4 -3.4M369.86 206.85l3.4 3.4m-3.4 0l3.4 -3.4M369.89 214.95l3.4 3.4m-3.4 0l3.4 -3.4M369.92 206.85l3.4 3.4m-3.4 0l3.4 -3.4M369.94 214.95l3.4 3.4m-3.4 0l3.4 -3.4M370.03 211.59l3.4 3.4m-3.4 0l3.4 -3.4M370.05 205.05l3.4 3.4m-3.4 0l3.4 -3.4M370.08 227.8l3.4 3.4m-3.4 0l3.4 -3.4M370.11 211.59l3.4 3.4m-3.4 0l3.4 -3.4M370.14 206.85l3.4 3.4m-3.4 0l3.4 -3.4M370.16 227.8l3.4 3.4m-3.4 0l3.4 -3.4M370.19 211.59l3.4 3.4m-3.4 0l3.4 -3.4M370.25 208.98l3.4 3.4m-3.4 0l3.4 -3.4M370.27 219.69l3.4 3.4m-3.4 0l3.4 -3.4M370.33 227.8l3.4 3.4m-3.4 0l3.4 -3.4M370.36 219.69l3.4 3.4m-3.4 0l3.4 -3.4M370.38 227.8l3.4 3.4m-3.4 0l3.4 -3.4M370.41 211.59l3.4 3.4m-3.4 0l3.4 -3.4M370.47 206.85l3.4 3.4m-3.4 0l3.4 -3.4M370.49 211.59l3.4 3.4m-3.4 0l3.4 -3.4M370.52 227.8l3.4 3.4m-3.4 0l3.4 -3.4M370.63 202.11l3.4 3.4m-3.4 0l3.4 -3.4M370.66 227.8l3.4 3.4m-3.4 0l3.4 -3.4M370.68 219.69l3.4 3.4m-3.4 0l3.4 -3.4M370.74 227.8l3.4 3.4m-3.4 0l3.4 -3.4M370.79 219.69l3.4 3.4m-3.4 0l3.4 -3.4M370.82 227.8l3.4 3.4m-3.4 0l3.4 -3.4M370.85 205.05l3.4 3.4m-3.4 0l3.4 -3.4M370.88 219.69l3.4 3.4m-3.4 0l3.4 -3.4M370.9 211.59l3.4 3.4m-3.4 0l3.4 -3.4M370.93 219.69l3.4 3.4m-3.4 0l3.4 -3.4M370.96 214.95l3.4 3.4m-3.4 0l3.4 -3.4M371.04 227.8l3.4 3.4m-3.4 0l3.4 -3.4M371.06 219.69l3.4 3.4m-3.4 0l3.4 -3.4M371.12 214.95l3.4 3.4m-3.4 0l3.4 -3.4M371.15 227.8l3.4 3.4m-3.4 0l3.4 -3.4M371.17 214.95l3.4 3.4m-3.4 0l3.4 -3.4M371.2 219.69l3.4 3.4m-3.4 0l3.4 -3.4M371.25 214.95l3.4 3.4m-3.4 0l3.4 -3.4M371.28 219.69l3.4 3.4m-3.4 0l3.4 -3.4M371.33 227.8l3.4 3.4m-3.4 0l3.4 -3.4M371.36 219.69l3.4 3.4m-3.4 0l3.4 -3.4M371.41 227.8l3.4 3.4m-3.4 0l3.4 -3.4M371.44 214.95l3.4 3.4m-3.4 0l3.4 -3.4M371.47 219.69l3.4 3.4m-3.4 0l3.4 -3.4M371.49 227.8l3.4 3.4m-3.4 0l3.4 -3.4M371.63 219.69l3.4 3.4m-3.4 0l3.4 -3.4M371.65 227.8l3.4 3.4m-3.4 0l3.4 -3.4M371.71 214.95l3.4 3.4m-3.4 0l3.4 -3.4M371.73 227.8l3.4 3.4m-3.4 0l3.4 -3.4M371.76 219.69l3.4 3.4m-3.4 0l3.4 -3.4M371.95 227.8l3.4 3.4m-3.4 0l3.4 -3.4M371.97 214.95l3.4 3.4m-3.4 0l3.4 -3.4M372.11 227.8l3.4 3.4m-3.4 0l3.4 -3.4M372.47 214.95l3.4 3.4m-3.4 0l3.4 -3.4M372.53 227.8l3.4 3.4m-3.4 0l3.4 -3.4M372.55 219.69l3.4 3.4m-3.4 0l3.4 -3.4M372.66 227.8l3.4 3.4m-3.4 0l3.4 -3.4M372.68 219.69l3.4 3.4m-3.4 0l3.4 -3.4M372.84 214.95l3.4 3.4m-3.4 0l3.4 -3.4M372.86 227.8l3.4 3.4m-3.4 0l3.4 -3.4M373.02 219.69l3.4 3.4m-3.4 0l3.4 -3.4M373.25 227.8l3.4 3.4m-3.4 0l3.4 -3.4M373.33 219.69l3.4 3.4m-3.4 0l3.4 -3.4M373.35 227.8l3.4 3.4m-3.4 0l3.4 -3.4M373.68 219.69l3.4 3.4m-3.4 0l3.4 -3.4M373.74 227.8l3.4 3.4m-3.4 0l3.4 -3.4M373.76 219.69l3.4 3.4m-3.4 0l3.4 -3.4M373.89 227.8l3.4 3.4m-3.4 0l3.4 -3.4M374.21 219.69l3.4 3.4m-3.4 0l3.4 -3.4M374.27 227.8l3.4 3.4m-3.4 0l3.4 -3.4M374.42 219.69l3.4 3.4m-3.4 0l3.4 -3.4M375.04 227.8l3.4 3.4m-3.4 0l3.4 -3.4M375.79 227.8l3.4 3.4m-3.4 0l3.4 -3.4M376.75 227.8l3.4 3.4m-3.4 0l3.4 -3.4M377.99 227.8l3.4 3.4m-3.4 0l3.4 -3.4" fill="none" stroke="#ff0000" stroke-width="0.75"/>
<g fill="none" stroke="#000" stroke-width="1.1" stroke-linejoin="round" clip-path="url(#cl)"><path d="M53.5 40.9L83.49 48.5L101.03 53.33L113.48 57.27L123.13 59.9L131.02 61.92L137.69 63.69L143.47 65.21L148.57 66.52L153.12 67.69L157.25 68.72L161.01 69.72L164.48 70.72L167.68 71.62L170.67 72.4L173.46 73.1L176.08 73.75L178.56 74.35L180.9 74.91L183.12 75.43L185.23 75.92L187.24 76.38L189.16 76.82L191 77.25L192.77 77.67L194.47 78.08L196.1 78.49L197.67 78.89L199.19 79.28L200.66 79.67L202.08 80.05L203.45 80.42L204.78 80.78L206.07 81.13L207.33 81.47L208.55 81.8L209.73 82.12L210.89 82.43L212.01 82.72L213.11 83.01L214.17 83.28L215.22 83.55L216.23 83.8L217.23 84.05L218.2 84.29L219.15 84.53L220.08 84.75L220.99 84.97L221.89 85.19L222.76 85.4L223.62 85.6L224.46 85.8L225.28 86L226.09 86.19L226.88 86.37L227.66 86.56L228.43 86.73L229.18 86.91L229.92 87.08L230.65 87.24L231.14 87.35L231.63 87.47L232.13 87.58L232.62 87.69L233.11 87.8L233.61 87.91L234.1 88.02L234.59 88.13L235.09 88.24L235.58 88.34L236.07 88.45L236.56 88.56L237.06 88.67L237.55 88.78L238.04 88.88L238.54 88.99L239.03 89.1L239.52 89.21L240.02 89.31L240.51 89.42L241 89.53L241.49 89.64L241.99 89.74L242.48 89.85L242.97 89.96L243.47 90.07L243.96 90.17L244.45 90.28L244.94 90.39L245.44 90.5L245.93 90.61L246.42 90.71L246.92 90.82L247.41 90.93L247.9 91.04L248.4 91.15L248.89 91.26L249.38 91.37L249.87 91.48L250.37 91.59L250.86 91.7L251.35 91.81L251.85 91.92L252.34 92.03L252.83 92.15L253.33 92.26L253.82 92.37L254.31 92.48L254.8 92.6L255.3 92.71L255.79 92.82L256.28 92.94L256.78 93.05L257.27 93.16L257.76 93.28L258.26 93.39L258.75 93.5L259.24 93.62L259.73 93.73L260.23 93.84L260.72 93.95L261.21 94.06L261.71 94.17L262.2 94.28L262.69 94.39L263.19 94.5L263.68 94.61L264.17 94.71L264.66 94.82L265.16 94.92L265.65 95.03L266.14 95.13L266.64 95.23L267.13 95.33L267.62 95.43L268.12 95.53L268.61 95.63L269.1 95.73L269.59 95.83L270.09 95.93L270.58 96.03L271.07 96.12L271.57 96.22L272.06 96.32L272.55 96.42L273.05 96.51L273.54 96.61L274.03 96.71L274.52 96.8L275.02 96.9L275.51 97L276 97.1L276.5 97.19L276.99 97.29L277.48 97.39L277.98 97.49L278.47 97.59L278.96 97.69L279.45 97.79L279.95 97.9L280.44 98L280.93 98.1L281.43 98.21L281.92 98.31L282.41 98.41L282.91 98.52L283.4 98.62L283.89 98.73L284.38 98.84L284.88 98.94L285.37 99.05L285.86 99.16L286.36 99.26L286.85 99.37L287.34 99.48L287.83 99.59L288.33 99.7L288.82 99.81L289.31 99.92L289.81 100.03L290.3 100.14L290.79 100.25L291.29 100.36L291.78 100.47L292.27 100.58L292.76 100.69L293.26 100.8L293.75 100.92L294.24 101.03L294.74 101.14L295.23 101.25L295.72 101.36L296.22 101.48L296.71 101.59L297.2 101.7L297.69 101.81L298.19 101.93L298.68 102.04L299.17 102.16L299.67 102.27L300.16 102.39L300.65 102.5L301.15 102.62L301.64 102.74L302.13 102.86L302.62 102.98L303.12 103.11L303.61 103.23L304.1 103.36L304.6 103.49L305.09 103.62L305.58 103.76L306.08 103.9L306.57 104.03L307.06 104.18L307.55 104.32L308.05 104.47L308.54 104.62L309.03 104.77L309.53 104.93L310.02 105.08L310.51 105.24L311.01 105.41L311.5 105.57L311.99 105.74L312.48 105.91L312.98 106.09L313.47 106.26L313.96 106.44L314.46 106.63L314.95 106.82L315.44 107.01L315.94 107.2L316.43 107.41L316.92 107.61L317.41 107.82L317.91 108.03L318.4 108.25L318.89 108.48L319.39 108.71L319.88 108.95L320.37 109.19L320.87 109.44L321.36 109.69L321.85 109.95L322.34 110.22L322.84 110.49L323.33 110.77L323.82 111.05L324.32 111.34L324.81 111.64L325.3 111.94L325.8 112.25L326.29 112.56L326.78 112.89L327.27 113.22L327.77 113.55L328.26 113.9L328.75 114.25L329.25 114.61L329.74 114.98L330.23 115.37L330.72 115.76L331.22 116.17L331.71 116.59L332.2 117.02L332.7 117.46L333.19 117.92L333.68 118.38L334.18 118.85L334.67 119.33L335.16 119.81L335.65 120.29L336.15 120.77L336.64 121.27L337.13 121.78L337.63 122.3L338.12 122.85L338.61 123.42L339.11 124.02L339.6 124.64L340.09 125.3L340.58 125.98L341.08 126.68L341.57 127.41L342.06 128.16L342.56 128.92L343.05 129.71L343.54 130.5L344.04 131.31L344.53 132.12L345.02 132.93L345.51 133.74L346.01 134.54L346.5 135.34L346.99 136.14L347.49 136.94L347.98 137.76L348.47 138.61L348.97 139.52L349.46 140.49L349.95 141.57L350.44 142.74L350.94 144.01L351.43 145.32L351.92 146.61L352.42 147.84L352.91 148.99L353.4 150.09L353.9 151.15L354.39 152.2L354.88 153.27L355.37 154.39L355.87 155.56L356.36 156.8L356.85 158.11L357.35 159.49L357.84 160.91L358.33 162.39L358.83 163.92L359.32 165.48L359.81 167.08L360.3 168.72L360.8 170.4L361.29 172.12L361.78 173.9L362.28 175.71L362.77 177.56L363.26 179.43L363.76 181.3L364.25 183.16L364.74 184.99L365.23 186.81L365.73 188.63L366.22 190.47L366.71 192.35L367.21 194.29L367.7 196.34L368.19 198.51L368.69 200.82L369.18 203.28L369.67 205.85L370.16 208.52L370.66 211.28L371.15 214.08L371.64 216.94L372.14 219.89L372.63 222.91L373.12 225.96L373.61 228.97L374.11 231.92L374.6 234.84" transform="translate(0 -0.25)"/><path d="M53.5 40.9L83.49 48.5L101.03 53.33L113.48 57.27L123.13 59.9L131.02 61.92L137.69 63.69L143.47 65.21L148.57 66.52L153.12 67.69L157.25 68.72L161.01 69.72L164.48 70.72L167.68 71.62L170.67 72.4L173.46 73.1L176.08 73.75L178.56 74.35L180.9 74.91L183.12 75.43L185.23 75.92L187.24 76.38L189.16 76.82L191 77.25L192.77 77.67L194.47 78.08L196.1 78.49L197.67 78.89L199.19 79.28L200.66 79.67L202.08 80.05L203.45 80.42L204.78 80.78L206.07 81.13L207.33 81.47L208.55 81.8L209.73 82.12L210.89 82.43L212.01 82.72L213.11 83.01L214.17 83.28L215.22 83.55L216.23 83.8L217.23 84.05L218.2 84.29L219.15 84.53L220.08 84.75L220.99 84.97L221.89 85.19L222.76 85.4L223.62 85.6L224.46 85.8L225.28 86L226.09 86.19L226.88 86.37L227.66 86.56L228.43 86.73L229.18 86.91L229.92 87.08L230.65 87.24L231.14 87.35L231.63 87.47L232.13 87.58L232.62 87.69L233.11 87.8L233.61 87.91L234.1 88.02L234.59 88.13L235.09 88.24L235.58 88.34L236.07 88.45L236.56 88.56L237.06 88.67L237.55 88.78L238.04 88.88L238.54 88.99L239.03 89.1L239.52 89.21L240.02 89.31L240.51 89.42L241 89.53L241.49 89.64L241.99 89.74L242.48 89.85L242.97 89.96L243.47 90.07L243.96 90.17L244.45 90.28L244.94 90.39L245.44 90.5L245.93 90.61L246.42 90.71L246.92 90.82L247.41 90.93L247.9 91.04L248.4 91.15L248.89 91.26L249.38 91.37L249.87 91.48L250.37 91.59L250.86 91.7L251.35 91.81L251.85 91.92L252.34 92.03L252.83 92.15L253.33 92.26L253.82 92.37L254.31 92.48L254.8 92.6L255.3 92.71L255.79 92.82L256.28 92.94L256.78 93.05L257.27 93.16L257.76 93.28L258.26 93.39L258.75 93.5L259.24 93.62L259.73 93.73L260.23 93.84L260.72 93.95L261.21 94.06L261.71 94.17L262.2 94.28L262.69 94.39L263.19 94.5L263.68 94.61L264.17 94.71L264.66 94.82L265.16 94.92L265.65 95.03L266.14 95.13L266.64 95.23L267.13 95.33L267.62 95.43L268.12 95.53L268.61 95.63L269.1 95.73L269.59 95.83L270.09 95.93L270.58 96.03L271.07 96.12L271.57 96.22L272.06 96.32L272.55 96.42L273.05 96.51L273.54 96.61L274.03 96.71L274.52 96.8L275.02 96.9L275.51 97L276 97.1L276.5 97.19L276.99 97.29L277.48 97.39L277.98 97.49L278.47 97.59L278.96 97.69L279.45 97.79L279.95 97.9L280.44 98L280.93 98.1L281.43 98.21L281.92 98.31L282.41 98.41L282.91 98.52L283.4 98.62L283.89 98.73L284.38 98.84L284.88 98.94L285.37 99.05L285.86 99.16L286.36 99.26L286.85 99.37L287.34 99.48L287.83 99.59L288.33 99.7L288.82 99.81L289.31 99.92L289.81 100.03L290.3 100.14L290.79 100.25L291.29 100.36L291.78 100.47L292.27 100.58L292.76 100.69L293.26 100.8L293.75 100.92L294.24 101.03L294.74 101.14L295.23 101.25L295.72 101.36L296.22 101.48L296.71 101.59L297.2 101.7L297.69 101.81L298.19 101.93L298.68 102.04L299.17 102.16L299.67 102.27L300.16 102.39L300.65 102.5L301.15 102.62L301.64 102.74L302.13 102.86L302.62 102.98L303.12 103.11L303.61 103.23L304.1 103.36L304.6 103.49L305.09 103.62L305.58 103.76L306.08 103.9L306.57 104.03L307.06 104.18L307.55 104.32L308.05 104.47L308.54 104.62L309.03 104.77L309.53 104.93L310.02 105.08L310.51 105.24L311.01 105.41L311.5 105.57L311.99 105.74L312.48 105.91L312.98 106.09L313.47 106.26L313.96 106.44L314.46 106.63L314.95 106.82L315.44 107.01L315.94 107.2L316.43 107.41L316.92 107.61L317.41 107.82L317.91 108.03L318.4 108.25L318.89 108.48L319.39 108.71L319.88 108.95L320.37 109.19L320.87 109.44L321.36 109.69L321.85 109.95L322.34 110.22L322.84 110.49L323.33 110.77L323.82 111.05L324.32 111.34L324.81 111.64L325.3 111.94L325.8 112.25L326.29 112.56L326.78 112.89L327.27 113.22L327.77 113.55L328.26 113.9L328.75 114.25L329.25 114.61L329.74 114.98L330.23 115.37L330.72 115.76L331.22 116.17L331.71 116.59L332.2 117.02L332.7 117.46L333.19 117.92L333.68 118.38L334.18 118.85L334.67 119.33L335.16 119.81L335.65 120.29L336.15 120.77L336.64 121.27L337.13 121.78L337.63 122.3L338.12 122.85L338.61 123.42L339.11 124.02L339.6 124.64L340.09 125.3L340.58 125.98L341.08 126.68L341.57 127.41L342.06 128.16L342.56 128.92L343.05 129.71L343.54 130.5L344.04 131.31L344.53 132.12L345.02 132.93L345.51 133.74L346.01 134.54L346.5 135.34L346.99 136.14L347.49 136.94L347.98 137.76L348.47 138.61L348.97 139.52L349.46 140.49L349.95 141.57L350.44 142.74L350.94 144.01L351.43 145.32L351.92 146.61L352.42 147.84L352.91 148.99L353.4 150.09L353.9 151.15L354.39 152.2L354.88 153.27L355.37 154.39L355.87 155.56L356.36 156.8L356.85 158.11L357.35 159.49L357.84 160.91L358.33 162.39L358.83 163.92L359.32 165.48L359.81 167.08L360.3 168.72L360.8 170.4L361.29 172.12L361.78 173.9L362.28 175.71L362.77 177.56L363.26 179.43L363.76 181.3L364.25 183.16L364.74 184.99L365.23 186.81L365.73 188.63L366.22 190.47L366.71 192.35L367.21 194.29L367.7 196.34L368.19 198.51L368.69 200.82L369.18 203.28L369.67 205.85L370.16 208.52L370.66 211.28L371.15 214.08L371.64 216.94L372.14 219.89L372.63 222.91L373.12 225.96L373.61 228.97L374.11 231.92L374.6 234.84" transform="translate(0 0.25)"/></g>
<path d="M51.6 40.9a1.9 1.9 0 1 0 3.8 0a1.9 1.9 0 1 0 -3.8 0zM81.59 48.5a1.9 1.9 0 1 0 3.8 0a1.9 1.9 0 1 0 -3.8 0zM99.13 53.23a1.9 1.9 0 1 0 3.8 0a1.9 1.9 0 1 0 -3.8 0zM111.58 56.87a1.9 1.9 0 1 0 3.8 0a1.9 1.9 0 1 0 -3.8 0zM121.23 59.11a1.9 1.9 0 1 0 3.8 0a1.9 1.9 0 1 0 -3.8 0zM129.12 60.79a1.9 1.9 0 1 0 3.8 0a1.9 1.9 0 1 0 -3.8 0zM135.79 62.11a1.9 1.9 0 1 0 3.8 0a1.9 1.9 0 1 0 -3.8 0zM141.57 63.28a1.9 1.9 0 1 0 3.8 0a1.9 1.9 0 1 0 -3.8 0zM146.67 64.2a1.9 1.9 0 1 0 3.8 0a1.9 1.9 0 1 0 -3.8 0zM151.22 64.9a1.9 1.9 0 1 0 3.8 0a1.9 1.9 0 1 0 -3.8 0zM155.35 65.49a1.9 1.9 0 1 0 3.8 0a1.9 1.9 0 1 0 -3.8 0zM159.11 66.17a1.9 1.9 0 1 0 3.8 0a1.9 1.9 0 1 0 -3.8 0zM162.58 66.85a1.9 1.9 0 1 0 3.8 0a1.9 1.9 0 1 0 -3.8 0zM165.78 67.39a1.9 1.9 0 1 0 3.8 0a1.9 1.9 0 1 0 -3.8 0zM168.77 67.81a1.9 1.9 0 1 0 3.8 0a1.9 1.9 0 1 0 -3.8 0zM171.56 68.14a1.9 1.9 0 1 0 3.8 0a1.9 1.9 0 1 0 -3.8 0zM174.18 68.43a1.9 1.9 0 1 0 3.8 0a1.9 1.9 0 1 0 -3.8 0zM176.66 68.67a1.9 1.9 0 1 0 3.8 0a1.9 1.9 0 1 0 -3.8 0zM179 68.88a1.9 1.9 0 1 0 3.8 0a1.9 1.9 0 1 0 -3.8 0zM181.22 69.06a1.9 1.9 0 1 0 3.8 0a1.9 1.9 0 1 0 -3.8 0zM183.33 69.21a1.9 1.9 0 1 0 3.8 0a1.9 1.9 0 1 0 -3.8 0zM185.34 69.35a1.9 1.9 0 1 0 3.8 0a1.9 1.9 0 1 0 -3.8 0zM187.26 69.5a1.9 1.9 0 1 0 3.8 0a1.9 1.9 0 1 0 -3.8 0zM189.1 69.6a1.9 1.9 0 1 0 3.8 0a1.9 1.9 0 1 0 -3.8 0zM190.87 69.72a1.9 1.9 0 1 0 3.8 0a1.9 1.9 0 1 0 -3.8 0zM192.57 69.84a1.9 1.9 0 1 0 3.8 0a1.9 1.9 0 1 0 -3.8 0zM194.2 69.89a1.9 1.9 0 1 0 3.8 0a1.9 1.9 0 1 0 -3.8 0zM195.77 69.97a1.9 1.9 0 1 0 3.8 0a1.9 1.9 0 1 0 -3.8 0zM197.29 70.03a1.9 1.9 0 1 0 3.8 0a1.9 1.9 0 1 0 -3.8 0zM198.76 70.1a1.9 1.9 0 1 0 3.8 0a1.9 1.9 0 1 0 -3.8 0zM200.18 70.15a1.9 1.9 0 1 0 3.8 0a1.9 1.9 0 1 0 -3.8 0zM201.55 70.17a1.9 1.9 0 1 0 3.8 0a1.9 1.9 0 1 0 -3.8 0zM202.88 70.23a1.9 1.9 0 1 0 3.8 0a1.9 1.9 0 1 0 -3.8 0zM204.17 70.29a1.9 1.9 0 1 0 3.8 0a1.9 1.9 0 1 0 -3.8 0zM205.43 70.33a1.9 1.9 0 1 0 3.8 0a1.9 1.9 0 1 0 -3.8 0zM206.65 70.36a1.9 1.9 0 1 0 3.8 0a1.9 1.9 0 1 0 -3.8 0zM207.83 70.4a1.9 1.9 0 1 0 3.8 0a1.9 1.9 0 1 0 -3.8 0zM208.99 70.41a1.9 1.9 0 1 0 3.8 0a1.9 1.9 0 1 0 -3.8 0zM210.11 70.43a1.9 1.9 0 1 0 3.8 0a1.9 1.9 0 1 0 -3.8 0zM211.21 70.49a1.9 1.9 0 1 0 3.8 0a1.9 1.9 0 1 0 -3.8 0zM212.27 70.48a1.9 1.9 0 1 0 3.8 0a1.9 1.9 0 1 0 -3.8 0zM213.32 70.51a1.9 1.9 0 1 0 3.8 0a1.9 1.9 0 1 0 -3.8 0zM214.33 70.53a1.9 1.9 0 1 0 3.8 0a1.9 1.9 0 1 0 -3.8 0zM215.33 70.53a1.9 1.9 0 1 0 3.8 0a1.9 1.9 0 1 0 -3.8 0zM216.3 70.57a1.9 1.9 0 1 0 3.8 0a1.9 1.9 0 1 0 -3.8 0zM217.25 70.58a1.9 1.9 0 1 0 3.8 0a1.9 1.9 0 1 0 -3.8 0zM218.18 70.59a1.9 1.9 0 1 0 3.8 0a1.9 1.9 0 1 0 -3.8 0zM219.09 70.61a1.9 1.9 0 1 0 3.8 0a1.9 1.9 0 1 0 -3.8 0zM219.99 70.63a1.9 1.9 0 1 0 3.8 0a1.9 1.9 0 1 0 -3.8 0zM220.86 70.63a1.9 1.9 0 1 0 3.8 0a1.9 1.9 0 1 0 -3.8 0zM221.72 70.67a1.9 1.9 0 1 0 3.8 0a1.9 1.9 0 1 0 -3.8 0zM222.56 70.65a1.9 1.9 0 1 0 3.8 0a1.9 1.9 0 1 0 -3.8 0zM223.38 70.67a1.9 1.9 0 1 0 3.8 0a1.9 1.9 0 1 0 -3.8 0zM224.19 70.71a1.9 1.9 0 1 0 3.8 0a1.9 1.9 0 1 0 -3.8 0zM224.98 70.72a1.9 1.9 0 1 0 3.8 0a1.9 1.9 0 1 0 -3.8 0zM225.76 70.76a1.9 1.9 0 1 0 3.8 0a1.9 1.9 0 1 0 -3.8 0zM226.53 70.77a1.9 1.9 0 1 0 3.8 0a1.9 1.9 0 1 0 -3.8 0zM227.28 70.8a1.9 1.9 0 1 0 3.8 0a1.9 1.9 0 1 0 -3.8 0zM228.02 70.82a1.9 1.9 0 1 0 3.8 0a1.9 1.9 0 1 0 -3.8 0zM229.46 70.85a1.9 1.9 0 1 0 3.8 0a1.9 1.9 0 1 0 -3.8 0zM230.86 70.93a1.9 1.9 0 1 0 3.8 0a1.9 1.9 0 1 0 -3.8 0zM232.21 70.97a1.9 1.9 0 1 0 3.8 0a1.9 1.9 0 1 0 -3.8 0zM233.52 71a1.9 1.9 0 1 0 3.8 0a1.9 1.9 0 1 0 -3.8 0zM234.8 71.07a1.9 1.9 0 1 0 3.8 0a1.9 1.9 0 1 0 -3.8 0zM236.03 71.14a1.9 1.9 0 1 0 3.8 0a1.9 1.9 0 1 0 -3.8 0zM237.23 71.23a1.9 1.9 0 1 0 3.8 0a1.9 1.9 0 1 0 -3.8 0zM238.4 71.26a1.9 1.9 0 1 0 3.8 0a1.9 1.9 0 1 0 -3.8 0zM239.54 71.36a1.9 1.9 0 1 0 3.8 0a1.9 1.9 0 1 0 -3.8 0zM240.65 71.43a1.9 1.9 0 1 0 3.8 0a1.9 1.9 0 1 0 -3.8 0zM241.73 71.5a1.9 1.9 0 1 0 3.8 0a1.9 1.9 0 1 0 -3.8 0zM242.79 71.6a1.9 1.9 0 1 0 3.8 0a1.9 1.9 0 1 0 -3.8 0zM243.82 71.72a1.9 1.9 0 1 0 3.8 0a1.9 1.9 0 1 0 -3.8 0zM244.82 71.8a1.9 1.9 0 1 0 3.8 0a1.9 1.9 0 1 0 -3.8 0zM245.81 71.94a1.9 1.9 0 1 0 3.8 0a1.9 1.9 0 1 0 -3.8 0zM246.77 72.05a1.9 1.9 0 1 0 3.8 0a1.9 1.9 0 1 0 -3.8 0zM247.71 72.18a1.9 1.9 0 1 0 3.8 0a1.9 1.9 0 1 0 -3.8 0zM248.63 72.31a1.9 1.9 0 1 0 3.8 0a1.9 1.9 0 1 0 -3.8 0zM249.53 72.43a1.9 1.9 0 1 0 3.8 0a1.9 1.9 0 1 0 -3.8 0zM250.42 72.57a1.9 1.9 0 1 0 3.8 0a1.9 1.9 0 1 0 -3.8 0zM251.28 72.7a1.9 1.9 0 1 0 3.8 0a1.9 1.9 0 1 0 -3.8 0zM252.13 72.81a1.9 1.9 0 1 0 3.8 0a1.9 1.9 0 1 0 -3.8 0zM252.96 72.95a1.9 1.9 0 1 0 3.8 0a1.9 1.9 0 1 0 -3.8 0zM253.78 73.08a1.9 1.9 0 1 0 3.8 0a1.9 1.9 0 1 0 -3.8 0zM254.58 73.2a1.9 1.9 0 1 0 3.8 0a1.9 1.9 0 1 0 -3.8 0zM255.37 73.36a1.9 1.9 0 1 0 3.8 0a1.9 1.9 0 1 0 -3.8 0zM256.14 73.5a1.9 1.9 0 1 0 3.8 0a1.9 1.9 0 1 0 -3.8 0zM256.9 73.67a1.9 1.9 0 1 0 3.8 0a1.9 1.9 0 1 0 -3.8 0zM257.64 73.84a1.9 1.9 0 1 0 3.8 0a1.9 1.9 0 1 0 -3.8 0zM258.38 74.07a1.9 1.9 0 1 0 3.8 0a1.9 1.9 0 1 0 -3.8 0zM259.1 74.24a1.9 1.9 0 1 0 3.8 0a1.9 1.9 0 1 0 -3.8 0zM259.81 74.46a1.9 1.9 0 1 0 3.8 0a1.9 1.9 0 1 0 -3.8 0zM260.5 74.71a1.9 1.9 0 1 0 3.8 0a1.9 1.9 0 1 0 -3.8 0zM261.19 74.94a1.9 1.9 0 1 0 3.8 0a1.9 1.9 0 1 0 -3.8 0zM261.87 75.2a1.9 1.9 0 1 0 3.8 0a1.9 1.9 0 1 0 -3.8 0zM262.53 75.46a1.9 1.9 0 1 0 3.8 0a1.9 1.9 0 1 0 -3.8 0zM263.19 75.72a1.9 1.9 0 1 0 3.8 0a1.9 1.9 0 1 0 -3.8 0zM263.83 75.97a1.9 1.9 0 1 0 3.8 0a1.9 1.9 0 1 0 -3.8 0zM264.47 76.26a1.9 1.9 0 1 0 3.8 0a1.9 1.9 0 1 0 -3.8 0zM265.1 76.57a1.9 1.9 0 1 0 3.8 0a1.9 1.9 0 1 0 -3.8 0zM265.72 76.88a1.9 1.9 0 1 0 3.8 0a1.9 1.9 0 1 0 -3.8 0zM266.33 77.14a1.9 1.9 0 1 0 3.8 0a1.9 1.9 0 1 0 -3.8 0zM266.93 77.48a1.9 1.9 0 1 0 3.8 0a1.9 1.9 0 1 0 -3.8 0zM267.52 77.79a1.9 1.9 0 1 0 3.8 0a1.9 1.9 0 1 0 -3.8 0zM268.1 78.13a1.9 1.9 0 1 0 3.8 0a1.9 1.9 0 1 0 -3.8 0zM268.68 78.48a1.9 1.9 0 1 0 3.8 0a1.9 1.9 0 1 0 -3.8 0zM269.25 78.84a1.9 1.9 0 1 0 3.8 0a1.9 1.9 0 1 0 -3.8 0zM269.81 79.21a1.9 1.9 0 1 0 3.8 0a1.9 1.9 0 1 0 -3.8 0zM270.37 79.64a1.9 1.9 0 1 0 3.8 0a1.9 1.9 0 1 0 -3.8 0zM270.91 79.97a1.9 1.9 0 1 0 3.8 0a1.9 1.9 0 1 0 -3.8 0zM271.46 80.42a1.9 1.9 0 1 0 3.8 0a1.9 1.9 0 1 0 -3.8 0zM271.99 80.83a1.9 1.9 0 1 0 3.8 0a1.9 1.9 0 1 0 -3.8 0zM272.52 81.3a1.9 1.9 0 1 0 3.8 0a1.9 1.9 0 1 0 -3.8 0zM273.04 81.78a1.9 1.9 0 1 0 3.8 0a1.9 1.9 0 1 0 -3.8 0zM273.55 82.29a1.9 1.9 0 1 0 3.8 0a1.9 1.9 0 1 0 -3.8 0zM274.06 82.76a1.9 1.9 0 1 0 3.8 0a1.9 1.9 0 1 0 -3.8 0zM274.57 83.37a1.9 1.9 0 1 0 3.8 0a1.9 1.9 0 1 0 -3.8 0zM275.06 83.89a1.9 1.9 0 1 0 3.8 0a1.9 1.9 0 1 0 -3.8 0zM275.55 84.46a1.9 1.9 0 1 0 3.8 0a1.9 1.9 0 1 0 -3.8 0zM276.04 85.05a1.9 1.9 0 1 0 3.8 0a1.9 1.9 0 1 0 -3.8 0zM276.52 85.69a1.9 1.9 0 1 0 3.8 0a1.9 1.9 0 1 0 -3.8 0zM277 86.27a1.9 1.9 0 1 0 3.8 0a1.9 1.9 0 1 0 -3.8 0zM277.47 86.91a1.9 1.9 0 1 0 3.8 0a1.9 1.9 0 1 0 -3.8 0zM277.93 87.66a1.9 1.9 0 1 0 3.8 0a1.9 1.9 0 1 0 -3.8 0zM278.39 88.31a1.9 1.9 0 1 0 3.8 0a1.9 1.9 0 1 0 -3.8 0zM278.85 89.04a1.9 1.9 0 1 0 3.8 0a1.9 1.9 0 1 0 -3.8 0zM279.3 89.76a1.9 1.9 0 1 0 3.8 0a1.9 1.9 0 1 0 -3.8 0zM279.74 90.55a1.9 1.9 0 1 0 3.8 0a1.9 1.9 0 1 0 -3.8 0zM280.19 91.33a1.9 1.9 0 1 0 3.8 0a1.9 1.9 0 1 0 -3.8 0zM280.62 92.07a1.9 1.9 0 1 0 3.8 0a1.9 1.9 0 1 0 -3.8 0zM281.06 92.91a1.9 1.9 0 1 0 3.8 0a1.9 1.9 0 1 0 -3.8 0zM281.48 93.72a1.9 1.9 0 1 0 3.8 0a1.9 1.9 0 1 0 -3.8 0zM281.91 94.6a1.9 1.9 0 1 0 3.8 0a1.9 1.9 0 1 0 -3.8 0zM282.33 95.44a1.9 1.9 0 1 0 3.8 0a1.9 1.9 0 1 0 -3.8 0zM282.74 96.34a1.9 1.9 0 1 0 3.8 0a1.9 1.9 0 1 0 -3.8 0zM283.16 97.17a1.9 1.9 0 1 0 3.8 0a1.9 1.9 0 1 0 -3.8 0zM283.56 98.12a1.9 1.9 0 1 0 3.8 0a1.9 1.9 0 1 0 -3.8 0zM283.97 98.95a1.9 1.9 0 1 0 3.8 0a1.9 1.9 0 1 0 -3.8 0zM284.37 99.83a1.9 1.9 0 1 0 3.8 0a1.9 1.9 0 1 0 -3.8 0zM284.77 100.67a1.9 1.9 0 1 0 3.8 0a1.9 1.9 0 1 0 -3.8 0zM285.16 101.6a1.9 1.9 0 1 0 3.8 0a1.9 1.9 0 1 0 -3.8 0zM285.55 102.29a1.9 1.9 0 1 0 3.8 0a1.9 1.9 0 1 0 -3.8 0zM285.94 103.08a1.9 1.9 0 1 0 3.8 0a1.9 1.9 0 1 0 -3.8 0zM286.32 103.94a1.9 1.9 0 1 0 3.8 0a1.9 1.9 0 1 0 -3.8 0zM286.7 104.68a1.9 1.9 0 1 0 3.8 0a1.9 1.9 0 1 0 -3.8 0zM287.07 105.44a1.9 1.9 0 1 0 3.8 0a1.9 1.9 0 1 0 -3.8 0zM287.45 106.24a1.9 1.9 0 1 0 3.8 0a1.9 1.9 0 1 0 -3.8 0zM287.82 106.87a1.9 1.9 0 1 0 3.8 0a1.9 1.9 0 1 0 -3.8 0zM288.18 107.82a1.9 1.9 0 1 0 3.8 0a1.9 1.9 0 1 0 -3.8 0zM288.55 108.79a1.9 1.9 0 1 0 3.8 0a1.9 1.9 0 1 0 -3.8 0zM288.91 109.53a1.9 1.9 0 1 0 3.8 0a1.9 1.9 0 1 0 -3.8 0zM289.27 110.56a1.9 1.9 0 1 0 3.8 0a1.9 1.9 0 1 0 -3.8 0zM289.62 111.35a1.9 1.9 0 1 0 3.8 0a1.9 1.9 0 1 0 -3.8 0zM289.8 112.14a1.9 1.9 0 1 0 3.8 0a1.9 1.9 0 1 0 -3.8 0zM289.97 112.77a1.9 1.9 0 1 0 3.8 0a1.9 1.9 0 1 0 -3.8 0zM290.32 113.8a1.9 1.9 0 1 0 3.8 0a1.9 1.9 0 1 0 -3.8 0zM290.49 114.57a1.9 1.9 0 1 0 3.8 0a1.9 1.9 0 1 0 -3.8 0zM290.84 115.69a1.9 1.9 0 1 0 3.8 0a1.9 1.9 0 1 0 -3.8 0zM291.01 116.42a1.9 1.9 0 1 0 3.8 0a1.9 1.9 0 1 0 -3.8 0zM291.18 117.22a1.9 1.9 0 1 0 3.8 0a1.9 1.9 0 1 0 -3.8 0zM291.52 118.61a1.9 1.9 0 1 0 3.8 0a1.9 1.9 0 1 0 -3.8 0zM291.86 119.92a1.9 1.9 0 1 0 3.8 0a1.9 1.9 0 1 0 -3.8 0zM292.02 120.83a1.9 1.9 0 1 0 3.8 0a1.9 1.9 0 1 0 -3.8 0zM292.36 121.88a1.9 1.9 0 1 0 3.8 0a1.9 1.9 0 1 0 -3.8 0zM292.52 122.78a1.9 1.9 0 1 0 3.8 0a1.9 1.9 0 1 0 -3.8 0zM292.85 124.12a1.9 1.9 0 1 0 3.8 0a1.9 1.9 0 1 0 -3.8 0zM293.18 125.43a1.9 1.9 0 1 0 3.8 0a1.9 1.9 0 1 0 -3.8 0zM293.5 126.61a1.9 1.9 0 1 0 3.8 0a1.9 1.9 0 1 0 -3.8 0zM293.66 127.2a1.9 1.9 0 1 0 3.8 0a1.9 1.9 0 1 0 -3.8 0zM293.98 128.42a1.9 1.9 0 1 0 3.8 0a1.9 1.9 0 1 0 -3.8 0zM294.14 129.21a1.9 1.9 0 1 0 3.8 0a1.9 1.9 0 1 0 -3.8 0zM294.46 130.27a1.9 1.9 0 1 0 3.8 0a1.9 1.9 0 1 0 -3.8 0zM294.62 131.34a1.9 1.9 0 1 0 3.8 0a1.9 1.9 0 1 0 -3.8 0zM294.93 132.14a1.9 1.9 0 1 0 3.8 0a1.9 1.9 0 1 0 -3.8 0zM295.09 132.98a1.9 1.9 0 1 0 3.8 0a1.9 1.9 0 1 0 -3.8 0zM295.24 133.71a1.9 1.9 0 1 0 3.8 0a1.9 1.9 0 1 0 -3.8 0zM295.55 134.81a1.9 1.9 0 1 0 3.8 0a1.9 1.9 0 1 0 -3.8 0zM295.71 135.7a1.9 1.9 0 1 0 3.8 0a1.9 1.9 0 1 0 -3.8 0zM296.01 136.79a1.9 1.9 0 1 0 3.8 0a1.9 1.9 0 1 0 -3.8 0zM296.16 137.57a1.9 1.9 0 1 0 3.8 0a1.9 1.9 0 1 0 -3.8 0zM296.47 139.11a1.9 1.9 0 1 0 3.8 0a1.9 1.9 0 1 0 -3.8 0zM296.77 139.71a1.9 1.9 0 1 0 3.8 0a1.9 1.9 0 1 0 -3.8 0zM297.07 141.12a1.9 1.9 0 1 0 3.8 0a1.9 1.9 0 1 0 -3.8 0zM297.36 142.55a1.9 1.9 0 1 0 3.8 0a1.9 1.9 0 1 0 -3.8 0zM297.66 144.12a1.9 1.9 0 1 0 3.8 0a1.9 1.9 0 1 0 -3.8 0zM297.95 145.4a1.9 1.9 0 1 0 3.8 0a1.9 1.9 0 1 0 -3.8 0zM298.24 146.36a1.9 1.9 0 1 0 3.8 0a1.9 1.9 0 1 0 -3.8 0zM298.38 147.19a1.9 1.9 0 1 0 3.8 0a1.9 1.9 0 1 0 -3.8 0zM298.53 148.8a1.9 1.9 0 1 0 3.8 0a1.9 1.9 0 1 0 -3.8 0zM298.67 147.4a1.9 1.9 0 1 0 3.8 0a1.9 1.9 0 1 0 -3.8 0zM298.81 148.85a1.9 1.9 0 1 0 3.8 0a1.9 1.9 0 1 0 -3.8 0zM299.1 149.97a1.9 1.9 0 1 0 3.8 0a1.9 1.9 0 1 0 -3.8 0zM299.24 150.85a1.9 1.9 0 1 0 3.8 0a1.9 1.9 0 1 0 -3.8 0zM299.38 151.74a1.9 1.9 0 1 0 3.8 0a1.9 1.9 0 1 0 -3.8 0zM299.52 150.99a1.9 1.9 0 1 0 3.8 0a1.9 1.9 0 1 0 -3.8 0zM299.66 152.8a1.9 1.9 0 1 0 3.8 0a1.9 1.9 0 1 0 -3.8 0zM299.94 154.11a1.9 1.9 0 1 0 3.8 0a1.9 1.9 0 1 0 -3.8 0zM300.08 154.74a1.9 1.9 0 1 0 3.8 0a1.9 1.9 0 1 0 -3.8 0zM300.36 156.15a1.9 1.9 0 1 0 3.8 0a1.9 1.9 0 1 0 -3.8 0zM300.63 156.76a1.9 1.9 0 1 0 3.8 0a1.9 1.9 0 1 0 -3.8 0zM300.77 158.19a1.9 1.9 0 1 0 3.8 0a1.9 1.9 0 1 0 -3.8 0zM301.04 159.74a1.9 1.9 0 1 0 3.8 0a1.9 1.9 0 1 0 -3.8 0zM301.18 160.61a1.9 1.9 0 1 0 3.8 0a1.9 1.9 0 1 0 -3.8 0zM301.31 161.31a1.9 1.9 0 1 0 3.8 0a1.9 1.9 0 1 0 -3.8 0zM301.58 162.53a1.9 1.9 0 1 0 3.8 0a1.9 1.9 0 1 0 -3.8 0zM301.85 163.74a1.9 1.9 0 1 0 3.8 0a1.9 1.9 0 1 0 -3.8 0zM302.11 165.41a1.9 1.9 0 1 0 3.8 0a1.9 1.9 0 1 0 -3.8 0zM302.38 167.2a1.9 1.9 0 1 0 3.8 0a1.9 1.9 0 1 0 -3.8 0zM302.64 167.9a1.9 1.9 0 1 0 3.8 0a1.9 1.9 0 1 0 -3.8 0zM302.77 169.65a1.9 1.9 0 1 0 3.8 0a1.9 1.9 0 1 0 -3.8 0zM302.9 170.53a1.9 1.9 0 1 0 3.8 0a1.9 1.9 0 1 0 -3.8 0zM303.16 174.32a1.9 1.9 0 1 0 3.8 0a1.9 1.9 0 1 0 -3.8 0zM303.29 173.23a1.9 1.9 0 1 0 3.8 0a1.9 1.9 0 1 0 -3.8 0zM303.42 175.3a1.9 1.9 0 1 0 3.8 0a1.9 1.9 0 1 0 -3.8 0zM303.54 174.64a1.9 1.9 0 1 0 3.8 0a1.9 1.9 0 1 0 -3.8 0zM303.67 173.91a1.9 1.9 0 1 0 3.8 0a1.9 1.9 0 1 0 -3.8 0zM303.8 175.08a1.9 1.9 0 1 0 3.8 0a1.9 1.9 0 1 0 -3.8 0zM303.93 175.89a1.9 1.9 0 1 0 3.8 0a1.9 1.9 0 1 0 -3.8 0zM304.05 177.83a1.9 1.9 0 1 0 3.8 0a1.9 1.9 0 1 0 -3.8 0zM304.18 180.87a1.9 1.9 0 1 0 3.8 0a1.9 1.9 0 1 0 -3.8 0zM304.43 178.86a1.9 1.9 0 1 0 3.8 0a1.9 1.9 0 1 0 -3.8 0zM304.56 180.69a1.9 1.9 0 1 0 3.8 0a1.9 1.9 0 1 0 -3.8 0zM304.8 184.23a1.9 1.9 0 1 0 3.8 0a1.9 1.9 0 1 0 -3.8 0zM305.18 190.54a1.9 1.9 0 1 0 3.8 0a1.9 1.9 0 1 0 -3.8 0zM305.3 188.61a1.9 1.9 0 1 0 3.8 0a1.9 1.9 0 1 0 -3.8 0zM305.42 185.79a1.9 1.9 0 1 0 3.8 0a1.9 1.9 0 1 0 -3.8 0zM305.54 189.73a1.9 1.9 0 1 0 3.8 0a1.9 1.9 0 1 0 -3.8 0zM305.79 190.96a1.9 1.9 0 1 0 3.8 0a1.9 1.9 0 1 0 -3.8 0zM305.91 193.36a1.9 1.9 0 1 0 3.8 0a1.9 1.9 0 1 0 -3.8 0zM306.03 195.7a1.9 1.9 0 1 0 3.8 0a1.9 1.9 0 1 0 -3.8 0zM306.15 190.96a1.9 1.9 0 1 0 3.8 0a1.9 1.9 0 1 0 -3.8 0zM306.27 193.9a1.9 1.9 0 1 0 3.8 0a1.9 1.9 0 1 0 -3.8 0zM306.39 195.7a1.9 1.9 0 1 0 3.8 0a1.9 1.9 0 1 0 -3.8 0zM306.51 205.18a1.9 1.9 0 1 0 3.8 0a1.9 1.9 0 1 0 -3.8 0zM306.63 200.44a1.9 1.9 0 1 0 3.8 0a1.9 1.9 0 1 0 -3.8 0zM306.75 197.08a1.9 1.9 0 1 0 3.8 0a1.9 1.9 0 1 0 -3.8 0zM306.87 206.75a1.9 1.9 0 1 0 3.8 0a1.9 1.9 0 1 0 -3.8 0zM306.99 202.57a1.9 1.9 0 1 0 3.8 0a1.9 1.9 0 1 0 -3.8 0zM307.1 210.68a1.9 1.9 0 1 0 3.8 0a1.9 1.9 0 1 0 -3.8 0zM307.22 203.81a1.9 1.9 0 1 0 3.8 0a1.9 1.9 0 1 0 -3.8 0zM307.34 213.29a1.9 1.9 0 1 0 3.8 0a1.9 1.9 0 1 0 -3.8 0zM307.46 206.75a1.9 1.9 0 1 0 3.8 0a1.9 1.9 0 1 0 -3.8 0zM307.57 221.39a1.9 1.9 0 1 0 3.8 0a1.9 1.9 0 1 0 -3.8 0zM307.69 205.18a1.9 1.9 0 1 0 3.8 0a1.9 1.9 0 1 0 -3.8 0zM307.81 213.29a1.9 1.9 0 1 0 3.8 0a1.9 1.9 0 1 0 -3.8 0zM307.92 206.75a1.9 1.9 0 1 0 3.8 0a1.9 1.9 0 1 0 -3.8 0zM308.04 213.29a1.9 1.9 0 1 0 3.8 0a1.9 1.9 0 1 0 -3.8 0zM308.27 216.65a1.9 1.9 0 1 0 3.8 0a1.9 1.9 0 1 0 -3.8 0zM308.38 221.39a1.9 1.9 0 1 0 3.8 0a1.9 1.9 0 1 0 -3.8 0zM308.61 216.65a1.9 1.9 0 1 0 3.8 0a1.9 1.9 0 1 0 -3.8 0zM308.72 221.39a1.9 1.9 0 1 0 3.8 0a1.9 1.9 0 1 0 -3.8 0zM308.84 229.5a1.9 1.9 0 1 0 3.8 0a1.9 1.9 0 1 0 -3.8 0zM309.96 221.39a1.9 1.9 0 1 0 3.8 0a1.9 1.9 0 1 0 -3.8 0zM310.29 229.5a1.9 1.9 0 1 0 3.8 0a1.9 1.9 0 1 0 -3.8 0zM310.5 221.39a1.9 1.9 0 1 0 3.8 0a1.9 1.9 0 1 0 -3.8 0zM310.61 229.5a1.9 1.9 0 1 0 3.8 0a1.9 1.9 0 1 0 -3.8 0zM310.72 221.39a1.9 1.9 0 1 0 3.8 0a1.9 1.9 0 1 0 -3.8 0zM310.83 229.5a1.9 1.9 0 1 0 3.8 0a1.9 1.9 0 1 0 -3.8 0zM311.9 221.39a1.9 1.9 0 1 0 3.8 0a1.9 1.9 0 1 0 -3.8 0zM312.32 229.5a1.9 1.9 0 1 0 3.8 0a1.9 1.9 0 1 0 -3.8 0zM310.8 229.5a1.9 1.9 0 1 0 3.8 0a1.9 1.9 0 1 0 -3.8 0zM312.2 229.5a1.9 1.9 0 1 0 3.8 0a1.9 1.9 0 1 0 -3.8 0zM313.6 229.5a1.9 1.9 0 1 0 3.8 0a1.9 1.9 0 1 0 -3.8 0zM315 229.5a1.9 1.9 0 1 0 3.8 0a1.9 1.9 0 1 0 -3.8 0z" fill="#00f400" stroke="none"/>
<g fill="none" stroke="#000" stroke-width="1.1" stroke-linejoin="round" clip-path="url(#cl)"><path d="M53.5 40.9L83.49 48.5L101.03 53.22L113.48 56.87L123.13 59.11L131.02 60.79L137.69 62.11L143.47 63.29L148.57 64.19L153.12 64.89L157.25 65.5L161.01 66.15L164.48 66.85L167.68 67.4L170.67 67.82L173.46 68.15L176.08 68.43L178.56 68.66L180.9 68.87L183.12 69.05L185.23 69.22L187.24 69.37L189.16 69.5L191 69.62L192.77 69.72L194.47 69.81L196.1 69.9L197.67 69.97L199.19 70.03L200.66 70.09L202.08 70.15L203.45 70.2L204.78 70.24L206.07 70.28L207.33 70.32L208.55 70.36L209.73 70.39L210.89 70.42L212.01 70.44L213.11 70.47L214.17 70.49L215.22 70.51L216.23 70.52L217.23 70.54L218.2 70.56L219.15 70.57L220.08 70.59L220.99 70.6L221.89 70.62L222.76 70.64L223.62 70.65L224.46 70.67L225.28 70.69L226.09 70.71L226.88 70.73L227.66 70.75L228.43 70.77L229.18 70.79L229.92 70.81L230.65 70.84L231.14 70.85L231.63 70.87L232.13 70.89L232.62 70.9L233.11 70.92L233.61 70.94L234.1 70.96L234.59 70.98L235.09 71L235.58 71.03L236.07 71.05L236.56 71.07L237.06 71.09L237.55 71.12L238.04 71.14L238.54 71.17L239.03 71.2L239.52 71.22L240.02 71.25L240.51 71.28L241 71.31L241.49 71.35L241.99 71.38L242.48 71.41L242.97 71.45L243.47 71.49L243.96 71.53L244.45 71.58L244.94 71.62L245.44 71.67L245.93 71.72L246.42 71.78L246.92 71.83L247.41 71.89L247.9 71.95L248.4 72.01L248.89 72.08L249.38 72.14L249.87 72.21L250.37 72.27L250.86 72.34L251.35 72.41L251.85 72.48L252.34 72.55L252.83 72.62L253.33 72.7L253.82 72.77L254.31 72.85L254.8 72.93L255.3 73.01L255.79 73.09L256.28 73.18L256.78 73.27L257.27 73.36L257.76 73.46L258.26 73.56L258.75 73.67L259.24 73.79L259.73 73.91L260.23 74.04L260.72 74.17L261.21 74.32L261.71 74.47L262.2 74.63L262.69 74.79L263.19 74.97L263.68 75.15L264.17 75.34L264.66 75.54L265.16 75.74L265.65 75.95L266.14 76.17L266.64 76.39L267.13 76.62L267.62 76.86L268.12 77.11L268.61 77.36L269.1 77.62L269.59 77.9L270.09 78.18L270.58 78.47L271.07 78.78L271.57 79.1L272.06 79.44L272.55 79.8L273.05 80.17L273.54 80.56L274.03 80.97L274.52 81.41L275.02 81.86L275.51 82.34L276 82.85L276.5 83.37L276.99 83.92L277.48 84.5L277.98 85.1L278.47 85.72L278.96 86.38L279.45 87.07L279.95 87.78L280.44 88.54L280.93 89.32L281.43 90.15L281.92 91L282.41 91.89L282.91 92.82L283.4 93.78L283.89 94.77L284.38 95.79L284.88 96.85L285.37 97.91L285.86 98.98L286.36 100.04L286.85 101.08L287.34 102.09L287.83 103.09L288.33 104.09L288.82 105.09L289.31 106.12L289.81 107.18L290.3 108.31L290.79 109.54L291.29 110.88L291.78 112.38L292.27 114.05L292.76 115.88L293.26 117.85L293.75 119.89L294.24 121.93L294.74 123.93L295.23 125.89L295.72 127.84L296.22 129.8L296.71 131.78L297.2 133.79L297.69 135.82L298.19 137.88L298.68 139.95L299.17 142.03L299.67 144.15L300.16 146.3L300.65 148.5L301.15 150.76L301.64 153.1L302.13 155.51L302.62 157.99L303.12 160.52L303.61 163.14L304.1 165.85L304.6 168.68L305.09 171.68L305.58 174.89L306.08 178.35L306.57 182.01L307.06 185.8L307.55 189.65L308.05 193.55L308.54 197.51L309.03 201.54L309.53 205.64L310.02 209.81L310.51 214.08L311.01 218.45L311.5 222.92L311.99 227.53L312.48 232.33L312.98 237.39" transform="translate(0 -0.25)"/><path d="M53.5 40.9L83.49 48.5L101.03 53.22L113.48 56.87L123.13 59.11L131.02 60.79L137.69 62.11L143.47 63.29L148.57 64.19L153.12 64.89L157.25 65.5L161.01 66.15L164.48 66.85L167.68 67.4L170.67 67.82L173.46 68.15L176.08 68.43L178.56 68.66L180.9 68.87L183.12 69.05L185.23 69.22L187.24 69.37L189.16 69.5L191 69.62L192.77 69.72L194.47 69.81L196.1 69.9L197.67 69.97L199.19 70.03L200.66 70.09L202.08 70.15L203.45 70.2L204.78 70.24L206.07 70.28L207.33 70.32L208.55 70.36L209.73 70.39L210.89 70.42L212.01 70.44L213.11 70.47L214.17 70.49L215.22 70.51L216.23 70.52L217.23 70.54L218.2 70.56L219.15 70.57L220.08 70.59L220.99 70.6L221.89 70.62L222.76 70.64L223.62 70.65L224.46 70.67L225.28 70.69L226.09 70.71L226.88 70.73L227.66 70.75L228.43 70.77L229.18 70.79L229.92 70.81L230.65 70.84L231.14 70.85L231.63 70.87L232.13 70.89L232.62 70.9L233.11 70.92L233.61 70.94L234.1 70.96L234.59 70.98L235.09 71L235.58 71.03L236.07 71.05L236.56 71.07L237.06 71.09L237.55 71.12L238.04 71.14L238.54 71.17L239.03 71.2L239.52 71.22L240.02 71.25L240.51 71.28L241 71.31L241.49 71.35L241.99 71.38L242.48 71.41L242.97 71.45L243.47 71.49L243.96 71.53L244.45 71.58L244.94 71.62L245.44 71.67L245.93 71.72L246.42 71.78L246.92 71.83L247.41 71.89L247.9 71.95L248.4 72.01L248.89 72.08L249.38 72.14L249.87 72.21L250.37 72.27L250.86 72.34L251.35 72.41L251.85 72.48L252.34 72.55L252.83 72.62L253.33 72.7L253.82 72.77L254.31 72.85L254.8 72.93L255.3 73.01L255.79 73.09L256.28 73.18L256.78 73.27L257.27 73.36L257.76 73.46L258.26 73.56L258.75 73.67L259.24 73.79L259.73 73.91L260.23 74.04L260.72 74.17L261.21 74.32L261.71 74.47L262.2 74.63L262.69 74.79L263.19 74.97L263.68 75.15L264.17 75.34L264.66 75.54L265.16 75.74L265.65 75.95L266.14 76.17L266.64 76.39L267.13 76.62L267.62 76.86L268.12 77.11L268.61 77.36L269.1 77.62L269.59 77.9L270.09 78.18L270.58 78.47L271.07 78.78L271.57 79.1L272.06 79.44L272.55 79.8L273.05 80.17L273.54 80.56L274.03 80.97L274.52 81.41L275.02 81.86L275.51 82.34L276 82.85L276.5 83.37L276.99 83.92L277.48 84.5L277.98 85.1L278.47 85.72L278.96 86.38L279.45 87.07L279.95 87.78L280.44 88.54L280.93 89.32L281.43 90.15L281.92 91L282.41 91.89L282.91 92.82L283.4 93.78L283.89 94.77L284.38 95.79L284.88 96.85L285.37 97.91L285.86 98.98L286.36 100.04L286.85 101.08L287.34 102.09L287.83 103.09L288.33 104.09L288.82 105.09L289.31 106.12L289.81 107.18L290.3 108.31L290.79 109.54L291.29 110.88L291.78 112.38L292.27 114.05L292.76 115.88L293.26 117.85L293.75 119.89L294.24 121.93L294.74 123.93L295.23 125.89L295.72 127.84L296.22 129.8L296.71 131.78L297.2 133.79L297.69 135.82L298.19 137.88L298.68 139.95L299.17 142.03L299.67 144.15L300.16 146.3L300.65 148.5L301.15 150.76L301.64 153.1L302.13 155.51L302.62 157.99L303.12 160.52L303.61 163.14L304.1 165.85L304.6 168.68L305.09 171.68L305.58 174.89L306.08 178.35L306.57 182.01L307.06 185.8L307.55 189.65L308.05 193.55L308.54 197.51L309.03 201.54L309.53 205.64L310.02 209.81L310.51 214.08L311.01 218.45L311.5 222.92L311.99 227.53L312.48 232.33L312.98 237.39" transform="translate(0 0.25)"/></g>
<path d="M53.5 37.8l2.65 4.9h-5.3zM83.49 45.31l2.65 4.9h-5.3zM101.03 49.69l2.65 4.9h-5.3zM113.48 51.76l2.65 4.9h-5.3zM123.13 53.26l2.65 4.9h-5.3zM131.02 54.59l2.65 4.9h-5.3zM137.69 55.72l2.65 4.9h-5.3zM143.47 56.66l2.65 4.9h-5.3zM148.57 57.29l2.65 4.9h-5.3zM153.12 57.79l2.65 4.9h-5.3zM157.25 58.16l2.65 4.9h-5.3zM161.01 58.41l2.65 4.9h-5.3zM164.48 58.64l2.65 4.9h-5.3zM167.68 58.78l2.65 4.9h-5.3zM170.67 58.87l2.65 4.9h-5.3zM173.46 58.95l2.65 4.9h-5.3zM176.08 59.01l2.65 4.9h-5.3zM178.56 59.04l2.65 4.9h-5.3zM180.9 59.07l2.65 4.9h-5.3zM183.12 59.11l2.65 4.9h-5.3zM185.23 59.1l2.65 4.9h-5.3zM187.24 59.11l2.65 4.9h-5.3zM189.16 59.1l2.65 4.9h-5.3zM191 59.04l2.65 4.9h-5.3zM192.77 58.99l2.65 4.9h-5.3zM194.47 58.91l2.65 4.9h-5.3zM196.1 58.82l2.65 4.9h-5.3zM197.67 58.72l2.65 4.9h-5.3zM199.19 58.62l2.65 4.9h-5.3zM200.66 58.52l2.65 4.9h-5.3zM202.08 58.4l2.65 4.9h-5.3zM203.45 58.3l2.65 4.9h-5.3zM204.78 58.19l2.65 4.9h-5.3zM206.07 58.1l2.65 4.9h-5.3zM207.33 57.99l2.65 4.9h-5.3zM208.55 57.89l2.65 4.9h-5.3zM209.73 57.76l2.65 4.9h-5.3zM210.89 57.66l2.65 4.9h-5.3zM212.01 57.55l2.65 4.9h-5.3zM213.11 57.43l2.65 4.9h-5.3zM214.17 57.32l2.65 4.9h-5.3zM215.22 57.23l2.65 4.9h-5.3zM216.23 57.12l2.65 4.9h-5.3zM217.23 57.01l2.65 4.9h-5.3zM218.2 56.91l2.65 4.9h-5.3zM219.15 56.83l2.65 4.9h-5.3zM220.08 56.74l2.65 4.9h-5.3zM220.99 56.65l2.65 4.9h-5.3zM221.89 56.6l2.65 4.9h-5.3zM222.76 56.54l2.65 4.9h-5.3zM223.62 56.49l2.65 4.9h-5.3zM224.46 56.46l2.65 4.9h-5.3zM225.28 56.46l2.65 4.9h-5.3zM226.09 56.46l2.65 4.9h-5.3zM226.88 56.47l2.65 4.9h-5.3zM227.66 56.49l2.65 4.9h-5.3zM228.43 56.54l2.65 4.9h-5.3zM229.18 56.59l2.65 4.9h-5.3zM229.92 56.65l2.65 4.9h-5.3zM230.65 56.72l2.65 4.9h-5.3zM231.36 56.8l2.65 4.9h-5.3zM232.07 56.88l2.65 4.9h-5.3zM232.76 57l2.65 4.9h-5.3zM233.44 57.11l2.65 4.9h-5.3zM234.11 57.23l2.65 4.9h-5.3zM234.77 57.36l2.65 4.9h-5.3zM235.42 57.47l2.65 4.9h-5.3zM236.06 57.62l2.65 4.9h-5.3zM236.7 57.74l2.65 4.9h-5.3zM237.32 57.88l2.65 4.9h-5.3zM237.93 58.03l2.65 4.9h-5.3zM239.13 58.33l2.65 4.9h-5.3zM240.3 58.67l2.65 4.9h-5.3zM241.44 59.02l2.65 4.9h-5.3zM242 59.25l2.65 4.9h-5.3zM242.55 59.48l2.65 4.9h-5.3zM243.1 59.7l2.65 4.9h-5.3zM243.63 59.94l2.65 4.9h-5.3zM244.16 60.2l2.65 4.9h-5.3zM244.69 60.48l2.65 4.9h-5.3zM245.21 60.75l2.65 4.9h-5.3zM245.72 61.03l2.65 4.9h-5.3zM246.22 61.34l2.65 4.9h-5.3zM246.72 61.62l2.65 4.9h-5.3zM247.22 61.92l2.65 4.9h-5.3zM247.71 62.22l2.65 4.9h-5.3zM248.19 62.53l2.65 4.9h-5.3zM248.67 62.81l2.65 4.9h-5.3zM249.14 63.15l2.65 4.9h-5.3zM249.61 63.46l2.65 4.9h-5.3zM250.07 63.76l2.65 4.9h-5.3zM250.53 64.1l2.65 4.9h-5.3zM250.98 64.45l2.65 4.9h-5.3zM251.43 64.77l2.65 4.9h-5.3zM251.88 65.16l2.65 4.9h-5.3zM252.32 65.5l2.65 4.9h-5.3zM252.75 65.86l2.65 4.9h-5.3zM253.18 66.26l2.65 4.9h-5.3zM253.61 66.63l2.65 4.9h-5.3zM254.03 67.04l2.65 4.9h-5.3zM254.45 67.46l2.65 4.9h-5.3zM254.86 67.86l2.65 4.9h-5.3zM255.27 68.32l2.65 4.9h-5.3zM255.68 68.78l2.65 4.9h-5.3zM256.08 69.27l2.65 4.9h-5.3zM256.48 69.74l2.65 4.9h-5.3zM256.87 70.21l2.65 4.9h-5.3zM257.27 70.7l2.65 4.9h-5.3zM257.65 71.2l2.65 4.9h-5.3zM258.04 71.75l2.65 4.9h-5.3zM258.42 72.28l2.65 4.9h-5.3zM258.8 72.82l2.65 4.9h-5.3zM259.17 73.42l2.65 4.9h-5.3zM259.54 73.99l2.65 4.9h-5.3zM259.91 74.58l2.65 4.9h-5.3zM260.28 75.24l2.65 4.9h-5.3zM260.64 75.88l2.65 4.9h-5.3zM261 76.55l2.65 4.9h-5.3zM261.35 77.24l2.65 4.9h-5.3zM261.71 77.95l2.65 4.9h-5.3zM262.06 78.69l2.65 4.9h-5.3zM262.4 79.44l2.65 4.9h-5.3zM262.75 80.19l2.65 4.9h-5.3zM263.09 80.95l2.65 4.9h-5.3zM263.43 81.77l2.65 4.9h-5.3zM263.77 82.51l2.65 4.9h-5.3zM264.1 83.42l2.65 4.9h-5.3zM264.43 84.17l2.65 4.9h-5.3zM264.76 84.97l2.65 4.9h-5.3zM265.09 85.87l2.65 4.9h-5.3zM265.41 86.72l2.65 4.9h-5.3zM265.73 87.62l2.65 4.9h-5.3zM266.05 88.44l2.65 4.9h-5.3zM266.37 89.41l2.65 4.9h-5.3zM266.69 90.32l2.65 4.9h-5.3zM267 91.34l2.65 4.9h-5.3zM267.31 92.28l2.65 4.9h-5.3zM267.62 93.29l2.65 4.9h-5.3zM267.92 94.29l2.65 4.9h-5.3zM268.23 95.32l2.65 4.9h-5.3zM268.53 96.33l2.65 4.9h-5.3zM268.83 97.42l2.65 4.9h-5.3zM269.12 98.39l2.65 4.9h-5.3zM269.42 99.48l2.65 4.9h-5.3zM269.71 100.51l2.65 4.9h-5.3zM270 101.65l2.65 4.9h-5.3zM270.29 102.66l2.65 4.9h-5.3zM270.58 103.61l2.65 4.9h-5.3zM270.87 104.78l2.65 4.9h-5.3zM271.15 105.89l2.65 4.9h-5.3zM271.43 106.97l2.65 4.9h-5.3zM271.71 108.06l2.65 4.9h-5.3zM271.99 109.18l2.65 4.9h-5.3zM272.27 110.49l2.65 4.9h-5.3zM272.54 111.66l2.65 4.9h-5.3zM272.81 112.8l2.65 4.9h-5.3zM273.09 113.91l2.65 4.9h-5.3zM273.36 115.21l2.65 4.9h-5.3zM273.62 116.62l2.65 4.9h-5.3zM273.89 117.79l2.65 4.9h-5.3zM274.15 119.3l2.65 4.9h-5.3zM274.42 120.46l2.65 4.9h-5.3zM274.68 121.81l2.65 4.9h-5.3zM274.94 122.81l2.65 4.9h-5.3zM275.2 124.07l2.65 4.9h-5.3zM275.45 125.42l2.65 4.9h-5.3zM275.71 126.71l2.65 4.9h-5.3zM275.96 127.35l2.65 4.9h-5.3zM276.21 128.85l2.65 4.9h-5.3zM276.47 130.04l2.65 4.9h-5.3zM276.71 131.4l2.65 4.9h-5.3zM276.96 132.44l2.65 4.9h-5.3zM277.21 133.99l2.65 4.9h-5.3zM277.45 135.11l2.65 4.9h-5.3zM277.7 135.77l2.65 4.9h-5.3zM277.94 137.28l2.65 4.9h-5.3zM278.18 138.53l2.65 4.9h-5.3zM278.42 139.69l2.65 4.9h-5.3zM278.66 141.14l2.65 4.9h-5.3zM278.9 142.12l2.65 4.9h-5.3zM279.13 143.67l2.65 4.9h-5.3zM279.37 145.4l2.65 4.9h-5.3zM279.6 147.01l2.65 4.9h-5.3zM280.06 149.05l2.65 4.9h-5.3zM280.29 150.94l2.65 4.9h-5.3zM280.52 152.68l2.65 4.9h-5.3zM280.97 153.94l2.65 4.9h-5.3zM281.42 157.44l2.65 4.9h-5.3zM281.64 158.95l2.65 4.9h-5.3zM281.87 160.14l2.65 4.9h-5.3zM282.09 161.88l2.65 4.9h-5.3zM282.31 163.71l2.65 4.9h-5.3zM282.52 164.92l2.65 4.9h-5.3zM282.74 167.5l2.65 4.9h-5.3zM282.96 168.78l2.65 4.9h-5.3zM283.38 169.57l2.65 4.9h-5.3zM283.6 171.33l2.65 4.9h-5.3zM283.81 173.15l2.65 4.9h-5.3zM284.02 175.01l2.65 4.9h-5.3zM284.23 175.76l2.65 4.9h-5.3zM284.44 177.23l2.65 4.9h-5.3zM284.64 183.56l2.65 4.9h-5.3zM284.85 180.2l2.65 4.9h-5.3zM285.06 185.16l2.65 4.9h-5.3zM285.46 187.02l2.65 4.9h-5.3zM285.67 189.24l2.65 4.9h-5.3zM285.87 186.25l2.65 4.9h-5.3zM286.07 194.73l2.65 4.9h-5.3zM286.27 195.54l2.65 4.9h-5.3zM286.47 210.19l2.65 4.9h-5.3zM286.67 199.47l2.65 4.9h-5.3zM286.86 200.71l2.65 4.9h-5.3zM287.06 210.19l2.65 4.9h-5.3zM287.26 213.55l2.65 4.9h-5.3zM287.45 210.19l2.65 4.9h-5.3zM287.64 226.4l2.65 4.9h-5.3zM288.97 218.29l2.65 4.9h-5.3zM290.08 226.4l2.65 4.9h-5.3zM291.1 226.4l2.65 4.9h-5.3zM292.5 226.4l2.65 4.9h-5.3zM293.9 226.4l2.65 4.9h-5.3z" fill="#ffa500" stroke="none"/>
<g fill="none" stroke="#000" stroke-width="1.1" stroke-linejoin="round" clip-path="url(#cl)"><path d="M53.5 40.9L83.49 48.4L101.03 52.78L113.48 54.86L123.13 56.36L131.02 57.69L137.69 58.83L143.47 59.74L148.57 60.39L153.12 60.89L157.25 61.25L161.01 61.52L164.48 61.73L167.68 61.88L170.67 61.98L173.46 62.04L176.08 62.1L178.56 62.15L180.9 62.18L183.12 62.2L185.23 62.22L187.24 62.21L189.16 62.19L191 62.15L192.77 62.09L194.47 62.01L196.1 61.92L197.67 61.82L199.19 61.72L200.66 61.61L202.08 61.51L203.45 61.4L204.78 61.3L206.07 61.2L207.33 61.09L208.55 60.99L209.73 60.87L210.89 60.76L212.01 60.65L213.11 60.54L214.17 60.43L215.22 60.32L216.23 60.22L217.23 60.12L218.2 60.02L219.15 59.92L220.08 59.83L220.99 59.76L221.89 59.69L222.76 59.63L223.62 59.59L224.46 59.57L225.28 59.56L226.09 59.56L226.88 59.57L227.66 59.6L228.43 59.63L229.18 59.68L229.92 59.75L230.65 59.82L231.14 59.88L231.63 59.94L232.13 60.01L232.62 60.08L233.11 60.16L233.61 60.24L234.1 60.33L234.59 60.42L235.09 60.51L235.58 60.61L236.07 60.71L236.56 60.82L237.06 60.93L237.55 61.04L238.04 61.16L238.54 61.28L239.03 61.4L239.52 61.53L240.02 61.68L240.51 61.82L241 61.98L241.49 62.15L241.99 62.34L242.48 62.53L242.97 62.74L243.47 62.96L243.96 63.2L244.45 63.44L244.94 63.7L245.44 63.97L245.93 64.25L246.42 64.54L246.92 64.83L247.41 65.13L247.9 65.44L248.4 65.75L248.89 66.07L249.38 66.4L249.87 66.74L250.37 67.08L250.86 67.44L251.35 67.82L251.85 68.21L252.34 68.61L252.83 69.03L253.33 69.48L253.82 69.94L254.31 70.42L254.8 70.93L255.3 71.46L255.79 72.01L256.28 72.58L256.78 73.18L257.27 73.8L257.76 74.46L258.26 75.14L258.75 75.85L259.24 76.61L259.73 77.4L260.23 78.24L260.72 79.13L261.21 80.07L261.71 81.05L262.2 82.08L262.69 83.16L263.19 84.28L263.68 85.43L264.17 86.63L264.66 87.87L265.16 89.16L265.65 90.49L266.14 91.88L266.64 93.33L267.13 94.83L267.62 96.39L268.12 98.02L268.61 99.71L269.1 101.45L269.59 103.22L270.09 105.02L270.58 106.86L271.07 108.74L271.57 110.67L272.06 112.68L272.55 114.77L273.05 116.97L273.54 119.27L274.03 121.65L274.52 124.06L275.02 126.45L275.51 128.79L276 131.08L276.5 133.37L276.99 135.68L277.48 138.06L277.98 140.55L278.47 143.15L278.96 145.86L279.45 148.66L279.95 151.55L280.44 154.52L280.93 157.59L281.43 160.74L281.92 163.97L282.41 167.27L282.91 170.62L283.4 173.99L283.89 177.37L284.38 180.87L284.88 184.65L285.37 188.77L285.86 193.14L286.36 197.73L286.85 202.53L287.34 207.52L287.83 212.67L288.33 217.94L288.82 223.25L289.31 228.58L289.81 233.97" transform="translate(0 -0.25)"/><path d="M53.5 40.9L83.49 48.4L101.03 52.78L113.48 54.86L123.13 56.36L131.02 57.69L137.69 58.83L143.47 59.74L148.57 60.39L153.12 60.89L157.25 61.25L161.01 61.52L164.48 61.73L167.68 61.88L170.67 61.98L173.46 62.04L176.08 62.1L178.56 62.15L180.9 62.18L183.12 62.2L185.23 62.22L187.24 62.21L189.16 62.19L191 62.15L192.77 62.09L194.47 62.01L196.1 61.92L197.67 61.82L199.19 61.72L200.66 61.61L202.08 61.51L203.45 61.4L204.78 61.3L206.07 61.2L207.33 61.09L208.55 60.99L209.73 60.87L210.89 60.76L212.01 60.65L213.11 60.54L214.17 60.43L215.22 60.32L216.23 60.22L217.23 60.12L218.2 60.02L219.15 59.92L220.08 59.83L220.99 59.76L221.89 59.69L222.76 59.63L223.62 59.59L224.46 59.57L225.28 59.56L226.09 59.56L226.88 59.57L227.66 59.6L228.43 59.63L229.18 59.68L229.92 59.75L230.65 59.82L231.14 59.88L231.63 59.94L232.13 60.01L232.62 60.08L233.11 60.16L233.61 60.24L234.1 60.33L234.59 60.42L235.09 60.51L235.58 60.61L236.07 60.71L236.56 60.82L237.06 60.93L237.55 61.04L238.04 61.16L238.54 61.28L239.03 61.4L239.52 61.53L240.02 61.68L240.51 61.82L241 61.98L241.49 62.15L241.99 62.34L242.48 62.53L242.97 62.74L243.47 62.96L243.96 63.2L244.45 63.44L244.94 63.7L245.44 63.97L245.93 64.25L246.42 64.54L246.92 64.83L247.41 65.13L247.9 65.44L248.4 65.75L248.89 66.07L249.38 66.4L249.87 66.74L250.37 67.08L250.86 67.44L251.35 67.82L251.85 68.21L252.34 68.61L252.83 69.03L253.33 69.48L253.82 69.94L254.31 70.42L254.8 70.93L255.3 71.46L255.79 72.01L256.28 72.58L256.78 73.18L257.27 73.8L257.76 74.46L258.26 75.14L258.75 75.85L259.24 76.61L259.73 77.4L260.23 78.24L260.72 79.13L261.21 80.07L261.71 81.05L262.2 82.08L262.69 83.16L263.19 84.28L263.68 85.43L264.17 86.63L264.66 87.87L265.16 89.16L265.65 90.49L266.14 91.88L266.64 93.33L267.13 94.83L267.62 96.39L268.12 98.02L268.61 99.71L269.1 101.45L269.59 103.22L270.09 105.02L270.58 106.86L271.07 108.74L271.57 110.67L272.06 112.68L272.55 114.77L273.05 116.97L273.54 119.27L274.03 121.65L274.52 124.06L275.02 126.45L275.51 128.79L276 131.08L276.5 133.37L276.99 135.68L277.48 138.06L277.98 140.55L278.47 143.15L278.96 145.86L279.45 148.66L279.95 151.55L280.44 154.52L280.93 157.59L281.43 160.74L281.92 163.97L282.41 167.27L282.91 170.62L283.4 173.99L283.89 177.37L284.38 180.87L284.88 184.65L285.37 188.77L285.86 193.14L286.36 197.73L286.85 202.53L287.34 207.52L287.83 212.67L288.33 217.94L288.82 223.25L289.31 228.58L289.81 233.97" transform="translate(0 0.25)"/></g>
<path d="M51.55 40.9a1.95 1.95 0 1 0 3.9 0a1.95 1.95 0 1 0 -3.9 0zM81.54 45.2a1.95 1.95 0 1 0 3.9 0a1.95 1.95 0 1 0 -3.9 0zM99.08 47.49a1.95 1.95 0 1 0 3.9 0a1.95 1.95 0 1 0 -3.9 0zM111.53 48.17a1.95 1.95 0 1 0 3.9 0a1.95 1.95 0 1 0 -3.9 0zM121.18 47.97a1.95 1.95 0 1 0 3.9 0a1.95 1.95 0 1 0 -3.9 0zM129.07 47.36a1.95 1.95 0 1 0 3.9 0a1.95 1.95 0 1 0 -3.9 0zM135.74 46.42a1.95 1.95 0 1 0 3.9 0a1.95 1.95 0 1 0 -3.9 0zM141.52 45.56a1.95 1.95 0 1 0 3.9 0a1.95 1.95 0 1 0 -3.9 0zM146.62 44.7a1.95 1.95 0 1 0 3.9 0a1.95 1.95 0 1 0 -3.9 0zM151.18 43.87a1.95 1.95 0 1 0 3.9 0a1.95 1.95 0 1 0 -3.9 0zM155.3 42.78a1.95 1.95 0 1 0 3.9 0a1.95 1.95 0 1 0 -3.9 0zM159.06 41.34a1.95 1.95 0 1 0 3.9 0a1.95 1.95 0 1 0 -3.9 0zM162.53 40.15a1.95 1.95 0 1 0 3.9 0a1.95 1.95 0 1 0 -3.9 0zM165.73 39.2a1.95 1.95 0 1 0 3.9 0a1.95 1.95 0 1 0 -3.9 0zM168.72 38.35a1.95 1.95 0 1 0 3.9 0a1.95 1.95 0 1 0 -3.9 0zM171.51 37.63a1.95 1.95 0 1 0 3.9 0a1.95 1.95 0 1 0 -3.9 0zM174.13 37.03a1.95 1.95 0 1 0 3.9 0a1.95 1.95 0 1 0 -3.9 0zM176.61 36.57a1.95 1.95 0 1 0 3.9 0a1.95 1.95 0 1 0 -3.9 0zM178.95 36.21a1.95 1.95 0 1 0 3.9 0a1.95 1.95 0 1 0 -3.9 0zM181.17 35.93a1.95 1.95 0 1 0 3.9 0a1.95 1.95 0 1 0 -3.9 0zM183.28 35.71a1.95 1.95 0 1 0 3.9 0a1.95 1.95 0 1 0 -3.9 0zM185.29 35.55a1.95 1.95 0 1 0 3.9 0a1.95 1.95 0 1 0 -3.9 0zM187.21 35.45a1.95 1.95 0 1 0 3.9 0a1.95 1.95 0 1 0 -3.9 0zM189.05 35.42a1.95 1.95 0 1 0 3.9 0a1.95 1.95 0 1 0 -3.9 0zM190.82 35.5a1.95 1.95 0 1 0 3.9 0a1.95 1.95 0 1 0 -3.9 0zM192.52 35.71a1.95 1.95 0 1 0 3.9 0a1.95 1.95 0 1 0 -3.9 0zM194.15 36.01a1.95 1.95 0 1 0 3.9 0a1.95 1.95 0 1 0 -3.9 0zM195.72 36.4a1.95 1.95 0 1 0 3.9 0a1.95 1.95 0 1 0 -3.9 0zM197.24 36.86a1.95 1.95 0 1 0 3.9 0a1.95 1.95 0 1 0 -3.9 0zM198.71 37.4a1.95 1.95 0 1 0 3.9 0a1.95 1.95 0 1 0 -3.9 0zM200.13 38.04a1.95 1.95 0 1 0 3.9 0a1.95 1.95 0 1 0 -3.9 0zM201.5 38.79a1.95 1.95 0 1 0 3.9 0a1.95 1.95 0 1 0 -3.9 0zM202.83 39.69a1.95 1.95 0 1 0 3.9 0a1.95 1.95 0 1 0 -3.9 0zM204.12 40.71a1.95 1.95 0 1 0 3.9 0a1.95 1.95 0 1 0 -3.9 0zM205.38 41.84a1.95 1.95 0 1 0 3.9 0a1.95 1.95 0 1 0 -3.9 0zM206.6 43.07a1.95 1.95 0 1 0 3.9 0a1.95 1.95 0 1 0 -3.9 0zM207.78 44.37a1.95 1.95 0 1 0 3.9 0a1.95 1.95 0 1 0 -3.9 0zM208.94 45.78a1.95 1.95 0 1 0 3.9 0a1.95 1.95 0 1 0 -3.9 0zM210.06 47.26a1.95 1.95 0 1 0 3.9 0a1.95 1.95 0 1 0 -3.9 0zM211.16 48.86a1.95 1.95 0 1 0 3.9 0a1.95 1.95 0 1 0 -3.9 0zM212.22 50.54a1.95 1.95 0 1 0 3.9 0a1.95 1.95 0 1 0 -3.9 0zM213.27 52.36a1.95 1.95 0 1 0 3.9 0a1.95 1.95 0 1 0 -3.9 0zM214.28 54.3a1.95 1.95 0 1 0 3.9 0a1.95 1.95 0 1 0 -3.9 0zM215.28 56.39a1.95 1.95 0 1 0 3.9 0a1.95 1.95 0 1 0 -3.9 0zM216.25 58.61a1.95 1.95 0 1 0 3.9 0a1.95 1.95 0 1 0 -3.9 0zM217.2 61a1.95 1.95 0 1 0 3.9 0a1.95 1.95 0 1 0 -3.9 0zM218.13 63.48a1.95 1.95 0 1 0 3.9 0a1.95 1.95 0 1 0 -3.9 0zM219.04 66.06a1.95 1.95 0 1 0 3.9 0a1.95 1.95 0 1 0 -3.9 0zM219.94 68.7a1.95 1.95 0 1 0 3.9 0a1.95 1.95 0 1 0 -3.9 0zM220.81 71.41a1.95 1.95 0 1 0 3.9 0a1.95 1.95 0 1 0 -3.9 0zM221.67 74.04a1.95 1.95 0 1 0 3.9 0a1.95 1.95 0 1 0 -3.9 0zM222.51 76.58a1.95 1.95 0 1 0 3.9 0a1.95 1.95 0 1 0 -3.9 0zM223.33 79.09a1.95 1.95 0 1 0 3.9 0a1.95 1.95 0 1 0 -3.9 0zM224.14 81.69a1.95 1.95 0 1 0 3.9 0a1.95 1.95 0 1 0 -3.9 0zM224.93 84.86a1.95 1.95 0 1 0 3.9 0a1.95 1.95 0 1 0 -3.9 0zM225.71 89.02a1.95 1.95 0 1 0 3.9 0a1.95 1.95 0 1 0 -3.9 0zM226.48 93.74a1.95 1.95 0 1 0 3.9 0a1.95 1.95 0 1 0 -3.9 0zM227.23 97.78a1.95 1.95 0 1 0 3.9 0a1.95 1.95 0 1 0 -3.9 0zM227.97 101.51a1.95 1.95 0 1 0 3.9 0a1.95 1.95 0 1 0 -3.9 0zM228.7 104.72a1.95 1.95 0 1 0 3.9 0a1.95 1.95 0 1 0 -3.9 0zM229.41 108.22a1.95 1.95 0 1 0 3.9 0a1.95 1.95 0 1 0 -3.9 0zM230.12 111.85a1.95 1.95 0 1 0 3.9 0a1.95 1.95 0 1 0 -3.9 0zM230.81 115.8a1.95 1.95 0 1 0 3.9 0a1.95 1.95 0 1 0 -3.9 0zM231.49 119.88a1.95 1.95 0 1 0 3.9 0a1.95 1.95 0 1 0 -3.9 0zM232.16 124.31a1.95 1.95 0 1 0 3.9 0a1.95 1.95 0 1 0 -3.9 0zM232.82 128.35a1.95 1.95 0 1 0 3.9 0a1.95 1.95 0 1 0 -3.9 0zM233.47 132.49a1.95 1.95 0 1 0 3.9 0a1.95 1.95 0 1 0 -3.9 0zM234.11 136.49a1.95 1.95 0 1 0 3.9 0a1.95 1.95 0 1 0 -3.9 0zM234.75 140.8a1.95 1.95 0 1 0 3.9 0a1.95 1.95 0 1 0 -3.9 0zM235.37 145.28a1.95 1.95 0 1 0 3.9 0a1.95 1.95 0 1 0 -3.9 0zM235.98 150.14a1.95 1.95 0 1 0 3.9 0a1.95 1.95 0 1 0 -3.9 0zM236.59 155.44a1.95 1.95 0 1 0 3.9 0a1.95 1.95 0 1 0 -3.9 0zM237.18 161.83a1.95 1.95 0 1 0 3.9 0a1.95 1.95 0 1 0 -3.9 0zM237.77 168.84a1.95 1.95 0 1 0 3.9 0a1.95 1.95 0 1 0 -3.9 0zM238.35 175.3a1.95 1.95 0 1 0 3.9 0a1.95 1.95 0 1 0 -3.9 0zM238.93 180.51a1.95 1.95 0 1 0 3.9 0a1.95 1.95 0 1 0 -3.9 0zM239.49 188.97a1.95 1.95 0 1 0 3.9 0a1.95 1.95 0 1 0 -3.9 0zM240.05 199.51a1.95 1.95 0 1 0 3.9 0a1.95 1.95 0 1 0 -3.9 0zM241.15 208.55a1.95 1.95 0 1 0 3.9 0a1.95 1.95 0 1 0 -3.9 0zM241.68 229.5a1.95 1.95 0 1 0 3.9 0a1.95 1.95 0 1 0 -3.9 0zM242.21 221.39a1.95 1.95 0 1 0 3.9 0a1.95 1.95 0 1 0 -3.9 0zM243.26 229.5a1.95 1.95 0 1 0 3.9 0a1.95 1.95 0 1 0 -3.9 0z" fill="none" stroke="#0000ff" stroke-width="0.5"/>
<g fill="none" stroke="#000" stroke-width="1.1" stroke-linejoin="round" clip-path="url(#cl)"><path d="M53.5 40.9L83.49 45.2L101.03 47.49L113.48 48.17L123.13 47.98L131.02 47.36L137.69 46.42L143.47 45.56L148.57 44.7L153.12 43.86L157.25 42.77L161.01 41.34L164.48 40.15L167.68 39.2L170.67 38.36L173.46 37.63L176.08 37.03L178.56 36.57L180.9 36.21L183.12 35.93L185.23 35.71L187.24 35.55L189.16 35.45L191 35.42L192.77 35.5L194.47 35.71L196.1 36.02L197.67 36.4L199.19 36.86L200.66 37.4L202.08 38.04L203.45 38.79L204.78 39.69L206.07 40.71L207.33 41.84L208.55 43.07L209.73 44.38L210.89 45.78L212.01 47.27L213.11 48.85L214.17 50.54L215.22 52.36L216.23 54.3L217.23 56.39L218.2 58.61L219.15 60.98L220.08 63.48L220.99 66.06L221.89 68.7L222.76 71.39L223.62 74.06L224.46 76.61L225.28 79.07L226.09 81.68L226.88 84.83L227.66 89L228.43 93.73L229.18 97.86L229.92 101.45L230.65 104.83L231.14 107.14L231.63 109.56L232.13 112.14L232.62 114.93L233.11 117.9L233.61 121L234.1 124.17L234.59 127.35L235.09 130.47L235.58 133.53L236.07 136.61L236.56 139.8L237.06 143.25L237.55 147.1L238.04 151.31L238.54 155.81L239.03 160.6L239.52 165.68L240.02 171.01L240.51 176.53L241 182.25L241.49 188.32L241.99 194.72L242.48 201.32L242.97 207.96L243.47 214.48L243.96 220.98L244.45 227.53L244.94 234.13" transform="translate(0 -0.25)"/><path d="M53.5 40.9L83.49 45.2L101.03 47.49L113.48 48.17L123.13 47.98L131.02 47.36L137.69 46.42L143.47 45.56L148.57 44.7L153.12 43.86L157.25 42.77L161.01 41.34L164.48 40.15L167.68 39.2L170.67 38.36L173.46 37.63L176.08 37.03L178.56 36.57L180.9 36.21L183.12 35.93L185.23 35.71L187.24 35.55L189.16 35.45L191 35.42L192.77 35.5L194.47 35.71L196.1 36.02L197.67 36.4L199.19 36.86L200.66 37.4L202.08 38.04L203.45 38.79L204.78 39.69L206.07 40.71L207.33 41.84L208.55 43.07L209.73 44.38L210.89 45.78L212.01 47.27L213.11 48.85L214.17 50.54L215.22 52.36L216.23 54.3L217.23 56.39L218.2 58.61L219.15 60.98L220.08 63.48L220.99 66.06L221.89 68.7L222.76 71.39L223.62 74.06L224.46 76.61L225.28 79.07L226.09 81.68L226.88 84.83L227.66 89L228.43 93.73L229.18 97.86L229.92 101.45L230.65 104.83L231.14 107.14L231.63 109.56L232.13 112.14L232.62 114.93L233.11 117.9L233.61 121L234.1 124.17L234.59 127.35L235.09 130.47L235.58 133.53L236.07 136.61L236.56 139.8L237.06 143.25L237.55 147.1L238.04 151.31L238.54 155.81L239.03 160.6L239.52 165.68L240.02 171.01L240.51 176.53L241 182.25L241.49 188.32L241.99 194.72L242.48 201.32L242.97 207.96L243.47 214.48L243.96 220.98L244.45 227.53L244.94 234.13" transform="translate(0 0.25)"/></g>
</g>
<path d="M53.5 229.5v-3.4M53.5 14.1v3.4M83.49 229.5v-1.7M83.49 14.1v1.7M101.03 229.5v-1.7M101.03 14.1v1.7M113.48 229.5v-1.7M113.48 14.1v1.7M123.13 229.5v-1.7M123.13 14.1v1.7M131.02 229.5v-1.7M131.02 14.1v1.7M137.69 229.5v-1.7M137.69 14.1v1.7M143.47 229.5v-1.7M143.47 14.1v1.7M148.57 229.5v-1.7M148.57 14.1v1.7M153.12 229.5v-3.4M153.12 14.1v3.4M183.12 229.5v-1.7M183.12 14.1v1.7M200.66 229.5v-1.7M200.66 14.1v1.7M213.11 229.5v-1.7M213.11 14.1v1.7M222.76 229.5v-1.7M222.76 14.1v1.7M230.65 229.5v-1.7M230.65 14.1v1.7M237.32 229.5v-1.7M237.32 14.1v1.7M243.1 229.5v-1.7M243.1 14.1v1.7M248.19 229.5v-1.7M248.19 14.1v1.7M252.75 229.5v-3.4M252.75 14.1v3.4M282.74 229.5v-1.7M282.74 14.1v1.7M300.28 229.5v-1.7M300.28 14.1v1.7M312.73 229.5v-1.7M312.73 14.1v1.7M322.38 229.5v-1.7M322.38 14.1v1.7M330.27 229.5v-1.7M330.27 14.1v1.7M336.94 229.5v-1.7M336.94 14.1v1.7M342.72 229.5v-1.7M342.72 14.1v1.7M347.82 229.5v-1.7M347.82 14.1v1.7M352.38 229.5v-3.4M352.38 14.1v3.4M382.37 229.5v-1.7M382.37 14.1v1.7M399.91 229.5v-1.7M399.91 14.1v1.7M412.36 229.5v-1.7M412.36 14.1v1.7M422.01 229.5v-1.7M422.01 14.1v1.7M429.9 229.5v-1.7M429.9 14.1v1.7M436.57 229.5v-1.7M436.57 14.1v1.7M442.35 229.5v-1.7M442.35 14.1v1.7M447.44 229.5v-1.7M447.44 14.1v1.7M452 229.5v-3.4M452 14.1v3.4M53.5 229.5h3.4M452 229.5h-3.4M53.5 221.39h1.7M452 221.39h-1.7M53.5 216.65h1.7M452 216.65h-1.7M53.5 213.29h1.7M452 213.29h-1.7M53.5 210.68h1.7M452 210.68h-1.7M53.5 208.55h1.7M452 208.55h-1.7M53.5 206.75h1.7M452 206.75h-1.7M53.5 205.18h1.7M452 205.18h-1.7M53.5 203.81h1.7M452 203.81h-1.7M53.5 202.57h3.4M452 202.57h-3.4M53.5 194.47h1.7M452 194.47h-1.7M53.5 189.73h1.7M452 189.73h-1.7M53.5 186.36h1.7M452 186.36h-1.7M53.5 183.76h1.7M452 183.76h-1.7M53.5 181.62h1.7M452 181.62h-1.7M53.5 179.82h1.7M452 179.82h-1.7M53.5 178.26h1.7M452 178.26h-1.7M53.5 176.88h1.7M452 176.88h-1.7M53.5 175.65h3.4M452 175.65h-3.4M53.5 167.54h1.7M452 167.54h-1.7M53.5 162.8h1.7M452 162.8h-1.7M53.5 159.44h1.7M452 159.44h-1.7M53.5 156.83h1.7M452 156.83h-1.7M53.5 154.7h1.7M452 154.7h-1.7M53.5 152.9h1.7M452 152.9h-1.7M53.5 151.33h1.7M452 151.33h-1.7M53.5 149.96h1.7M452 149.96h-1.7M53.5 148.72h3.4M452 148.72h-3.4M53.5 140.62h1.7M452 140.62h-1.7M53.5 135.88h1.7M452 135.88h-1.7M53.5 132.51h1.7M452 132.51h-1.7M53.5 129.91h1.7M452 129.91h-1.7M53.5 127.77h1.7M452 127.77h-1.7M53.5 125.97h1.7M452 125.97h-1.7M53.5 124.41h1.7M452 124.41h-1.7M53.5 123.03h1.7M452 123.03h-1.7M53.5 121.8h3.4M452 121.8h-3.4M53.5 113.69h1.7M452 113.69h-1.7M53.5 108.95h1.7M452 108.95h-1.7M53.5 105.59h1.7M452 105.59h-1.7M53.5 102.98h1.7M452 102.98h-1.7M53.5 100.85h1.7M452 100.85h-1.7M53.5 99.05h1.7M452 99.05h-1.7M53.5 97.48h1.7M452 97.48h-1.7M53.5 96.11h1.7M452 96.11h-1.7M53.5 94.88h3.4M452 94.88h-3.4M53.5 86.77h1.7M452 86.77h-1.7M53.5 82.03h1.7M452 82.03h-1.7M53.5 78.66h1.7M452 78.66h-1.7M53.5 76.06h1.7M452 76.06h-1.7M53.5 73.92h1.7M452 73.92h-1.7M53.5 72.12h1.7M452 72.12h-1.7M53.5 70.56h1.7M452 70.56h-1.7M53.5 69.18h1.7M452 69.18h-1.7M53.5 67.95h3.4M452 67.95h-3.4M53.5 59.84h1.7M452 59.84h-1.7M53.5 55.1h1.7M452 55.1h-1.7M53.5 51.74h1.7M452 51.74h-1.7M53.5 49.13h1.7M452 49.13h-1.7M53.5 47h1.7M452 47h-1.7M53.5 45.2h1.7M452 45.2h-1.7M53.5 43.63h1.7M452 43.63h-1.7M53.5 42.26h1.7M452 42.26h-1.7M53.5 41.03h3.4M452 41.03h-3.4M53.5 32.92h1.7M452 32.92h-1.7M53.5 28.18h1.7M452 28.18h-1.7M53.5 24.81h1.7M452 24.81h-1.7M53.5 22.21h1.7M452 22.21h-1.7M53.5 20.07h1.7M452 20.07h-1.7M53.5 18.27h1.7M452 18.27h-1.7M53.5 16.71h1.7M452 16.71h-1.7M53.5 15.33h1.7M452 15.33h-1.7M53.5 14.1h3.4M452 14.1h-3.4" stroke="#000" stroke-width="0.7" fill="none"/>
<rect x="53.5" y="14.1" width="398.5" height="215.4" fill="none" stroke="#000" stroke-width="1"/>
<rect x="83.75" y="107.4" width="132.05" height="95.7" fill="#fff" stroke="none"/>
<g clip-path="url(#ci)">
<path d="M83.27 137.43h3.6v3.6h-3.6zM84.59 146.93h3.6v3.6h-3.6zM85.91 152.48h3.6v3.6h-3.6zM87.23 156.44h3.6v3.6h-3.6zM88.55 159.52h3.6v3.6h-3.6zM89.87 161.99h3.6v3.6h-3.6zM91.19 164.12h3.6v3.6h-3.6zM92.51 165.95h3.6v3.6h-3.6zM93.83 167.61h3.6v3.6h-3.6zM95.16 169.02h3.6v3.6h-3.6zM96.48 170.36h3.6v3.6h-3.6zM97.8 171.55h3.6v3.6h-3.6zM99.12 172.7h3.6v3.6h-3.6zM100.44 173.72h3.6v3.6h-3.6zM101.76 174.63h3.6v3.6h-3.6zM103.08 175.56h3.6v3.6h-3.6zM104.4 176.41h3.6v3.6h-3.6zM105.72 177.16h3.6v3.6h-3.6zM107.04 177.92h3.6v3.6h-3.6zM108.36 178.67h3.6v3.6h-3.6zM109.68 179.3h3.6v3.6h-3.6zM111 180.06h3.6v3.6h-3.6zM112.32 180.63h3.6v3.6h-3.6zM113.64 181.24h3.6v3.6h-3.6zM114.96 181.74h3.6v3.6h-3.6zM116.28 182.29h3.6v3.6h-3.6zM117.6 182.9h3.6v3.6h-3.6zM118.92 183.39h3.6v3.6h-3.6zM120.24 183.85h3.6v3.6h-3.6zM121.57 184.35h3.6v3.6h-3.6zM122.89 184.82h3.6v3.6h-3.6zM124.21 185.24h3.6v3.6h-3.6zM125.53 185.63h3.6v3.6h-3.6zM126.85 186.13h3.6v3.6h-3.6zM128.17 186.59h3.6v3.6h-3.6zM129.49 186.94h3.6v3.6h-3.6zM130.81 187.33h3.6v3.6h-3.6zM132.13 187.72h3.6v3.6h-3.6zM133.45 188.04h3.6v3.6h-3.6zM134.77 188.4h3.6v3.6h-3.6zM136.09 188.75h3.6v3.6h-3.6zM137.41 189.11h3.6v3.6h-3.6zM138.73 189.46h3.6v3.6h-3.6zM140.05 189.84h3.6v3.6h-3.6zM141.37 190.13h3.6v3.6h-3.6zM142.69 190.47h3.6v3.6h-3.6zM144.01 190.73h3.6v3.6h-3.6zM145.33 191.05h3.6v3.6h-3.6zM146.65 191.34h3.6v3.6h-3.6zM147.97 191.6h3.6v3.6h-3.6zM149.3 191.93h3.6v3.6h-3.6zM150.62 192.14h3.6v3.6h-3.6zM151.94 192.42h3.6v3.6h-3.6zM153.26 192.79h3.6v3.6h-3.6zM154.58 192.94h3.6v3.6h-3.6zM155.9 193.28h3.6v3.6h-3.6zM157.22 193.56h3.6v3.6h-3.6zM158.54 193.79h3.6v3.6h-3.6zM159.86 194.09h3.6v3.6h-3.6zM161.18 194.25h3.6v3.6h-3.6zM162.5 194.44h3.6v3.6h-3.6zM163.82 194.83h3.6v3.6h-3.6zM165.14 194.95h3.6v3.6h-3.6zM166.46 195.18h3.6v3.6h-3.6zM167.78 195.4h3.6v3.6h-3.6zM169.1 195.62h3.6v3.6h-3.6zM170.42 195.85h3.6v3.6h-3.6zM171.74 196.12h3.6v3.6h-3.6zM173.06 196.26h3.6v3.6h-3.6zM174.38 196.5h3.6v3.6h-3.6zM175.71 196.68h3.6v3.6h-3.6zM177.03 196.92h3.6v3.6h-3.6zM178.35 197.16h3.6v3.6h-3.6zM179.67 197.34h3.6v3.6h-3.6zM180.99 197.5h3.6v3.6h-3.6zM182.31 197.67h3.6v3.6h-3.6zM183.63 198.05h3.6v3.6h-3.6zM184.95 198.2h3.6v3.6h-3.6zM186.27 198.41h3.6v3.6h-3.6zM187.59 198.52h3.6v3.6h-3.6zM188.91 198.72h3.6v3.6h-3.6zM190.23 198.84h3.6v3.6h-3.6zM191.55 199.06h3.6v3.6h-3.6zM192.87 199.12h3.6v3.6h-3.6zM194.19 199.43h3.6v3.6h-3.6zM195.51 199.61h3.6v3.6h-3.6zM196.83 199.79h3.6v3.6h-3.6zM198.15 199.93h3.6v3.6h-3.6zM199.47 200.06h3.6v3.6h-3.6zM200.79 200.27h3.6v3.6h-3.6zM202.12 200.47h3.6v3.6h-3.6zM203.44 200.67h3.6v3.6h-3.6zM204.76 200.72h3.6v3.6h-3.6zM206.08 200.93h3.6v3.6h-3.6zM207.4 201.12h3.6v3.6h-3.6zM208.72 201.23h3.6v3.6h-3.6z" fill="#c6c6c6" stroke="none"/>
<path d="M85.07 139.22L86.39 148.72L87.71 154.28L89.03 158.23L90.35 161.29L91.67 163.8L92.99 165.93L94.31 167.76L95.63 169.4L96.95 170.85L98.28 172.17L99.6 173.37L100.92 174.48L102.24 175.51L103.56 176.46L104.88 177.36L106.2 178.21L107.52 179L108.84 179.76L110.16 180.48L111.48 181.16L112.8 181.81L114.12 182.43L115.44 183.02L116.76 183.6L118.08 184.15L119.4 184.68L120.72 185.19L122.04 185.69L123.37 186.16L124.69 186.63L126.01 187.07L127.33 187.51L128.65 187.93L129.97 188.34L131.29 188.74L132.61 189.13L133.93 189.5L135.25 189.87L136.57 190.23L137.89 190.59L139.21 190.93L140.53 191.27L141.85 191.59L143.17 191.92L144.49 192.23L145.81 192.54L147.13 192.84L148.45 193.14L149.78 193.43L151.1 193.71L152.42 193.99L153.74 194.27L155.06 194.54L156.38 194.8L157.7 195.06L159.02 195.32L160.34 195.57L161.66 195.82L162.98 196.07L164.3 196.31L165.62 196.54L166.94 196.78L168.26 197.01L169.58 197.23L170.9 197.46L172.22 197.68L173.54 197.89L174.86 198.11L176.19 198.32L177.51 198.53L178.83 198.73L180.15 198.94L181.47 199.14L182.79 199.34L184.11 199.53L185.43 199.72L186.75 199.91L188.07 200.1L189.39 200.29L190.71 200.47L192.03 200.65L193.35 200.83L194.67 201.01L195.99 201.19L197.31 201.36L198.63 201.53L199.95 201.7L201.27 201.87L202.59 202.04L203.92 202.2L205.24 202.37L206.56 202.53L207.88 202.69L209.2 202.85L210.52 203.01L211.84 203.16L213.16 203.32L214.48 203.47L215.8 203.63" fill="none" stroke="#000" stroke-width="0.8" stroke-linejoin="round"/>
<path d="M85.07 139.15L86.39 148.15L87.71 153.88L89.03 158.55L90.35 161.67L91.67 164.05L92.99 166.16L94.31 167.96L95.63 169.51L96.95 170.89L98.28 172.11L99.6 173.3L100.92 174.49L102.24 175.54L103.56 176.47L104.88 177.3L106.2 178.07L107.52 178.78L108.84 179.44L110.16 180.06L111.48 180.64L112.8 181.19L114.12 181.71L115.44 182.22L116.76 182.72L118.08 183.2L119.4 183.68L120.72 184.16L122.04 184.63L123.37 185.09L124.69 185.54L126.01 185.97L127.33 186.4L128.65 186.82L129.97 187.22L131.29 187.61L132.61 187.99L133.93 188.35L135.25 188.7L136.57 189.04L137.89 189.36L139.21 189.68L140.53 189.98L141.85 190.28L143.17 190.56L144.49 190.84L145.81 191.11L147.13 191.37L148.45 191.62L149.78 191.87L151.1 192.12L152.42 192.35L153.74 192.58L155.06 192.81L156.38 193.03L157.7 193.24L159.02 193.45L160.34 193.66L161.66 193.86L162.98 194.06L164.3 194.25L165.62 194.44L166.94 194.62L168.26 194.8L169.58 194.98L170.9 195.15L172.22 195.32L173.54 195.49L174.86 195.65L176.19 195.82L177.51 195.97L178.83 196.13L180.15 196.28L181.47 196.44L182.79 196.59L184.11 196.73L185.43 196.88L186.75 197.02L188.07 197.17L189.39 197.31L190.71 197.45L192.03 197.58L193.35 197.72L194.67 197.85L195.99 197.99L197.31 198.12L198.63 198.25L199.95 198.38L201.27 198.5L202.59 198.63L203.92 198.76L205.24 198.88L206.56 199L207.88 199.13L209.2 199.25L210.52 199.37L211.84 199.49L213.16 199.61L214.48 199.73L215.8 199.84" fill="none" stroke="#ff0000" stroke-width="3.1" stroke-linejoin="round" clip-path="url(#ciu)"/>
<path d="M83.37 137.46l3.4 3.4m-3.4 0l3.4 -3.4M84.69 146.46l3.4 3.4m-3.4 0l3.4 -3.4M86.01 152.18l3.4 3.4m-3.4 0l3.4 -3.4M87.33 156.85l3.4 3.4m-3.4 0l3.4 -3.4M88.65 159.97l3.4 3.4m-3.4 0l3.4 -3.4M89.97 162.34l3.4 3.4m-3.4 0l3.4 -3.4M91.29 164.46l3.4 3.4m-3.4 0l3.4 -3.4M92.61 166.25l3.4 3.4m-3.4 0l3.4 -3.4M93.93 167.81l3.4 3.4m-3.4 0l3.4 -3.4M95.25 169.19l3.4 3.4m-3.4 0l3.4 -3.4M96.58 170.42l3.4 3.4m-3.4 0l3.4 -3.4M97.9 171.62l3.4 3.4m-3.4 0l3.4 -3.4M99.22 172.77l3.4 3.4m-3.4 0l3.4 -3.4M100.54 173.83l3.4 3.4m-3.4 0l3.4 -3.4M101.86 174.76l3.4 3.4m-3.4 0l3.4 -3.4M103.18 175.62l3.4 3.4m-3.4 0l3.4 -3.4M104.5 176.35l3.4 3.4m-3.4 0l3.4 -3.4M105.82 177.08l3.4 3.4m-3.4 0l3.4 -3.4M107.14 177.74l3.4 3.4m-3.4 0l3.4 -3.4M108.46 178.38l3.4 3.4m-3.4 0l3.4 -3.4M109.78 178.95l3.4 3.4m-3.4 0l3.4 -3.4M111.1 179.5l3.4 3.4m-3.4 0l3.4 -3.4M112.42 180.01l3.4 3.4m-3.4 0l3.4 -3.4M113.74 180.54l3.4 3.4m-3.4 0l3.4 -3.4M115.06 181.02l3.4 3.4m-3.4 0l3.4 -3.4M116.38 181.51l3.4 3.4m-3.4 0l3.4 -3.4M117.7 182.01l3.4 3.4m-3.4 0l3.4 -3.4M119.02 182.46l3.4 3.4m-3.4 0l3.4 -3.4M120.34 182.92l3.4 3.4m-3.4 0l3.4 -3.4M121.67 183.38l3.4 3.4m-3.4 0l3.4 -3.4M122.99 183.9l3.4 3.4m-3.4 0l3.4 -3.4M124.31 184.25l3.4 3.4m-3.4 0l3.4 -3.4M125.63 184.7l3.4 3.4m-3.4 0l3.4 -3.4M126.95 185.14l3.4 3.4m-3.4 0l3.4 -3.4M128.27 185.47l3.4 3.4m-3.4 0l3.4 -3.4M129.59 185.91l3.4 3.4m-3.4 0l3.4 -3.4M130.91 186.27l3.4 3.4m-3.4 0l3.4 -3.4M132.23 186.65l3.4 3.4m-3.4 0l3.4 -3.4M133.55 187.06l3.4 3.4m-3.4 0l3.4 -3.4M134.87 187.31l3.4 3.4m-3.4 0l3.4 -3.4M136.19 187.69l3.4 3.4m-3.4 0l3.4 -3.4M137.51 187.95l3.4 3.4m-3.4 0l3.4 -3.4M138.83 188.29l3.4 3.4m-3.4 0l3.4 -3.4M140.15 188.6l3.4 3.4m-3.4 0l3.4 -3.4M141.47 188.93l3.4 3.4m-3.4 0l3.4 -3.4M142.79 189.15l3.4 3.4m-3.4 0l3.4 -3.4M144.11 189.44l3.4 3.4m-3.4 0l3.4 -3.4M145.43 189.67l3.4 3.4m-3.4 0l3.4 -3.4M146.75 189.96l3.4 3.4m-3.4 0l3.4 -3.4M148.08 190.15l3.4 3.4m-3.4 0l3.4 -3.4M149.4 190.43l3.4 3.4m-3.4 0l3.4 -3.4M150.72 190.67l3.4 3.4m-3.4 0l3.4 -3.4M152.04 190.82l3.4 3.4m-3.4 0l3.4 -3.4M153.36 191.09l3.4 3.4m-3.4 0l3.4 -3.4M154.68 191.35l3.4 3.4m-3.4 0l3.4 -3.4M156 191.53l3.4 3.4m-3.4 0l3.4 -3.4M157.32 191.8l3.4 3.4m-3.4 0l3.4 -3.4M158.64 191.98l3.4 3.4m-3.4 0l3.4 -3.4M159.96 192.17l3.4 3.4m-3.4 0l3.4 -3.4M161.28 192.38l3.4 3.4m-3.4 0l3.4 -3.4M162.6 192.58l3.4 3.4m-3.4 0l3.4 -3.4M163.92 192.72l3.4 3.4m-3.4 0l3.4 -3.4M165.24 192.94l3.4 3.4m-3.4 0l3.4 -3.4M166.56 193.13l3.4 3.4m-3.4 0l3.4 -3.4M167.88 193.3l3.4 3.4m-3.4 0l3.4 -3.4M169.2 193.47l3.4 3.4m-3.4 0l3.4 -3.4M170.52 193.6l3.4 3.4m-3.4 0l3.4 -3.4M171.84 193.78l3.4 3.4m-3.4 0l3.4 -3.4M173.16 194l3.4 3.4m-3.4 0l3.4 -3.4M174.49 194.07l3.4 3.4m-3.4 0l3.4 -3.4M175.81 194.24l3.4 3.4m-3.4 0l3.4 -3.4M177.13 194.44l3.4 3.4m-3.4 0l3.4 -3.4M178.45 194.62l3.4 3.4m-3.4 0l3.4 -3.4M179.77 194.74l3.4 3.4m-3.4 0l3.4 -3.4M181.09 194.91l3.4 3.4m-3.4 0l3.4 -3.4M182.41 195.02l3.4 3.4m-3.4 0l3.4 -3.4M183.73 195.18l3.4 3.4m-3.4 0l3.4 -3.4M185.05 195.28l3.4 3.4m-3.4 0l3.4 -3.4M186.37 195.52l3.4 3.4m-3.4 0l3.4 -3.4M187.69 195.63l3.4 3.4m-3.4 0l3.4 -3.4M189.01 195.74l3.4 3.4m-3.4 0l3.4 -3.4M190.33 195.9l3.4 3.4m-3.4 0l3.4 -3.4M191.65 196.03l3.4 3.4m-3.4 0l3.4 -3.4M192.97 196.19l3.4 3.4m-3.4 0l3.4 -3.4M194.29 196.22l3.4 3.4m-3.4 0l3.4 -3.4M195.61 196.42l3.4 3.4m-3.4 0l3.4 -3.4M196.93 196.52l3.4 3.4m-3.4 0l3.4 -3.4M198.25 196.71l3.4 3.4m-3.4 0l3.4 -3.4M199.57 196.82l3.4 3.4m-3.4 0l3.4 -3.4M200.9 196.93l3.4 3.4m-3.4 0l3.4 -3.4M202.22 197l3.4 3.4m-3.4 0l3.4 -3.4M203.54 197.13l3.4 3.4m-3.4 0l3.4 -3.4M204.86 197.23l3.4 3.4m-3.4 0l3.4 -3.4M206.18 197.37l3.4 3.4m-3.4 0l3.4 -3.4M207.5 197.49l3.4 3.4m-3.4 0l3.4 -3.4M208.82 197.68l3.4 3.4m-3.4 0l3.4 -3.4M210.14 197.82l3.4 3.4m-3.4 0l3.4 -3.4M211.46 197.86l3.4 3.4m-3.4 0l3.4 -3.4M212.78 198.05l3.4 3.4m-3.4 0l3.4 -3.4M214.1 198.12l3.4 3.4m-3.4 0l3.4 -3.4" fill="none" stroke="#ff0000" stroke-width="0.75"/>
<g fill="none" stroke="#000" stroke-width="1.1" stroke-linejoin="round"><path d="M85.07 139.15L86.39 148.15L87.71 153.88L89.03 158.55L90.35 161.67L91.67 164.05L92.99 166.16L94.31 167.96L95.63 169.51L96.95 170.89L98.28 172.11L99.6 173.3L100.92 174.49L102.24 175.54L103.56 176.47L104.88 177.3L106.2 178.07L107.52 178.78L108.84 179.44L110.16 180.06L111.48 180.64L112.8 181.19L114.12 181.71L115.44 182.22L116.76 182.72L118.08 183.2L119.4 183.68L120.72 184.16L122.04 184.63L123.37 185.09L124.69 185.54L126.01 185.97L127.33 186.4L128.65 186.82L129.97 187.22L131.29 187.61L132.61 187.99L133.93 188.35L135.25 188.7L136.57 189.04L137.89 189.36L139.21 189.68L140.53 189.98L141.85 190.28L143.17 190.56L144.49 190.84L145.81 191.11L147.13 191.37L148.45 191.62L149.78 191.87L151.1 192.12L152.42 192.35L153.74 192.58L155.06 192.81L156.38 193.03L157.7 193.24L159.02 193.45L160.34 193.66L161.66 193.86L162.98 194.06L164.3 194.25L165.62 194.44L166.94 194.62L168.26 194.8L169.58 194.98L170.9 195.15L172.22 195.32L173.54 195.49L174.86 195.65L176.19 195.82L177.51 195.97L178.83 196.13L180.15 196.28L181.47 196.44L182.79 196.59L184.11 196.73L185.43 196.88L186.75 197.02L188.07 197.17L189.39 197.31L190.71 197.45L192.03 197.58L193.35 197.72L194.67 197.85L195.99 197.99L197.31 198.12L198.63 198.25L199.95 198.38L201.27 198.5L202.59 198.63L203.92 198.76L205.24 198.88L206.56 199L207.88 199.13L209.2 199.25L210.52 199.37L211.84 199.49L213.16 199.61L214.48 199.73L215.8 199.84" transform="translate(0 -0.25)"/><path d="M85.07 139.15L86.39 148.15L87.71 153.88L89.03 158.55L90.35 161.67L91.67 164.05L92.99 166.16L94.31 167.96L95.63 169.51L96.95 170.89L98.28 172.11L99.6 173.3L100.92 174.49L102.24 175.54L103.56 176.47L104.88 177.3L106.2 178.07L107.52 178.78L108.84 179.44L110.16 180.06L111.48 180.64L112.8 181.19L114.12 181.71L115.44 182.22L116.76 182.72L118.08 183.2L119.4 183.68L120.72 184.16L122.04 184.63L123.37 185.09L124.69 185.54L126.01 185.97L127.33 186.4L128.65 186.82L129.97 187.22L131.29 187.61L132.61 187.99L133.93 188.35L135.25 188.7L136.57 189.04L137.89 189.36L139.21 189.68L140.53 189.98L141.85 190.28L143.17 190.56L144.49 190.84L145.81 191.11L147.13 191.37L148.45 191.62L149.78 191.87L151.1 192.12L152.42 192.35L153.74 192.58L155.06 192.81L156.38 193.03L157.7 193.24L159.02 193.45L160.34 193.66L161.66 193.86L162.98 194.06L164.3 194.25L165.62 194.44L166.94 194.62L168.26 194.8L169.58 194.98L170.9 195.15L172.22 195.32L173.54 195.49L174.86 195.65L176.19 195.82L177.51 195.97L178.83 196.13L180.15 196.28L181.47 196.44L182.79 196.59L184.11 196.73L185.43 196.88L186.75 197.02L188.07 197.17L189.39 197.31L190.71 197.45L192.03 197.58L193.35 197.72L194.67 197.85L195.99 197.99L197.31 198.12L198.63 198.25L199.95 198.38L201.27 198.5L202.59 198.63L203.92 198.76L205.24 198.88L206.56 199L207.88 199.13L209.2 199.25L210.52 199.37L211.84 199.49L213.16 199.61L214.48 199.73L215.8 199.84" transform="translate(0 0.25)"/></g>
<path d="M83.17 139.15a1.9 1.9 0 1 0 3.8 0a1.9 1.9 0 1 0 -3.8 0zM84.49 148.15a1.9 1.9 0 1 0 3.8 0a1.9 1.9 0 1 0 -3.8 0zM85.81 153.76a1.9 1.9 0 1 0 3.8 0a1.9 1.9 0 1 0 -3.8 0zM87.13 158.07a1.9 1.9 0 1 0 3.8 0a1.9 1.9 0 1 0 -3.8 0zM88.45 160.72a1.9 1.9 0 1 0 3.8 0a1.9 1.9 0 1 0 -3.8 0zM89.77 162.72a1.9 1.9 0 1 0 3.8 0a1.9 1.9 0 1 0 -3.8 0zM91.09 164.28a1.9 1.9 0 1 0 3.8 0a1.9 1.9 0 1 0 -3.8 0zM92.41 165.67a1.9 1.9 0 1 0 3.8 0a1.9 1.9 0 1 0 -3.8 0zM93.73 166.75a1.9 1.9 0 1 0 3.8 0a1.9 1.9 0 1 0 -3.8 0zM95.05 167.59a1.9 1.9 0 1 0 3.8 0a1.9 1.9 0 1 0 -3.8 0zM96.38 168.29a1.9 1.9 0 1 0 3.8 0a1.9 1.9 0 1 0 -3.8 0zM97.7 169.09a1.9 1.9 0 1 0 3.8 0a1.9 1.9 0 1 0 -3.8 0zM99.02 169.89a1.9 1.9 0 1 0 3.8 0a1.9 1.9 0 1 0 -3.8 0zM100.34 170.54a1.9 1.9 0 1 0 3.8 0a1.9 1.9 0 1 0 -3.8 0zM101.66 171.04a1.9 1.9 0 1 0 3.8 0a1.9 1.9 0 1 0 -3.8 0zM102.98 171.42a1.9 1.9 0 1 0 3.8 0a1.9 1.9 0 1 0 -3.8 0zM104.3 171.77a1.9 1.9 0 1 0 3.8 0a1.9 1.9 0 1 0 -3.8 0zM105.62 172.05a1.9 1.9 0 1 0 3.8 0a1.9 1.9 0 1 0 -3.8 0zM106.94 172.3a1.9 1.9 0 1 0 3.8 0a1.9 1.9 0 1 0 -3.8 0zM108.26 172.51a1.9 1.9 0 1 0 3.8 0a1.9 1.9 0 1 0 -3.8 0zM109.58 172.7a1.9 1.9 0 1 0 3.8 0a1.9 1.9 0 1 0 -3.8 0zM110.9 172.86a1.9 1.9 0 1 0 3.8 0a1.9 1.9 0 1 0 -3.8 0zM112.22 173.04a1.9 1.9 0 1 0 3.8 0a1.9 1.9 0 1 0 -3.8 0zM113.54 173.15a1.9 1.9 0 1 0 3.8 0a1.9 1.9 0 1 0 -3.8 0zM114.86 173.29a1.9 1.9 0 1 0 3.8 0a1.9 1.9 0 1 0 -3.8 0zM116.18 173.44a1.9 1.9 0 1 0 3.8 0a1.9 1.9 0 1 0 -3.8 0zM117.5 173.5a1.9 1.9 0 1 0 3.8 0a1.9 1.9 0 1 0 -3.8 0zM118.82 173.6a1.9 1.9 0 1 0 3.8 0a1.9 1.9 0 1 0 -3.8 0zM120.14 173.67a1.9 1.9 0 1 0 3.8 0a1.9 1.9 0 1 0 -3.8 0zM121.47 173.75a1.9 1.9 0 1 0 3.8 0a1.9 1.9 0 1 0 -3.8 0zM122.79 173.81a1.9 1.9 0 1 0 3.8 0a1.9 1.9 0 1 0 -3.8 0zM124.11 173.83a1.9 1.9 0 1 0 3.8 0a1.9 1.9 0 1 0 -3.8 0zM125.43 173.9a1.9 1.9 0 1 0 3.8 0a1.9 1.9 0 1 0 -3.8 0zM126.75 173.97a1.9 1.9 0 1 0 3.8 0a1.9 1.9 0 1 0 -3.8 0zM128.07 174.02a1.9 1.9 0 1 0 3.8 0a1.9 1.9 0 1 0 -3.8 0zM129.39 174.06a1.9 1.9 0 1 0 3.8 0a1.9 1.9 0 1 0 -3.8 0zM130.71 174.1a1.9 1.9 0 1 0 3.8 0a1.9 1.9 0 1 0 -3.8 0zM132.03 174.11a1.9 1.9 0 1 0 3.8 0a1.9 1.9 0 1 0 -3.8 0zM133.35 174.14a1.9 1.9 0 1 0 3.8 0a1.9 1.9 0 1 0 -3.8 0zM134.67 174.2a1.9 1.9 0 1 0 3.8 0a1.9 1.9 0 1 0 -3.8 0zM135.99 174.2a1.9 1.9 0 1 0 3.8 0a1.9 1.9 0 1 0 -3.8 0zM137.31 174.23a1.9 1.9 0 1 0 3.8 0a1.9 1.9 0 1 0 -3.8 0zM138.63 174.25a1.9 1.9 0 1 0 3.8 0a1.9 1.9 0 1 0 -3.8 0zM139.95 174.26a1.9 1.9 0 1 0 3.8 0a1.9 1.9 0 1 0 -3.8 0zM141.27 174.3a1.9 1.9 0 1 0 3.8 0a1.9 1.9 0 1 0 -3.8 0zM142.59 174.32a1.9 1.9 0 1 0 3.8 0a1.9 1.9 0 1 0 -3.8 0zM143.91 174.33a1.9 1.9 0 1 0 3.8 0a1.9 1.9 0 1 0 -3.8 0zM145.23 174.36a1.9 1.9 0 1 0 3.8 0a1.9 1.9 0 1 0 -3.8 0zM146.55 174.37a1.9 1.9 0 1 0 3.8 0a1.9 1.9 0 1 0 -3.8 0zM147.88 174.37a1.9 1.9 0 1 0 3.8 0a1.9 1.9 0 1 0 -3.8 0zM149.2 174.42a1.9 1.9 0 1 0 3.8 0a1.9 1.9 0 1 0 -3.8 0zM150.52 174.4a1.9 1.9 0 1 0 3.8 0a1.9 1.9 0 1 0 -3.8 0zM151.84 174.42a1.9 1.9 0 1 0 3.8 0a1.9 1.9 0 1 0 -3.8 0zM153.16 174.47a1.9 1.9 0 1 0 3.8 0a1.9 1.9 0 1 0 -3.8 0zM154.48 174.48a1.9 1.9 0 1 0 3.8 0a1.9 1.9 0 1 0 -3.8 0zM155.8 174.53a1.9 1.9 0 1 0 3.8 0a1.9 1.9 0 1 0 -3.8 0zM157.12 174.54a1.9 1.9 0 1 0 3.8 0a1.9 1.9 0 1 0 -3.8 0zM158.44 174.57a1.9 1.9 0 1 0 3.8 0a1.9 1.9 0 1 0 -3.8 0zM159.76 174.6a1.9 1.9 0 1 0 3.8 0a1.9 1.9 0 1 0 -3.8 0zM161.08 174.6a1.9 1.9 0 1 0 3.8 0a1.9 1.9 0 1 0 -3.8 0zM162.4 174.64a1.9 1.9 0 1 0 3.8 0a1.9 1.9 0 1 0 -3.8 0zM163.72 174.66a1.9 1.9 0 1 0 3.8 0a1.9 1.9 0 1 0 -3.8 0zM165.04 174.73a1.9 1.9 0 1 0 3.8 0a1.9 1.9 0 1 0 -3.8 0zM166.36 174.74a1.9 1.9 0 1 0 3.8 0a1.9 1.9 0 1 0 -3.8 0zM167.68 174.78a1.9 1.9 0 1 0 3.8 0a1.9 1.9 0 1 0 -3.8 0zM169 174.83a1.9 1.9 0 1 0 3.8 0a1.9 1.9 0 1 0 -3.8 0zM170.32 174.82a1.9 1.9 0 1 0 3.8 0a1.9 1.9 0 1 0 -3.8 0zM171.64 174.87a1.9 1.9 0 1 0 3.8 0a1.9 1.9 0 1 0 -3.8 0zM172.96 174.9a1.9 1.9 0 1 0 3.8 0a1.9 1.9 0 1 0 -3.8 0zM174.28 174.92a1.9 1.9 0 1 0 3.8 0a1.9 1.9 0 1 0 -3.8 0zM175.61 174.98a1.9 1.9 0 1 0 3.8 0a1.9 1.9 0 1 0 -3.8 0zM176.93 174.99a1.9 1.9 0 1 0 3.8 0a1.9 1.9 0 1 0 -3.8 0zM178.25 175.08a1.9 1.9 0 1 0 3.8 0a1.9 1.9 0 1 0 -3.8 0zM179.57 175.07a1.9 1.9 0 1 0 3.8 0a1.9 1.9 0 1 0 -3.8 0zM180.89 175.12a1.9 1.9 0 1 0 3.8 0a1.9 1.9 0 1 0 -3.8 0zM182.21 175.19a1.9 1.9 0 1 0 3.8 0a1.9 1.9 0 1 0 -3.8 0zM183.53 175.24a1.9 1.9 0 1 0 3.8 0a1.9 1.9 0 1 0 -3.8 0zM184.85 175.22a1.9 1.9 0 1 0 3.8 0a1.9 1.9 0 1 0 -3.8 0zM186.17 175.32a1.9 1.9 0 1 0 3.8 0a1.9 1.9 0 1 0 -3.8 0zM187.49 175.34a1.9 1.9 0 1 0 3.8 0a1.9 1.9 0 1 0 -3.8 0zM188.81 175.4a1.9 1.9 0 1 0 3.8 0a1.9 1.9 0 1 0 -3.8 0zM190.13 175.46a1.9 1.9 0 1 0 3.8 0a1.9 1.9 0 1 0 -3.8 0zM191.45 175.52a1.9 1.9 0 1 0 3.8 0a1.9 1.9 0 1 0 -3.8 0zM192.77 175.6a1.9 1.9 0 1 0 3.8 0a1.9 1.9 0 1 0 -3.8 0zM194.09 175.66a1.9 1.9 0 1 0 3.8 0a1.9 1.9 0 1 0 -3.8 0zM195.41 175.72a1.9 1.9 0 1 0 3.8 0a1.9 1.9 0 1 0 -3.8 0zM196.73 175.76a1.9 1.9 0 1 0 3.8 0a1.9 1.9 0 1 0 -3.8 0zM198.05 175.87a1.9 1.9 0 1 0 3.8 0a1.9 1.9 0 1 0 -3.8 0zM199.37 175.93a1.9 1.9 0 1 0 3.8 0a1.9 1.9 0 1 0 -3.8 0zM200.69 175.98a1.9 1.9 0 1 0 3.8 0a1.9 1.9 0 1 0 -3.8 0zM202.02 176.06a1.9 1.9 0 1 0 3.8 0a1.9 1.9 0 1 0 -3.8 0zM203.34 176.14a1.9 1.9 0 1 0 3.8 0a1.9 1.9 0 1 0 -3.8 0zM204.66 176.22a1.9 1.9 0 1 0 3.8 0a1.9 1.9 0 1 0 -3.8 0zM205.98 176.3a1.9 1.9 0 1 0 3.8 0a1.9 1.9 0 1 0 -3.8 0zM207.3 176.36a1.9 1.9 0 1 0 3.8 0a1.9 1.9 0 1 0 -3.8 0zM208.62 176.44a1.9 1.9 0 1 0 3.8 0a1.9 1.9 0 1 0 -3.8 0zM209.94 176.51a1.9 1.9 0 1 0 3.8 0a1.9 1.9 0 1 0 -3.8 0zM211.26 176.59a1.9 1.9 0 1 0 3.8 0a1.9 1.9 0 1 0 -3.8 0zM212.58 176.67a1.9 1.9 0 1 0 3.8 0a1.9 1.9 0 1 0 -3.8 0zM213.9 176.7a1.9 1.9 0 1 0 3.8 0a1.9 1.9 0 1 0 -3.8 0z" fill="#00f400" stroke="none"/>
<g fill="none" stroke="#000" stroke-width="1.1" stroke-linejoin="round"><path d="M85.07 139.15L86.39 148.15L87.71 153.75L89.03 158.07L90.35 160.72L91.67 162.72L92.99 164.29L94.31 165.68L95.63 166.75L96.95 167.58L98.28 168.29L99.6 169.07L100.92 169.89L102.24 170.55L103.56 171.04L104.88 171.44L106.2 171.77L107.52 172.05L108.84 172.29L110.16 172.51L111.48 172.7L112.8 172.88L114.12 173.04L115.44 173.18L116.76 173.3L118.08 173.41L119.4 173.5L120.72 173.59L122.04 173.67L123.37 173.74L124.69 173.8L126.01 173.86L127.33 173.92L128.65 173.96L129.97 174.01L131.29 174.05L132.61 174.09L133.93 174.12L135.25 174.15L136.57 174.18L137.89 174.21L139.21 174.23L140.53 174.25L141.85 174.27L143.17 174.29L144.49 174.31L145.81 174.33L147.13 174.35L148.45 174.36L149.78 174.38L151.1 174.4L152.42 174.42L153.74 174.44L155.06 174.47L156.38 174.49L157.7 174.51L159.02 174.54L160.34 174.56L161.66 174.59L162.98 174.62L164.3 174.65L165.62 174.68L166.94 174.71L168.26 174.74L169.58 174.77L170.9 174.8L172.22 174.84L173.54 174.87L174.86 174.9L176.19 174.94L177.51 174.98L178.83 175.01L180.15 175.05L181.47 175.09L182.79 175.13L184.11 175.18L185.43 175.22L186.75 175.26L188.07 175.31L189.39 175.36L190.71 175.41L192.03 175.47L193.35 175.52L194.67 175.58L195.99 175.64L197.31 175.71L198.63 175.77L199.95 175.84L201.27 175.91L202.59 175.98L203.92 176.06L205.24 176.13L206.56 176.2L207.88 176.28L209.2 176.35L210.52 176.42L211.84 176.5L213.16 176.57L214.48 176.65L215.8 176.72" transform="translate(0 -0.25)"/><path d="M85.07 139.15L86.39 148.15L87.71 153.75L89.03 158.07L90.35 160.72L91.67 162.72L92.99 164.29L94.31 165.68L95.63 166.75L96.95 167.58L98.28 168.29L99.6 169.07L100.92 169.89L102.24 170.55L103.56 171.04L104.88 171.44L106.2 171.77L107.52 172.05L108.84 172.29L110.16 172.51L111.48 172.7L112.8 172.88L114.12 173.04L115.44 173.18L116.76 173.3L118.08 173.41L119.4 173.5L120.72 173.59L122.04 173.67L123.37 173.74L124.69 173.8L126.01 173.86L127.33 173.92L128.65 173.96L129.97 174.01L131.29 174.05L132.61 174.09L133.93 174.12L135.25 174.15L136.57 174.18L137.89 174.21L139.21 174.23L140.53 174.25L141.85 174.27L143.17 174.29L144.49 174.31L145.81 174.33L147.13 174.35L148.45 174.36L149.78 174.38L151.1 174.4L152.42 174.42L153.74 174.44L155.06 174.47L156.38 174.49L157.7 174.51L159.02 174.54L160.34 174.56L161.66 174.59L162.98 174.62L164.3 174.65L165.62 174.68L166.94 174.71L168.26 174.74L169.58 174.77L170.9 174.8L172.22 174.84L173.54 174.87L174.86 174.9L176.19 174.94L177.51 174.98L178.83 175.01L180.15 175.05L181.47 175.09L182.79 175.13L184.11 175.18L185.43 175.22L186.75 175.26L188.07 175.31L189.39 175.36L190.71 175.41L192.03 175.47L193.35 175.52L194.67 175.58L195.99 175.64L197.31 175.71L198.63 175.77L199.95 175.84L201.27 175.91L202.59 175.98L203.92 176.06L205.24 176.13L206.56 176.2L207.88 176.28L209.2 176.35L210.52 176.42L211.84 176.5L213.16 176.57L214.48 176.65L215.8 176.72" transform="translate(0 0.25)"/></g>
<path d="M85.07 136.05l2.65 4.9h-5.3zM86.39 144.95l2.65 4.9h-5.3zM87.71 150.14l2.65 4.9h-5.3zM89.03 152.59l2.65 4.9h-5.3zM90.35 154.37l2.65 4.9h-5.3zM91.67 155.95l2.65 4.9h-5.3zM92.99 157.28l2.65 4.9h-5.3zM94.31 158.39l2.65 4.9h-5.3zM95.63 159.14l2.65 4.9h-5.3zM96.95 159.74l2.65 4.9h-5.3zM98.28 160.18l2.65 4.9h-5.3zM99.6 160.47l2.65 4.9h-5.3zM100.92 160.75l2.65 4.9h-5.3zM102.24 160.91l2.65 4.9h-5.3zM103.56 161.02l2.65 4.9h-5.3zM104.88 161.11l2.65 4.9h-5.3zM106.2 161.18l2.65 4.9h-5.3zM107.52 161.21l2.65 4.9h-5.3zM108.84 161.25l2.65 4.9h-5.3zM110.16 161.3l2.65 4.9h-5.3zM111.48 161.29l2.65 4.9h-5.3zM112.8 161.3l2.65 4.9h-5.3zM114.12 161.29l2.65 4.9h-5.3zM115.44 161.22l2.65 4.9h-5.3zM116.76 161.16l2.65 4.9h-5.3zM118.08 161.07l2.65 4.9h-5.3zM119.4 160.95l2.65 4.9h-5.3zM120.72 160.83l2.65 4.9h-5.3zM122.04 160.72l2.65 4.9h-5.3zM123.37 160.6l2.65 4.9h-5.3zM124.69 160.46l2.65 4.9h-5.3zM126.01 160.34l2.65 4.9h-5.3zM127.33 160.21l2.65 4.9h-5.3zM128.65 160.1l2.65 4.9h-5.3zM129.97 159.98l2.65 4.9h-5.3zM131.29 159.86l2.65 4.9h-5.3zM132.61 159.7l2.65 4.9h-5.3zM133.93 159.58l2.65 4.9h-5.3zM135.25 159.45l2.65 4.9h-5.3zM136.57 159.31l2.65 4.9h-5.3zM137.89 159.18l2.65 4.9h-5.3zM139.21 159.07l2.65 4.9h-5.3zM140.53 158.94l2.65 4.9h-5.3zM141.85 158.81l2.65 4.9h-5.3zM143.17 158.7l2.65 4.9h-5.3zM144.49 158.59l2.65 4.9h-5.3zM145.81 158.49l2.65 4.9h-5.3zM147.13 158.38l2.65 4.9h-5.3zM148.45 158.32l2.65 4.9h-5.3zM149.78 158.25l2.65 4.9h-5.3zM151.1 158.19l2.65 4.9h-5.3zM152.42 158.16l2.65 4.9h-5.3zM153.74 158.17l2.65 4.9h-5.3zM155.06 158.16l2.65 4.9h-5.3zM156.38 158.17l2.65 4.9h-5.3zM157.7 158.2l2.65 4.9h-5.3zM159.02 158.25l2.65 4.9h-5.3zM160.34 158.31l2.65 4.9h-5.3zM161.66 158.38l2.65 4.9h-5.3zM162.98 158.47l2.65 4.9h-5.3zM164.3 158.57l2.65 4.9h-5.3zM165.62 158.66l2.65 4.9h-5.3zM166.94 158.8l2.65 4.9h-5.3zM168.26 158.93l2.65 4.9h-5.3zM169.58 159.07l2.65 4.9h-5.3zM170.9 159.22l2.65 4.9h-5.3zM172.22 159.36l2.65 4.9h-5.3zM173.54 159.53l2.65 4.9h-5.3zM174.86 159.68l2.65 4.9h-5.3zM176.19 159.84l2.65 4.9h-5.3zM177.51 160.02l2.65 4.9h-5.3zM178.83 160.18l2.65 4.9h-5.3zM180.15 160.38l2.65 4.9h-5.3zM181.47 160.56l2.65 4.9h-5.3zM182.79 160.78l2.65 4.9h-5.3zM184.11 160.98l2.65 4.9h-5.3zM185.43 161.2l2.65 4.9h-5.3zM186.75 161.46l2.65 4.9h-5.3zM188.07 161.74l2.65 4.9h-5.3zM189.39 162l2.65 4.9h-5.3zM190.71 162.28l2.65 4.9h-5.3zM192.03 162.59l2.65 4.9h-5.3zM193.35 162.93l2.65 4.9h-5.3zM194.67 163.24l2.65 4.9h-5.3zM195.99 163.58l2.65 4.9h-5.3zM197.31 163.94l2.65 4.9h-5.3zM198.63 164.27l2.65 4.9h-5.3zM199.95 164.62l2.65 4.9h-5.3zM201.27 164.99l2.65 4.9h-5.3zM202.59 165.35l2.65 4.9h-5.3zM203.92 165.69l2.65 4.9h-5.3zM205.24 166.09l2.65 4.9h-5.3zM206.56 166.45l2.65 4.9h-5.3zM207.88 166.81l2.65 4.9h-5.3zM209.2 167.21l2.65 4.9h-5.3zM210.52 167.63l2.65 4.9h-5.3zM211.84 168.01l2.65 4.9h-5.3zM213.16 168.47l2.65 4.9h-5.3zM214.48 168.87l2.65 4.9h-5.3zM215.8 169.29l2.65 4.9h-5.3z" fill="#ffa500" stroke="none"/>
<g fill="none" stroke="#000" stroke-width="1.1" stroke-linejoin="round"><path d="M85.07 139.15L86.39 148.04L87.71 153.22L89.03 155.69L90.35 157.47L91.67 159.05L92.99 160.39L94.31 161.48L95.63 162.25L96.95 162.84L98.28 163.27L99.6 163.58L100.92 163.83L102.24 164.01L103.56 164.12L104.88 164.2L106.2 164.27L107.52 164.32L108.84 164.36L110.16 164.39L111.48 164.41L112.8 164.4L114.12 164.38L115.44 164.33L116.76 164.25L118.08 164.16L119.4 164.05L120.72 163.94L122.04 163.82L123.37 163.69L124.69 163.57L126.01 163.44L127.33 163.32L128.65 163.2L129.97 163.08L131.29 162.95L132.61 162.82L133.93 162.68L135.25 162.55L136.57 162.42L137.89 162.29L139.21 162.16L140.53 162.04L141.85 161.92L143.17 161.8L144.49 161.69L145.81 161.58L147.13 161.49L148.45 161.41L149.78 161.35L151.1 161.3L152.42 161.27L153.74 161.25L155.06 161.26L156.38 161.27L157.7 161.3L159.02 161.35L160.34 161.41L161.66 161.48L162.98 161.57L164.3 161.67L165.62 161.78L166.94 161.9L168.26 162.03L169.58 162.17L170.9 162.32L172.22 162.47L173.54 162.63L174.86 162.79L176.19 162.95L177.51 163.12L178.83 163.29L180.15 163.47L181.47 163.67L182.79 163.87L184.11 164.08L185.43 164.31L186.75 164.55L188.07 164.81L189.39 165.09L190.71 165.38L192.03 165.69L193.35 166.01L194.67 166.34L195.99 166.67L197.31 167.02L198.63 167.37L199.95 167.72L201.27 168.08L202.59 168.44L203.92 168.8L205.24 169.17L206.56 169.55L207.88 169.93L209.2 170.31L210.52 170.71L211.84 171.11L213.16 171.53L214.48 171.96L215.8 172.4" transform="translate(0 -0.25)"/><path d="M85.07 139.15L86.39 148.04L87.71 153.22L89.03 155.69L90.35 157.47L91.67 159.05L92.99 160.39L94.31 161.48L95.63 162.25L96.95 162.84L98.28 163.27L99.6 163.58L100.92 163.83L102.24 164.01L103.56 164.12L104.88 164.2L106.2 164.27L107.52 164.32L108.84 164.36L110.16 164.39L111.48 164.41L112.8 164.4L114.12 164.38L115.44 164.33L116.76 164.25L118.08 164.16L119.4 164.05L120.72 163.94L122.04 163.82L123.37 163.69L124.69 163.57L126.01 163.44L127.33 163.32L128.65 163.2L129.97 163.08L131.29 162.95L132.61 162.82L133.93 162.68L135.25 162.55L136.57 162.42L137.89 162.29L139.21 162.16L140.53 162.04L141.85 161.92L143.17 161.8L144.49 161.69L145.81 161.58L147.13 161.49L148.45 161.41L149.78 161.35L151.1 161.3L152.42 161.27L153.74 161.25L155.06 161.26L156.38 161.27L157.7 161.3L159.02 161.35L160.34 161.41L161.66 161.48L162.98 161.57L164.3 161.67L165.62 161.78L166.94 161.9L168.26 162.03L169.58 162.17L170.9 162.32L172.22 162.47L173.54 162.63L174.86 162.79L176.19 162.95L177.51 163.12L178.83 163.29L180.15 163.47L181.47 163.67L182.79 163.87L184.11 164.08L185.43 164.31L186.75 164.55L188.07 164.81L189.39 165.09L190.71 165.38L192.03 165.69L193.35 166.01L194.67 166.34L195.99 166.67L197.31 167.02L198.63 167.37L199.95 167.72L201.27 168.08L202.59 168.44L203.92 168.8L205.24 169.17L206.56 169.55L207.88 169.93L209.2 170.31L210.52 170.71L211.84 171.11L213.16 171.53L214.48 171.96L215.8 172.4" transform="translate(0 0.25)"/></g>
<path d="M83.12 139.15a1.95 1.95 0 1 0 3.9 0a1.95 1.95 0 1 0 -3.9 0zM84.44 144.25a1.95 1.95 0 1 0 3.9 0a1.95 1.95 0 1 0 -3.9 0zM85.76 146.96a1.95 1.95 0 1 0 3.9 0a1.95 1.95 0 1 0 -3.9 0zM87.08 147.77a1.95 1.95 0 1 0 3.9 0a1.95 1.95 0 1 0 -3.9 0zM88.4 147.53a1.95 1.95 0 1 0 3.9 0a1.95 1.95 0 1 0 -3.9 0zM89.72 146.8a1.95 1.95 0 1 0 3.9 0a1.95 1.95 0 1 0 -3.9 0zM91.04 145.69a1.95 1.95 0 1 0 3.9 0a1.95 1.95 0 1 0 -3.9 0zM92.36 144.68a1.95 1.95 0 1 0 3.9 0a1.95 1.95 0 1 0 -3.9 0zM93.68 143.66a1.95 1.95 0 1 0 3.9 0a1.95 1.95 0 1 0 -3.9 0zM95 142.67a1.95 1.95 0 1 0 3.9 0a1.95 1.95 0 1 0 -3.9 0zM96.33 141.38a1.95 1.95 0 1 0 3.9 0a1.95 1.95 0 1 0 -3.9 0zM97.65 139.68a1.95 1.95 0 1 0 3.9 0a1.95 1.95 0 1 0 -3.9 0zM98.97 138.27a1.95 1.95 0 1 0 3.9 0a1.95 1.95 0 1 0 -3.9 0zM100.29 137.13a1.95 1.95 0 1 0 3.9 0a1.95 1.95 0 1 0 -3.9 0zM101.61 136.13a1.95 1.95 0 1 0 3.9 0a1.95 1.95 0 1 0 -3.9 0zM102.93 135.28a1.95 1.95 0 1 0 3.9 0a1.95 1.95 0 1 0 -3.9 0zM104.25 134.57a1.95 1.95 0 1 0 3.9 0a1.95 1.95 0 1 0 -3.9 0zM105.57 134.03a1.95 1.95 0 1 0 3.9 0a1.95 1.95 0 1 0 -3.9 0zM106.89 133.6a1.95 1.95 0 1 0 3.9 0a1.95 1.95 0 1 0 -3.9 0zM108.21 133.27a1.95 1.95 0 1 0 3.9 0a1.95 1.95 0 1 0 -3.9 0zM109.53 133a1.95 1.95 0 1 0 3.9 0a1.95 1.95 0 1 0 -3.9 0zM110.85 132.82a1.95 1.95 0 1 0 3.9 0a1.95 1.95 0 1 0 -3.9 0zM112.17 132.69a1.95 1.95 0 1 0 3.9 0a1.95 1.95 0 1 0 -3.9 0zM113.49 132.66a1.95 1.95 0 1 0 3.9 0a1.95 1.95 0 1 0 -3.9 0zM114.81 132.76a1.95 1.95 0 1 0 3.9 0a1.95 1.95 0 1 0 -3.9 0zM116.13 133a1.95 1.95 0 1 0 3.9 0a1.95 1.95 0 1 0 -3.9 0zM117.45 133.36a1.95 1.95 0 1 0 3.9 0a1.95 1.95 0 1 0 -3.9 0zM118.77 133.82a1.95 1.95 0 1 0 3.9 0a1.95 1.95 0 1 0 -3.9 0zM120.09 134.37a1.95 1.95 0 1 0 3.9 0a1.95 1.95 0 1 0 -3.9 0zM121.42 135a1.95 1.95 0 1 0 3.9 0a1.95 1.95 0 1 0 -3.9 0zM122.74 135.76a1.95 1.95 0 1 0 3.9 0a1.95 1.95 0 1 0 -3.9 0zM124.06 136.66a1.95 1.95 0 1 0 3.9 0a1.95 1.95 0 1 0 -3.9 0zM125.38 137.71a1.95 1.95 0 1 0 3.9 0a1.95 1.95 0 1 0 -3.9 0zM126.7 138.92a1.95 1.95 0 1 0 3.9 0a1.95 1.95 0 1 0 -3.9 0zM128.02 140.27a1.95 1.95 0 1 0 3.9 0a1.95 1.95 0 1 0 -3.9 0zM129.34 141.72a1.95 1.95 0 1 0 3.9 0a1.95 1.95 0 1 0 -3.9 0zM130.66 143.27a1.95 1.95 0 1 0 3.9 0a1.95 1.95 0 1 0 -3.9 0zM131.98 144.93a1.95 1.95 0 1 0 3.9 0a1.95 1.95 0 1 0 -3.9 0zM133.3 146.69a1.95 1.95 0 1 0 3.9 0a1.95 1.95 0 1 0 -3.9 0zM134.62 148.58a1.95 1.95 0 1 0 3.9 0a1.95 1.95 0 1 0 -3.9 0zM135.94 150.57a1.95 1.95 0 1 0 3.9 0a1.95 1.95 0 1 0 -3.9 0zM137.26 152.73a1.95 1.95 0 1 0 3.9 0a1.95 1.95 0 1 0 -3.9 0zM138.58 155.03a1.95 1.95 0 1 0 3.9 0a1.95 1.95 0 1 0 -3.9 0zM139.9 157.5a1.95 1.95 0 1 0 3.9 0a1.95 1.95 0 1 0 -3.9 0zM141.22 160.13a1.95 1.95 0 1 0 3.9 0a1.95 1.95 0 1 0 -3.9 0zM142.54 162.96a1.95 1.95 0 1 0 3.9 0a1.95 1.95 0 1 0 -3.9 0zM143.86 165.91a1.95 1.95 0 1 0 3.9 0a1.95 1.95 0 1 0 -3.9 0zM145.18 168.96a1.95 1.95 0 1 0 3.9 0a1.95 1.95 0 1 0 -3.9 0zM146.5 172.09a1.95 1.95 0 1 0 3.9 0a1.95 1.95 0 1 0 -3.9 0zM147.83 175.3a1.95 1.95 0 1 0 3.9 0a1.95 1.95 0 1 0 -3.9 0zM149.15 178.42a1.95 1.95 0 1 0 3.9 0a1.95 1.95 0 1 0 -3.9 0zM150.47 181.42a1.95 1.95 0 1 0 3.9 0a1.95 1.95 0 1 0 -3.9 0zM151.79 184.4a1.95 1.95 0 1 0 3.9 0a1.95 1.95 0 1 0 -3.9 0zM153.11 187.47a1.95 1.95 0 1 0 3.9 0a1.95 1.95 0 1 0 -3.9 0zM154.43 191.23a1.95 1.95 0 1 0 3.9 0a1.95 1.95 0 1 0 -3.9 0zM155.75 196.16a1.95 1.95 0 1 0 3.9 0a1.95 1.95 0 1 0 -3.9 0zM157.07 201.76a1.95 1.95 0 1 0 3.9 0a1.95 1.95 0 1 0 -3.9 0z" fill="none" stroke="#0000ff" stroke-width="0.5"/>
<g fill="none" stroke="#000" stroke-width="1.1" stroke-linejoin="round"><path d="M85.07 139.15L86.39 144.25L87.71 146.96L89.03 147.77L90.35 147.54L91.67 146.8L92.99 145.69L94.31 144.68L95.63 143.65L96.95 142.66L98.28 141.37L99.6 139.68L100.92 138.27L102.24 137.13L103.56 136.14L104.88 135.28L106.2 134.57L107.52 134.02L108.84 133.6L110.16 133.26L111.48 133L112.8 132.81L114.12 132.69L115.44 132.66L116.76 132.76L118.08 133L119.4 133.36L120.72 133.82L122.04 134.37L123.37 135.01L124.69 135.76L126.01 136.66L127.33 137.72L128.65 138.93L129.97 140.27L131.29 141.72L132.61 143.27L133.93 144.93L135.25 146.69L136.57 148.57L137.89 150.58L139.21 152.73L140.53 155.03L141.85 157.5L143.17 160.14L144.49 162.94L145.81 165.9L147.13 168.96L148.45 172.09L149.78 175.28L151.1 178.44L152.42 181.46L153.74 184.38L155.06 187.46L156.38 191.19L157.7 196.14L159.02 201.75L160.34 206.64L161.66 210.89L162.98 214.89" transform="translate(0 -0.25)"/><path d="M85.07 139.15L86.39 144.25L87.71 146.96L89.03 147.77L90.35 147.54L91.67 146.8L92.99 145.69L94.31 144.68L95.63 143.65L96.95 142.66L98.28 141.37L99.6 139.68L100.92 138.27L102.24 137.13L103.56 136.14L104.88 135.28L106.2 134.57L107.52 134.02L108.84 133.6L110.16 133.26L111.48 133L112.8 132.81L114.12 132.69L115.44 132.66L116.76 132.76L118.08 133L119.4 133.36L120.72 133.82L122.04 134.37L123.37 135.01L124.69 135.76L126.01 136.66L127.33 137.72L128.65 138.93L129.97 140.27L131.29 141.72L132.61 143.27L133.93 144.93L135.25 146.69L136.57 148.57L137.89 150.58L139.21 152.73L140.53 155.03L141.85 157.5L143.17 160.14L144.49 162.94L145.81 165.9L147.13 168.96L148.45 172.09L149.78 175.28L151.1 178.44L152.42 181.46L153.74 184.38L155.06 187.46L156.38 191.19L157.7 196.14L159.02 201.75L160.34 206.64L161.66 210.89L162.98 214.89" transform="translate(0 0.25)"/></g>
</g>
<path d="M83.75 203.1h3.4M215.8 203.1h-3.4M83.75 193.5h1.7M215.8 193.5h-1.7M83.75 187.88h1.7M215.8 187.88h-1.7M83.75 183.89h1.7M215.8 183.89h-1.7M83.75 180.8h1.7M215.8 180.8h-1.7M83.75 178.28h1.7M215.8 178.28h-1.7M83.75 176.14h1.7M215.8 176.14h-1.7M83.75 174.29h1.7M215.8 174.29h-1.7M83.75 172.66h1.7M215.8 172.66h-1.7M83.75 171.2h3.4M215.8 171.2h-3.4M83.75 161.6h1.7M215.8 161.6h-1.7M83.75 155.98h1.7M215.8 155.98h-1.7M83.75 151.99h1.7M215.8 151.99h-1.7M83.75 148.9h1.7M215.8 148.9h-1.7M83.75 146.38h1.7M215.8 146.38h-1.7M83.75 144.24h1.7M215.8 144.24h-1.7M83.75 142.39h1.7M215.8 142.39h-1.7M83.75 140.76h1.7M215.8 140.76h-1.7M83.75 139.3h3.4M215.8 139.3h-3.4M83.75 129.7h1.7M215.8 129.7h-1.7M83.75 124.08h1.7M215.8 124.08h-1.7M83.75 120.09h1.7M215.8 120.09h-1.7M83.75 117h1.7M215.8 117h-1.7M83.75 114.48h1.7M215.8 114.48h-1.7M83.75 112.34h1.7M215.8 112.34h-1.7M83.75 110.49h1.7M215.8 110.49h-1.7M83.75 108.86h1.7M215.8 108.86h-1.7M83.75 107.4h3.4M215.8 107.4h-3.4M83.75 203.1v-3.4M83.75 107.4v3.4M149.78 203.1v-3.4M149.78 107.4v3.4M215.8 203.1v-3.4M215.8 107.4v3.4" stroke="#000" stroke-width="0.7" fill="none"/>
<rect x="83.75" y="107.4" width="132.05" height="95.7" fill="none" stroke="#000" stroke-width="1"/>
<text transform="matrix(0.5 0.0015 0 0.5 46.5 234.2)" font-size="22" text-anchor="end">10<tspan font-size="19.0" dy="-12">-6</tspan></text>
<text transform="matrix(0.5 0.0015 0 0.5 46.5 207.27)" font-size="22" text-anchor="end">10<tspan font-size="19.0" dy="-12">-5</tspan></text>
<text transform="matrix(0.5 0.0015 0 0.5 46.5 180.35)" font-size="22" text-anchor="end">10<tspan font-size="19.0" dy="-12">-4</tspan></text>
<text transform="matrix(0.5 0.0015 0 0.5 46.5 153.42)" font-size="22" text-anchor="end">10<tspan font-size="19.0" dy="-12">-3</tspan></text>
<text transform="matrix(0.5 0.0015 0 0.5 46.5 126.5)" font-size="22" text-anchor="end">10<tspan font-size="19.0" dy="-12">-2</tspan></text>
<text transform="matrix(0.5 0.0015 0 0.5 46.5 99.58)" font-size="22" text-anchor="end">10<tspan font-size="19.0" dy="-12">-1</tspan></text>
<text transform="matrix(0.5 0.0015 0 0.5 46.5 72.65)" font-size="22" text-anchor="end">10<tspan font-size="19.0" dy="-12">0</tspan></text>
<text transform="matrix(0.5 0.0015 0 0.5 46.5 45.73)" font-size="22" text-anchor="end">10<tspan font-size="19.0" dy="-12">1</tspan></text>
<text transform="matrix(0.5 0.0015 0 0.5 46.5 18.8)" font-size="22" text-anchor="end">10<tspan font-size="19.0" dy="-12">2</tspan></text>
<text transform="matrix(0.5 0.0015 0 0.5 53.8 246.4)" font-size="22" text-anchor="middle">10<tspan font-size="19.0" dy="-12">0</tspan></text>
<text transform="matrix(0.5 0.0015 0 0.5 153.43 246.4)" font-size="22" text-anchor="middle">10<tspan font-size="19.0" dy="-12">1</tspan></text>
<text transform="matrix(0.5 0.0015 0 0.5 253.05 246.4)" font-size="22" text-anchor="middle">10<tspan font-size="19.0" dy="-12">2</tspan></text>
<text transform="matrix(0.5 0.0015 0 0.5 352.68 246.4)" font-size="22" text-anchor="middle">10<tspan font-size="19.0" dy="-12">3</tspan></text>
<text transform="matrix(0.5 0.0015 0 0.5 452.3 246.4)" font-size="22" text-anchor="middle">10<tspan font-size="19.0" dy="-12">4</tspan></text>
<text transform="matrix(0.5 0.0015 0 0.5 77.3 207.5)" font-size="22" text-anchor="end">10<tspan font-size="19.0" dy="-12">-1</tspan></text>
<text transform="matrix(0.5 0.0015 0 0.5 77.3 175.6)" font-size="22" text-anchor="end">10<tspan font-size="19.0" dy="-12">0</tspan></text>
<text transform="matrix(0.5 0.0015 0 0.5 77.3 143.7)" font-size="22" text-anchor="end">10<tspan font-size="19.0" dy="-12">1</tspan></text>
<text transform="matrix(0.5 0.0015 0 0.5 77.3 111.8)" font-size="22" text-anchor="end">10<tspan font-size="19.0" dy="-12">2</tspan></text>
<text transform="matrix(0.5 0.0015 0 0.5 83.75 218.6)" font-size="22" text-anchor="middle">0</text>
<text transform="matrix(0.5 0.0015 0 0.5 149.78 218.6)" font-size="22" text-anchor="middle">50</text>
<text transform="matrix(0.5 0.0015 0 0.5 215.8 218.6)" font-size="22" text-anchor="middle">100</text>
<text transform="matrix(0.5 0.0015 0 0.5 252.8 262.5)" font-size="22" text-anchor="middle">n</text>
<text transform="translate(14.6 121.5) rotate(-90) scale(0.5)" font-size="22" text-anchor="middle">p<tspan font-size="19.0" dy="7.6">n</tspan></text>
<text transform="matrix(0.5 0.0015 0 0.5 5.6 27.2)" font-size="32">(A)</text>
<text transform="matrix(0.5 0.0015 0 0.5 399.5 28.5)" font-size="23" text-anchor="end">c=0</text>
<path d="M420.4 22.8h3.6v3.6h-3.6z" fill="#c6c6c6"/>
<text transform="matrix(0.5 0.0015 0 0.5 399.5 44.1)" font-size="23" text-anchor="end">c=10<tspan font-size="19.0" dy="-12">-5</tspan></text>
<path d="M420.45 38.45l3.5 3.5m-3.5 0l3.5 -3.5" fill="none" stroke="#ff0000" stroke-width="0.75"/>
<text transform="matrix(0.5 0.0015 0 0.5 399.5 59.2)" font-size="23" text-anchor="end">c=3 10<tspan font-size="19.0" dy="-12">-4</tspan></text>
<path d="M420.3 55.3a1.9 1.9 0 1 0 3.8 0a1.9 1.9 0 1 0 -3.8 0z" fill="#00f400"/>
<text transform="matrix(0.5 0.0015 0 0.5 399.5 74.4)" font-size="23" text-anchor="end">c=10<tspan font-size="19.0" dy="-12">-3</tspan></text>
<path d="M422.2 67.4l2.65 4.9h-5.3z" fill="#ffa500"/>
<text transform="matrix(0.5 0.0015 0 0.5 399.5 89.6)" font-size="23" text-anchor="end">c=10<tspan font-size="19.0" dy="-12">-2</tspan></text>
<path d="M420.25 85.7a1.95 1.95 0 1 0 3.9 0a1.95 1.95 0 1 0 -3.9 0z" fill="none" stroke="#0000ff" stroke-width="0.5"/>
<path d="M511 229.5v-3.4M511 14v3.4M523.99 229.5v-1.7M523.99 14v1.7M531.59 229.5v-1.7M531.59 14v1.7M536.98 229.5v-1.7M536.98 14v1.7M541.17 229.5v-1.7M541.17 14v1.7M544.59 229.5v-1.7M544.59 14v1.7M547.47 229.5v-1.7M547.47 14v1.7M549.98 229.5v-1.7M549.98 14v1.7M552.19 229.5v-1.7M552.19 14v1.7M554.16 229.5v-3.4M554.16 14v3.4M567.15 229.5v-1.7M567.15 14v1.7M574.75 229.5v-1.7M574.75 14v1.7M580.14 229.5v-1.7M580.14 14v1.7M584.33 229.5v-1.7M584.33 14v1.7M587.75 229.5v-1.7M587.75 14v1.7M590.63 229.5v-1.7M590.63 14v1.7M593.14 229.5v-1.7M593.14 14v1.7M595.35 229.5v-1.7M595.35 14v1.7M597.32 229.5v-3.4M597.32 14v3.4M610.31 229.5v-1.7M610.31 14v1.7M617.91 229.5v-1.7M617.91 14v1.7M623.3 229.5v-1.7M623.3 14v1.7M627.49 229.5v-1.7M627.49 14v1.7M630.91 229.5v-1.7M630.91 14v1.7M633.79 229.5v-1.7M633.79 14v1.7M636.3 229.5v-1.7M636.3 14v1.7M638.51 229.5v-1.7M638.51 14v1.7M640.48 229.5v-3.4M640.48 14v3.4M653.47 229.5v-1.7M653.47 14v1.7M661.07 229.5v-1.7M661.07 14v1.7M666.46 229.5v-1.7M666.46 14v1.7M670.65 229.5v-1.7M670.65 14v1.7M674.07 229.5v-1.7M674.07 14v1.7M676.95 229.5v-1.7M676.95 14v1.7M679.46 229.5v-1.7M679.46 14v1.7M681.67 229.5v-1.7M681.67 14v1.7M683.64 229.5v-3.4M683.64 14v3.4M696.63 229.5v-1.7M696.63 14v1.7M704.23 229.5v-1.7M704.23 14v1.7M709.62 229.5v-1.7M709.62 14v1.7M713.81 229.5v-1.7M713.81 14v1.7M717.23 229.5v-1.7M717.23 14v1.7M720.11 229.5v-1.7M720.11 14v1.7M722.62 229.5v-1.7M722.62 14v1.7M724.83 229.5v-1.7M724.83 14v1.7M726.8 229.5v-3.4M726.8 14v3.4M511 229.5h3.4M726.8 229.5h-3.4M511 216.53h1.7M726.8 216.53h-1.7M511 208.94h1.7M726.8 208.94h-1.7M511 203.55h1.7M726.8 203.55h-1.7M511 199.37h1.7M726.8 199.37h-1.7M511 195.96h1.7M726.8 195.96h-1.7M511 193.08h1.7M726.8 193.08h-1.7M511 190.58h1.7M726.8 190.58h-1.7M511 188.37h1.7M726.8 188.37h-1.7M511 186.4h3.4M726.8 186.4h-3.4M511 173.43h1.7M726.8 173.43h-1.7M511 165.84h1.7M726.8 165.84h-1.7M511 160.45h1.7M726.8 160.45h-1.7M511 156.27h1.7M726.8 156.27h-1.7M511 152.86h1.7M726.8 152.86h-1.7M511 149.98h1.7M726.8 149.98h-1.7M511 147.48h1.7M726.8 147.48h-1.7M511 145.27h1.7M726.8 145.27h-1.7M511 143.3h3.4M726.8 143.3h-3.4M511 130.33h1.7M726.8 130.33h-1.7M511 122.74h1.7M726.8 122.74h-1.7M511 117.35h1.7M726.8 117.35h-1.7M511 113.17h1.7M726.8 113.17h-1.7M511 109.76h1.7M726.8 109.76h-1.7M511 106.88h1.7M726.8 106.88h-1.7M511 104.38h1.7M726.8 104.38h-1.7M511 102.17h1.7M726.8 102.17h-1.7M511 100.2h3.4M726.8 100.2h-3.4M511 87.23h1.7M726.8 87.23h-1.7M511 79.64h1.7M726.8 79.64h-1.7M511 74.25h1.7M726.8 74.25h-1.7M511 70.07h1.7M726.8 70.07h-1.7M511 66.66h1.7M726.8 66.66h-1.7M511 63.78h1.7M726.8 63.78h-1.7M511 61.28h1.7M726.8 61.28h-1.7M511 59.07h1.7M726.8 59.07h-1.7M511 57.1h3.4M726.8 57.1h-3.4M511 44.13h1.7M726.8 44.13h-1.7M511 36.54h1.7M726.8 36.54h-1.7M511 31.15h1.7M726.8 31.15h-1.7M511 26.97h1.7M726.8 26.97h-1.7M511 23.56h1.7M726.8 23.56h-1.7M511 20.68h1.7M726.8 20.68h-1.7M511 18.18h1.7M726.8 18.18h-1.7M511 15.97h1.7M726.8 15.97h-1.7M511 14h3.4M726.8 14h-3.4" stroke="#000" stroke-width="0.7" fill="none"/>
<path d="M511 153.9L512.81 153.01L514.63 152.12L516.44 151.23L518.25 150.34L520.07 149.44L521.88 148.55L523.69 147.66L525.51 146.77L527.32 145.87L529.13 144.98L530.95 144.09L532.76 143.19L534.57 142.3L536.39 141.4L538.2 140.51L540.02 139.61L541.83 138.72L543.64 137.82L545.46 136.93L547.27 136.03L549.08 135.13L550.9 134.24L552.71 133.34L554.52 132.44L556.34 131.55L558.15 130.65L559.96 129.76L561.78 128.87L563.59 127.98L565.4 127.09L567.22 126.2L569.03 125.31L570.84 124.43L572.66 123.54L574.47 122.65L576.28 121.77L578.1 120.88L579.91 119.99L581.72 119.1L583.54 118.21L585.35 117.32L587.16 116.43L588.98 115.54L590.79 114.64L592.61 113.74L594.42 112.84L596.23 111.94L598.05 111.04L599.86 110.13L601.67 109.22L603.49 108.3L605.3 107.39L607.11 106.46L608.93 105.54L610.74 104.61L612.55 103.67L614.37 102.74L616.18 101.79L617.99 100.84L619.81 99.88L621.62 98.92L623.43 97.94L625.25 96.96L627.06 95.98L628.87 94.98L630.69 93.99L632.5 92.99L634.31 91.98L636.13 90.98L637.94 89.97L639.75 88.97L641.57 87.96L643.38 86.96L645.19 85.97L647.01 84.97L648.82 83.98L650.64 83L652.45 82.02L654.26 81.05L656.08 80.07L657.89 79.09L659.7 78.1L661.52 77.11L663.33 76.11L665.14 75.09L666.96 74.06L668.77 73.02L670.58 71.96L672.4 70.9L674.21 69.83L676.02 68.75L677.84 67.66L679.65 66.57L681.46 65.46L683.28 64.35L685.09 63.24L686.9 62.12L688.72 61L690.53 59.87L692.34 58.73L694.16 57.59L695.97 56.43L697.78 55.27L699.6 54.1L701.41 52.91L703.23 51.71L705.04 50.49L706.85 49.25L708.67 47.99L710.48 46.72L712.29 45.44L714.11 44.15L715.92 42.87L717.73 41.58L719.55 40.31L721.36 39.03L723.17 37.75L724.99 36.48L726.8 35.2L726.8 229.5L511 229.5Z" fill="#dfeceb" stroke="none"/>
<path d="M511 153.9L512.81 153.01L514.63 152.12L516.44 151.23L518.25 150.34L520.07 149.44L521.88 148.55L523.69 147.66L525.51 146.77L527.32 145.87L529.13 144.98L530.95 144.09L532.76 143.19L534.57 142.3L536.39 141.4L538.2 140.51L540.02 139.61L541.83 138.72L543.64 137.82L545.46 136.93L547.27 136.03L549.08 135.13L550.9 134.24L552.71 133.34L554.52 132.44L556.34 131.55L558.15 130.65L559.96 129.76L561.78 128.87L563.59 127.98L565.4 127.09L567.22 126.2L569.03 125.31L570.84 124.43L572.66 123.54L574.47 122.65L576.28 121.77L578.1 120.88L579.91 119.99L581.72 119.1L583.54 118.21L585.35 117.32L587.16 116.43L588.98 115.54L590.79 114.64L592.61 113.74L594.42 112.84L596.23 111.94L598.05 111.04L599.86 110.13L601.67 109.22L603.49 108.3L605.3 107.39L607.11 106.46L608.93 105.54L610.74 104.61L612.55 103.67L614.37 102.74L616.18 101.79L617.99 100.84L619.81 99.88L621.62 98.92L623.43 97.94L625.25 96.96L627.06 95.98L628.87 94.98L630.69 93.99L632.5 92.99L634.31 91.98L636.13 90.98L637.94 89.97L639.75 88.97L641.57 87.96L643.38 86.96L645.19 85.97L647.01 84.97L648.82 83.98L650.64 83L652.45 82.02L654.26 81.05L656.08 80.07L657.89 79.09L659.7 78.1L661.52 77.11L663.33 76.11L665.14 75.09L666.96 74.06L668.77 73.02L670.58 71.96L672.4 70.9L674.21 69.83L676.02 68.75L677.84 67.66L679.65 66.57L681.46 65.46L683.28 64.35L685.09 63.24L686.9 62.12L688.72 61L690.53 59.87L692.34 58.73L694.16 57.59L695.97 56.43L697.78 55.27L699.6 54.1L701.41 52.91L703.23 51.71L705.04 50.49L706.85 49.25L708.67 47.99L710.48 46.72L712.29 45.44L714.11 44.15L715.92 42.87L717.73 41.58L719.55 40.31L721.36 39.03L723.17 37.75L724.99 36.48L726.8 35.2" fill="none" stroke="#000" stroke-width="1"/>
<rect x="511" y="14" width="215.8" height="215.5" fill="none" stroke="#000" stroke-width="1"/>
<path d="M550.56 100.2h7.2M554.16 96.6v7.2M550.56 96.6l7.2 7.2M550.56 103.8l7.2 -7.2" stroke="#ff0000" stroke-width="0.6" fill="none"/>
<circle cx="617.91" cy="100.2" r="3.5" fill="#00f400"/>
<path d="M640.48 96l3.4 6h-6.8z" fill="#ffa500"/>
<circle cx="683.64" cy="100.4" r="3.3" fill="none" stroke="#0000ff" stroke-width="0.5"/>
<text transform="matrix(0.5 0.0015 0 0.5 504.3 234.2)" font-size="22" text-anchor="end">10<tspan font-size="19.0" dy="-12">-6</tspan></text>
<text transform="matrix(0.5 0.0015 0 0.5 511.3 246.4)" font-size="22" text-anchor="middle">10<tspan font-size="19.0" dy="-12">-6</tspan></text>
<text transform="matrix(0.5 0.0015 0 0.5 504.3 191.1)" font-size="22" text-anchor="end">10<tspan font-size="19.0" dy="-12">-5</tspan></text>
<text transform="matrix(0.5 0.0015 0 0.5 554.46 246.4)" font-size="22" text-anchor="middle">10<tspan font-size="19.0" dy="-12">-5</tspan></text>
<text transform="matrix(0.5 0.0015 0 0.5 504.3 148)" font-size="22" text-anchor="end">10<tspan font-size="19.0" dy="-12">-4</tspan></text>
<text transform="matrix(0.5 0.0015 0 0.5 597.62 246.4)" font-size="22" text-anchor="middle">10<tspan font-size="19.0" dy="-12">-4</tspan></text>
<text transform="matrix(0.5 0.0015 0 0.5 504.3 104.9)" font-size="22" text-anchor="end">10<tspan font-size="19.0" dy="-12">-3</tspan></text>
<text transform="matrix(0.5 0.0015 0 0.5 640.78 246.4)" font-size="22" text-anchor="middle">10<tspan font-size="19.0" dy="-12">-3</tspan></text>
<text transform="matrix(0.5 0.0015 0 0.5 504.3 61.8)" font-size="22" text-anchor="end">10<tspan font-size="19.0" dy="-12">-2</tspan></text>
<text transform="matrix(0.5 0.0015 0 0.5 683.94 246.4)" font-size="22" text-anchor="middle">10<tspan font-size="19.0" dy="-12">-2</tspan></text>
<text transform="matrix(0.5 0.0015 0 0.5 504.3 18.7)" font-size="22" text-anchor="end">10<tspan font-size="19.0" dy="-12">-1</tspan></text>
<text transform="matrix(0.5 0.0015 0 0.5 727.1 246.4)" font-size="22" text-anchor="middle">10<tspan font-size="19.0" dy="-12">-1</tspan></text>
<text transform="matrix(0.5 0.0015 0 0.5 618.1 262.3)" font-size="22" text-anchor="middle">c</text>
<text transform="translate(473.7 122) rotate(-90) scale(0.5)" font-size="22" text-anchor="middle">ν</text>
<text transform="matrix(0.5 0.0015 0 0.5 461.3 28.9)" font-size="31">(B)</text>
</svg>
</body></html>
